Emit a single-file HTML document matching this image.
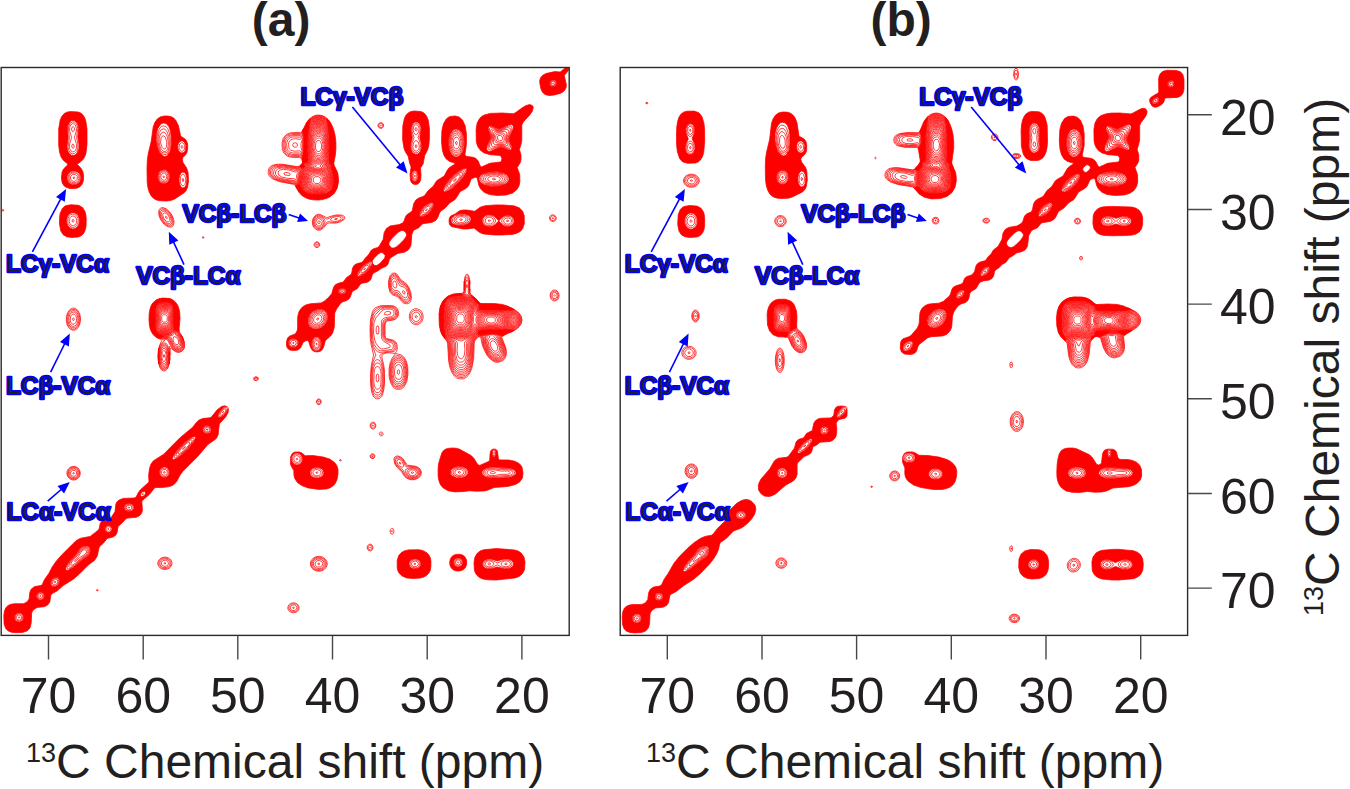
<!DOCTYPE html><html><head><meta charset="utf-8"><style>html,body{margin:0;padding:0;background:#fff;overflow:hidden}svg{display:block}text{font-family:"Liberation Sans",sans-serif;fill:#231f20}.lb,.lb2{font-weight:bold;font-size:24.35px;fill:#231f20;stroke:#0000ff;stroke-linejoin:round}.lb{stroke-width:2.4px;paint-order:stroke}.lb2{stroke-width:1.15px}.ar{stroke:#0000ff;stroke-width:1.6px;fill:none}.cf{fill:#f00;stroke:#f00;stroke-width:0.75px;fill-rule:evenodd}.cw{fill:#fff;fill-rule:evenodd}.ct{fill:none;stroke:#f00;stroke-width:0.75px}.tk{font-size:50px}.ax{font-size:48px}.sp{font-size:27px}</style></head><body><svg width="1350" height="789" viewBox="0 0 1350 789"><path class="cf" d="M550.2 95.5l-2.5-.2-2.6-.8-1.9-1.5-1.4-2-1.1-3-1-5.5 .1-2.5 1-2.5 1.9-2.2 3.3-1.8 8.7-1.9 5.5 .4 5.5-4.4 2.1-.1 .9 1-.1 1.5-4.3 5.5 2 9-.1 2.5-1 2.6-2 2.2-3 1.6-6 1.6-4 .5zM317.2 352l-3-.5-2.1-1.5-1.5-2.5-1.9-6-1.5-1-2 .5-2 1.3-2.7 5.7-2.8 2.1-3 .4-4-.2-2-.9-1.6-1.9-.6-2 0-3.5 1-4 2.2-1.9 5-1.9 1.5-1.7 1-2 .4-2.5 .1-11 .7-3.5 1.2-3 2.6-3.3 3.5-2.2 4.5-1.2 11-.9 3-1.6 4.3-3.8 3.3-4 1.7-6 1.6-2.5 2.4-1.5 5.7-1.4 3.4-4.6 4.4-3 .7-1.5 .9-5 1.6-2.7 2.5-1.6 4.5-1.1 1.5-.8 2.7-3.8 2.9-3 3.2-5 2.2-1.3 4-1.2 1.3-1 4.1-7 1.1-7 2.2-4 3.8-2.6 9-1.3 3.5-1.7 1.4-1.9 1.3-4 1.2-2 5.6-4 1.5-7.3 2-3.5 2.5-1.9 4.5-1.7 2-1.2 3.5-4.8 4.8-4.1 3.7-5.8 7.5-4.7 3.2-6 1.8-2.3 5.8-3.7-.1-1-5.2-1.5-3.5-2.6-2.4-3.9-1.5-5-.8-8.5 .4-11 1.5-6.5 2.8-4.9 2-1.7 1.9-.9 5.1-.5 4 1.1 3.3 2.9 2.7 5.9 1.2 7.6 0 11-1.5 10.5 1.8 1.4 6.5 .9 2.8 1.2 2.2 2.5 2 5 1.5 .9 8-3.6 10.6-1.3 1.2-1 .4-2.5-.7-2.1-1.5-1-9.5-.7-5.9-1.7-3.6-2.4-2.4-3.1-1.3-3-.7-3.5-.2-11.5 1.1-6.5 2.4-4.5 2.1-2 2.5-1.4 6-1.7 12-.4 11 .8 2.5-1.2 6.9-5.1 3.6-2 3.5-.9 2.5 .8 .8 1.1 .2 1.5-1.1 3.5-2.4 3.5-6.4 7-1.5 3 0 15-.6 3.8-1.8 5.7 1.6 5.5 0 4.5-.8 3.3-3 4.7 2.5 7 .2 7-.9 4.5-2.3 3.8-4.1 3.2-6.2 2-9.2 .5-7.5-.9-5.2-2.1-3.9-3.5-1.9-4-1.5-7.2-2-.6-3.3 1.3-1.2 1.5-1.5 4.5-1.5 2.4-2 1.7-5.5 3-5 7.8-5.6 3.6-4.4 5-4.5 3.2-1.2 1.8-1.9 5-1.9 2.4-4 2.1-9 1.2-4 4.1-4 1.9-1.5 1.2-1.4 3.6-.8 10.5-1.3 3-1.5 2-4 2.3-6.5 1.1-7 4.4-1.3 1.7-1.4 4.5-1.5 2-5.3 2.5-3.6 2.5-4 2-1.2 1.5-1.4 4.5-1.5 2-2.8 1.5-4.5 .7-1.7 .8-3.3 4.7-5 2.8-1.9 5.5-1.3 2-2.3 1.5-4.3 1.5-1.9 1.5-3.9 5.5-1.9 4-.4 14-1.6 5.9-2.1 3.1-5.2 4.5-1.8 6.5-1.4 2.7-2 1.6-3 .7zM417.7 184.1l-2.5 .4-2-.4-1.5-1.3-1-1.8-.7-6.5 1.1-7.5-1.5-4-1.4-6.7-3-4.8-1.2-3-1.4-9 .2-13.5 1.7-8 1.7-3.1 2-2 2.5-1.3 3.5-.6 6.7 .5 2.3 1 2 1.7 1.6 2.3 1.4 3.5 1.2 8.5 0 11-.7 6.5-1.2 4-2.8 5.5-1.6 8.5-2.6 4 .5 7-.3 4.5-1 2.8-2 1.8zM74.7 188.5l-4.5 0-3.5-.9-2.5-1.6-2-3.1-.8-4.9 .7-6 1.6-3.2 3.8-3.8 .3-1-4.3-3.5-2.3-3.3-1.6-4.7-.9-7 0-16.5 1.5-9.1 1.5-3.4 2.5-2.9 2.5-1.4 3.5-.6 8 .4 2.5 1 1.8 1.5 1.8 2.5 1.4 3.5 1.3 8.5 0 15.5-1.1 9-1.2 3.3-1.5 2.5-2 2-3.2 2.2-.5 1 3.7 4.1 1.6 2.9 .8 4-.3 5.5-1.1 3.1-2 2.4-2.5 1.4-3 .6zM170.7 200.6l-4 .4-7-.2-3.3-.8-2.7-1.5-2.5-2.6-2-3.8-1.3-4.6-.7-5.5-.2-14 .4-9 1-6 2.8-11.5 2-14.6 1.6-4.4 2.4-3.4 3-2.1 4-1 4 .1 3 .6 2.5 1.4 1.9 1.9 2.8 5.5 2.1 10 .7 1 3.5 2.2 1.3 1.3 1.2 2.4 .5 2.6-.1 4.5-.7 3-1.2 2.2-2.8 2.8-.6 2 .7 3 3.6 5.5 1.5 4.5 .4 8.5-.8 6.1-1.5 3.4-2 2.2-9.5 6.3-4 1.6zM78.2 237l-6.5 .5-5-.7-3.5-2.1-2.5-3.9-1.2-6.8 .1-6.5 .5-4 2.2-5 1.9-1.9 2-1 5-.9 7.5 .6 3.8 2.2 2.5 4 .9 3.5 .3 4-.1 6.5-.7 4-1.2 3-1.5 2-2 1.6-2.5 .9zM502.2 235l-8 0-11-1.1-4-1.7-5.1-4.2-5.9 .9-5 .1-11-2.2-2-1.3-.8-1.5-.4-3 .4-3 1.3-2 4.4-2 4.6-3.3 3-.6 4-.1 8 1.3 5.5-4.1 5-1.5 10.5-.8 7.5 .1 10.5 .8 5.5 2 3.3 3.2 1.7 4.5 .1 8-1.6 5.1-2.5 2.9-4 2-4 .9-10 .6zM22.2 632.5l-7 .2-4-.5-3-1.2-2.5-2.5-1.6-4.5-.3-8.5 .7-5 1.9-3.5 1.8-1.6 3-1.2 3.5-.5 9 0 3.5-1.9 1.9-2.8 .7-6.5 1.5-3.5 3.4-2.4 6-1 1.5-.9 2.3-5.2 4.3-6 3.4-6.5 3.4-5 6-7 13.6-13.4 2.5-1.9 3-1.5 9.5-1.8 8-6.2 1-1.7 1-5 1.4-2 2.6-1.5 5.5-1 1.5-1.5 3.8-6 .9-7.5 1-2 1.8-1.8 4.5-1.8 11-.4 2-1 1.9-4 2.1-3 8.8-8-.4-6.5 .9-7 1.3-4 2.4-3.5 10.5-6.8 16-16.1 13-10.9 4-5.1 2-1.9 4-1.7 7-.7 1.5-.5 6-7.5 4.5-3.4 3-.6 2.5 1.2 1.3 2.5-.4 3-2.5 4.5-6.3 7-1.1 10.4-1 2.6-1.4 2-7.9 5.5-10.2 12-15 15-2.5 3.3-3.5 6.8-2.5 2.7-2.5 1.5-3.5 1-6.5 .8-6-.1-1.5 .8-4.8 6.2-7.6 6.5 .6 9-.5 2.5-1.2 2.1-2 1.6-2.5 1.1-8.5 .8-2 .8-3.2 3.6-4.4 4-1 6-1.4 2.7-2.5 1.7-6 1.5-3.6 4.6-3.9 3.5-.7 1.5-1.7 8-2.6 4.2-6.4 4.8-9 9-5.6 4.9-10.5 6.7-6.2 5.4-5.3 2.8-.9 1.7-1 6.5-2.1 3-3.5 1.7-7 .7-3.4 2.1-1.5 2-.7 2-.4 9.5-1.1 4.5-1.4 2-1.7 1.5-4.8 1.5zM464.2 491.5l-9.5 .4-6.5-1.1-5-2.9-2-2.2-1.5-2.7-1.1-3.5-.5-4 0-7 .5-5 3.2-10.5 1.8-2.5 2.3-1.5 3.3-.8 4.5-.2 3.5 .4 2.5 .9 11.5 6.3 2.8 2.9 3.7 6.1 2 .8 9.5-4.2 .5-1.2 .4-6.5 .6-2.5 1.5-1.7 3-.2 1.5 .9 .8 1.5 .9 7 .8 1.4 9.5 .1 6 1.2 4.5 2.4 1.8 1.9 1.1 2 .9 6-.6 4.5-2.7 3.9-4.2 2.6-7.8 2-13.5 1-6.1 2.5-3.4 .9-8 .3-7.5-.4-5 .7zM326.2 489l-7.5 .4-10.5-1.5-6.5-2.3-4.3-3.1-2.7-4.2-.7-2.8-.2-5-2.6-4.4-.7-2.1 .1-7 1.6-3.5 2.5-1.4 4-.2 2.5 .7 4 3.1 8-.1 10 1.4 6.5 2.1 4.9 3.4 2.2 3 1.2 4 0 4.5-1.1 6-1.7 3.5-2.3 2.5-3.2 2-3.5 1zM496.7 580l-9-.2-4.5-.7-3.8-1.6-2.7-2.5-1.5-2.5-.8-2.5-.4-7 .8-5.5 2.4-4.2 3-2.3 3.5-1.3 13-1.1 17.5 1.3 4 1.2 3 2 2.8 3.9 1 5-.4 7-.9 2.6-1.6 2.4-2.9 2.4-4 1.5-18.5 2.1zM420.2 578.1l-7.5 .4-6-.6-4.5-1.9-3-2.8-1.2-2.2-.8-3 0-7.5 1.5-4.9 3-3.3 3-1.5 3.5-.9 10-.2 3.5 .5 3 1.2 2.4 1.6 1.6 1.7 1.5 2.8 .7 3.5 0 5.5-.7 4-1.5 2.8-2.2 2.2-2.8 1.6-3.5 1zM459.7 571l-3.5-.1-3-1.1-2-1.9-1.3-2.9-.2-3.5 1-3.3 2-2.4 3-1.4 4-.2 3 .9 2.3 1.9 1.5 3 .2 4-1.2 3.5-2.3 2.3-3.5 1.2z"/><path class="cw" d="M393.7 248.1l-2-.2-2.5-2.4-.3-2 .7-2 2.7-3.5 5.9-5.7 3-1.7 2.5 .1 2 1.8 .8 1.5 0 1.5-.8 1.8-2 2.7-5 5-2.5 2-2.5 1.1zM376.7 265.6l-2-.2-2-1.8-.6-1.6 .4-1.5 1.7-2.5 4.5-4.3 2-1.1 2 .2 2.5 2.7-.4 2.5-4.6 5.2-3.5 2.4z" style="stroke:#f00;stroke-width:0.75px"/><path class="cw" d="M554.2 86.6l-2.5-.1-1.3-1-.7-1.4 .4-2.6 2.1-1.6 2.5 .3 1 .8 .8 1.5-.3 2.5-2 1.6zM73.7 155.5l-2.5-.3-2-1.7-1.6-3-.6-4 1.2-9-.8-7.5 .3-4 2-4 1.5-1.2 1.5-.4 2 .4 2 1.7 1.3 2.5 .6 3.5-.8 8.5 1.2 7.5-.1 4-1.7 4.5-1.5 1.6-2 .9zM417.7 154.1l-2.5 .2-2.5-1.6-1.5-2.7-.6-3.5 .3-3 1.5-6-1.3-7 .2-3.5 1.6-3.5 1.3-1.1 1.5-.5 2 .4 1.6 1.2 1.4 2.5 .5 2.5-1.4 9 1.6 6.5 .1 4-1.3 3.7-2.5 2.4zM166.2 156.2l-1.5 .2-1.5-.5-3.6-3.4-2.3-5.5-1.1-6.5 .1-6.5 1.4-5.3 2.5-3.9 1.5-1.2 2-.6 2.5 .6 2.5 2.7 1.5 3.8 .9 5.9 .2 8-.8 6-.8 2.5-.8 .5-1.2 2.1-1.5 1.1zM491.2 151.1l-2 .3-1.5-.3-1.1-2.1 .7-3.5 3.5-7.5-.2-2.5-2.4-6.5 .5-2.3 1-.5 1.5 0 6 2.3 2.5 .4 2-.6 7-3.4 2.5-.3 1.5 .7 .6 1.2-.1 2.5-3.6 7.5-.5 2 .4 2.5 2.2 5.5-.2 2.5-.8 .7-2 0-6-2.3-2.5-.3-9 4zM458.2 156.6l-2 .4-1.5-.3-2.9-2.2-2.2-4-1.1-5.5 .2-5.8 1.6-5.2 2.5-3.5 1.5-1 1.9-.5 3 .9 2.5 2.6 1.8 4 .8 4.5-.1 5.1-1.2 4.9-2.3 3.8-2.5 1.8zM183.2 152.7l-2 .2-1.5-.9-1.1-1.5-.8-2.5 0-2.5 .6-2 1.3-1.8 1.5-.8 1.5 .1 1.5 .9 1.7 3.6-.4 4.5-.8 1.5-1.5 1.2zM446.2 191.6l-1.5 .1-1-.4-.3-2.3 1.8-4 4-5.4 5-5 5-3.9 4.5-2.3 2.5 .2 .6 1.4-.9 3-2.1 3.5-3.1 4-8 7.5-3.5 2.3-3 1.3zM165.2 183.5l-2.5 .1-2.2-1.1-1.7-2-.9-2.5 .1-3 1-2.5 1.7-1.8 2.5-1 2 .1 2.1 1.2 1.6 2 .8 2.5 0 2.5-.9 2.5-1.6 2-2 1zM75.7 184.6l-3 .1-2.5-1-1.9-1.7-1.2-2.5-.1-3 1-2.5 1.7-1.8 2.5-1.2 3-.1 2.5 1 2 2 1 2.1 .1 3-1 2.5-1.8 2-2.3 1.1zM416.2 181.1l-1.5 .4-1.5-.7-1-1.3-.7-2.5 0-2.5 .7-2 1-1.3 1.5-.7 1.5 .4 1 1 1.1 3.1-.3 3.5-1.8 2.6zM499.2 186l-8 .4-7-1.7-2.5-1.4-1.8-1.8-.9-2 .3-2 1.4-2 2.1-1.5 6.4-2.1 7.5-.3 7 1.7 2.5 1.3 1.9 1.9 .9 2-.3 2-1.4 2-2.1 1.5-6 2zM184.2 187.6l-1.5 .4-1.6-1-1.4-2.5-.6-3 0-3 .6-3 1.4-2.5 1.6-1 1.5 .4 1.1 1.1 1 2 .6 3-.4 5.5-.9 2-1.4 1.6zM422.7 216.6l-2-.2-1.1-1.4 .3-2.5 1.9-3.5 2.8-3 3.1-2.2 3-1.1 2 .4 .8 1.4-.1 1.5-2.2 4.4-4 4-4.5 2.2zM75.2 228.5l-2.5 .5-2.8-1-2.2-2.5-1-2.7-.1-3.3 1.1-3.4 2-2.4 2.5-1 2.5 .2 2 1.2 1.6 1.9 1 3 .1 3-.7 2.7-1.5 2.4-2 1.4zM462.7 225.5l-5.3 0-4.2-1.6-1.4-1.4-.7-1.5 .1-1.9 .9-1.6 3.1-2.4 4.5-1.3 5 .1 4.1 1.6 1.5 1.5 .6 1.5 0 1.5-.7 1.5-2.9 2.5-4.6 1.5zM490.7 226.6l-2.5 0-2.5-.8-1.8-1.3-1.3-2-.4-2 .5-2 1.5-2 2-1.2 3-.6 3.5 .7 2.5 1.6 3.2 3.5 .2 .5-3.4 3.5-2.5 1.5-2 .6zM507.2 226.5l-2.4-.5-2-1-4-4 2.1-2.5 2.7-2 2.6-.9 2.5 0 2 .5 2 1.4 1.2 2 .3 2-.7 2-1.3 1.5-2.5 1.2-2.5 .3zM360.7 276.1l-2.5 .3-1-1.4 .6-2.5 2.2-3.5 3.2-3.4 3.5-2.7 3-1.3 2 .3 .5 1.1-.3 1.5-2.5 4.5-4.2 4.3-4.5 2.8zM343.7 294l-2.5 .2-2.4-1.2-.7-2 .8-1.5 1.8-1 1.5-.2 1.5 .3 1.6 .9 .6 1 .1 1.5-.8 1.2-1.5 .8zM317.2 329l-4-.3-3.5-2.3-1.7-3.4 .1-4.5 1.8-4 3.3-3.3 4-1.9 4.5-.1 3 1.3 2 2.2 1.1 3.3-.3 3.5-1.5 3.5-2.3 2.8-3 2.1-3.5 1.1zM318.2 350.6l-2 .4-2-.8-1.5-1.7-1-2.5-.1-3 .6-2.6 1.5-2.3 2-1.1 2 .1 1.5 1 1.4 1.9 .7 2 .2 2.5-.5 2.5-1.3 2.4-1.5 1.2zM295.2 347.2l-3.5 0-1.5-.7-1.3-1.5-.4-3 .7-1.5 1.5-1.3 2-.7 2 .2 1.8 .8 1.4 1.5 .5 1.5-.3 2-1 1.5-1.9 1.2zM220.2 417.6l-1.5-.1-.7-1.5 .3-2 1.3-2.5 4.1-4.2 2-.9 1.6 .1 .7 1 0 1-1.3 3.5-3 3.6-3.5 2zM207.7 433.6l-1.5-.1-2-1-.9-1-.5-1.5 .2-1.5 .9-1.5 1.3-1 1.5-.5 1.5 .2 1.5 .7 1.5 2.6-.1 1.5-.7 1.5-1.2 1.1-1.5 .5zM173.7 459.6l-1-.3-.3-.8 .8-2.5 2.6-4 3.9-4.6 4.5-4.4 5-4 3.5-2.1 2.5-.3 .3 1.4-1.3 3-6 7.7-8 7.3-3.7 2.5-2.8 1.1zM494.7 456.7l-1.5 0-1.1-2.7 .2-3 1.4-2 1.5 .8 .7 2.2-.2 3-1 1.7zM299.2 464.5l-2.5 .5-2-.6-1.8-1.4-1.1-2-.3-2.5 .5-2 1.4-2 1.8-1.2 2-.3 2 .5 1.9 1.5 1.1 2 .3 2.5-.5 2-1.3 2-1.5 1zM461.7 478.1l-5.2-.1-4.3-2-1.3-1.5-.5-1.5 .1-2 .8-1.5 2.9-2.1 4-1.1 4.5 .5 3.6 1.7 1.8 2.5-.1 3-2.3 2.5-4 1.6zM166.2 477.1l-2 .3-2-.5-1.7-1.4-1-2-.1-2 .8-2 1.5-1.5 2-.9 1.5-.1 1.6 .5 1.4 1.4 1 2.1 .2 2-.5 1.5-1 1.5-1.7 1.1zM318.7 478l-4.5-.2-2-1-1.5-1.6-.7-1.7 .1-2 .7-1.5 1.6-1.5 2.8-1.1 3-.1 3 1.1 1.8 1.6 .9 2.5-.6 2.5-2 2-2.6 1zM496.2 478l-6 .1-4.5-1.1-3.2-2.5-.5-1.5 .2-1.5 1.7-2 2.3-1.3 3-.8 4-.3 17.5 1.3 3.5 1.4 1.7 2.2 0 1.5-.7 1.2-3.5 2.1-3.5 .6-12 .6zM142.2 496.5l-1-.2-.7-.8 .4-2 1.8-1.7 2-.2 .8 .9-.3 1.8-1.5 1.7-1.5 .5zM131.2 511.1l-3 .3-3.1-1.4-1.1-2.5 1.1-2.5 1.6-1 2.5-.5 2 .4 1.7 1.1 .9 1.5 0 2-.9 1.5-1.7 1.1zM110.2 532l-1.5 .5-1.5-.2-2-1.8-.1-2.5 1.6-2.1 2.5-.3 2.1 1.4 .6 1.5-.1 1.5-1.6 2zM68.7 570l-2 .2-.9-.7 0-1.5 .9-2.5 2.7-4 6.7-7.5 3.8-5.5 2.3-1.8 2.5-.8 2.5 .1 1.9 1 .9 1.5 .4 2.5-.6 2.5-1.2 2-6.9 4.7-8 7-5 2.8zM459.7 566.6l-2 .3-1.5-.5-1.3-.9-.9-1.5-.3-1.5 .4-2 1.1-1.5 1.5-.8 2-.3 1.5 .5 1.4 1.1 .9 1.5 .2 1.5-.5 2-1 1.2-1.5 .9zM417.2 568.5l-4 .2-2-.9-1.4-1.3-.9-3 .5-1.5 1.3-1.7 2-1 2.5-.4 2.5 .6 2.1 1.5 1 2-.1 2.2-1.1 1.8-2.4 1.5zM508.7 568.6l-4.5 .2-7-1.9-6 1.8-4 0-2-.7-1.7-1.5-.8-1.5-.1-2 1.6-2.5 3.5-1.5 3.5 .1 6 1.8 7-1.9 4 .1 3.5 1.5 1.3 1.4 .6 1.5-.2 1.5-.9 1.5-1.8 1.3-2 .8zM55.2 586.6l-2 0-1.5-.7-1.1-1.9 .1-2 1-2 1.5-1.4 2-.9 2-.1 2 1.4 .4 3-1.6 3-2.8 1.6zM40.7 600.1l-1.5-.2-1.5-.8-1.4-2.6 .9-2.9 2.5-1.4 1.5 0 1.5 .7 1 1.1 .6 1.5-.1 1.5-.7 1.5-1.3 1.1-1.5 .5zM20.7 621.6l-1.5 .3-2-.4-1.5-1-.9-1.5-.3-2 .4-1.5 2.3-2.2 1.5-.4 2 .3 1.5 1 .9 1.3 .4 1.5-.3 2-1 1.6-1.5 1z"/><path class="ct" d="M554.2 86.6l-2.5-.1-1.3-1-.7-1.4 .4-2.6 2.1-1.6 2.5 .3 1 .8 .8 1.5-.3 2.5-2 1.6zM73.7 155.5l-2.5-.3-2-1.7-1.6-3-.6-4 1.2-9-.8-7.5 .3-4 2-4 1.5-1.2 1.5-.4 2 .4 2 1.7 1.3 2.5 .6 3.5-.8 8.5 1.2 7.5-.1 4-1.7 4.5-1.5 1.6-2 .9zM417.7 154.1l-2.5 .2-2.5-1.6-1.5-2.7-.6-3.5 .3-3 1.5-6-1.3-7 .2-3.5 1.6-3.5 1.3-1.1 1.5-.5 2 .4 1.6 1.2 1.4 2.5 .5 2.5-1.4 9 1.6 6.5 .1 4-1.3 3.7-2.5 2.4zM166.2 156.2l-1.5 .2-1.5-.5-3.6-3.4-2.3-5.5-1.1-6.5 .1-6.5 1.4-5.3 2.5-3.9 1.5-1.2 2-.6 2.5 .6 2.5 2.7 1.5 3.8 .9 5.9 .2 8-.8 6-.8 2.5-.8 .5-1.2 2.1-1.5 1.1zM491.2 151.1l-2 .3-1.5-.3-1.1-2.1 .7-3.5 3.5-7.5-.2-2.5-2.4-6.5 .5-2.3 1-.5 1.5 0 6 2.3 2.5 .4 2-.6 7-3.4 2.5-.3 1.5 .7 .6 1.2-.1 2.5-3.6 7.5-.5 2 .4 2.5 2.2 5.5-.2 2.5-.8 .7-2 0-6-2.3-2.5-.3-9 4zM458.2 156.6l-2 .4-1.5-.3-2.9-2.2-2.2-4-1.1-5.5 .2-5.8 1.6-5.2 2.5-3.5 1.5-1 1.9-.5 3 .9 2.5 2.6 1.8 4 .8 4.5-.1 5.1-1.2 4.9-2.3 3.8-2.5 1.8zM183.2 152.7l-2 .2-1.5-.9-1.1-1.5-.8-2.5 0-2.5 .6-2 1.3-1.8 1.5-.8 1.5 .1 1.5 .9 1.7 3.6-.4 4.5-.8 1.5-1.5 1.2zM446.2 191.6l-1.5 .1-1-.4-.3-2.3 1.8-4 4-5.4 5-5 5-3.9 4.5-2.3 2.5 .2 .6 1.4-.9 3-2.1 3.5-3.1 4-8 7.5-3.5 2.3-3 1.3zM165.2 183.5l-2.5 .1-2.2-1.1-1.7-2-.9-2.5 .1-3 1-2.5 1.7-1.8 2.5-1 2 .1 2.1 1.2 1.6 2 .8 2.5 0 2.5-.9 2.5-1.6 2-2 1zM75.7 184.6l-3 .1-2.5-1-1.9-1.7-1.2-2.5-.1-3 1-2.5 1.7-1.8 2.5-1.2 3-.1 2.5 1 2 2 1 2.1 .1 3-1 2.5-1.8 2-2.3 1.1zM416.2 181.1l-1.5 .4-1.5-.7-1-1.3-.7-2.5 0-2.5 .7-2 1-1.3 1.5-.7 1.5 .4 1 1 1.1 3.1-.3 3.5-1.8 2.6zM499.2 186l-8 .4-7-1.7-2.5-1.4-1.8-1.8-.9-2 .3-2 1.4-2 2.1-1.5 6.4-2.1 7.5-.3 7 1.7 2.5 1.3 1.9 1.9 .9 2-.3 2-1.4 2-2.1 1.5-6 2zM184.2 187.6l-1.5 .4-1.6-1-1.4-2.5-.6-3 0-3 .6-3 1.4-2.5 1.6-1 1.5 .4 1.1 1.1 1 2 .6 3-.4 5.5-.9 2-1.4 1.6zM422.7 216.6l-2-.2-1.1-1.4 .3-2.5 1.9-3.5 2.8-3 3.1-2.2 3-1.1 2 .4 .8 1.4-.1 1.5-2.2 4.4-4 4-4.5 2.2zM75.2 228.5l-2.5 .5-2.8-1-2.2-2.5-1-2.7-.1-3.3 1.1-3.4 2-2.4 2.5-1 2.5 .2 2 1.2 1.6 1.9 1 3 .1 3-.7 2.7-1.5 2.4-2 1.4zM462.7 225.5l-5.3 0-4.2-1.6-1.4-1.4-.7-1.5 .1-1.9 .9-1.6 3.1-2.4 4.5-1.3 5 .1 4.1 1.6 1.5 1.5 .6 1.5 0 1.5-.7 1.5-2.9 2.5-4.6 1.5zM490.7 226.6l-2.5 0-2.5-.8-1.8-1.3-1.3-2-.4-2 .5-2 1.5-2 2-1.2 3-.6 3.5 .7 2.5 1.6 3.2 3.5 .2 .5-3.4 3.5-2.5 1.5-2 .6zM507.2 226.5l-2.4-.5-2-1-4-4 2.1-2.5 2.7-2 2.6-.9 2.5 0 2 .5 2 1.4 1.2 2 .3 2-.7 2-1.3 1.5-2.5 1.2-2.5 .3zM360.7 276.1l-2.5 .3-1-1.4 .6-2.5 2.2-3.5 3.2-3.4 3.5-2.7 3-1.3 2 .3 .5 1.1-.3 1.5-2.5 4.5-4.2 4.3-4.5 2.8zM343.7 294l-2.5 .2-2.4-1.2-.7-2 .8-1.5 1.8-1 1.5-.2 1.5 .3 1.6 .9 .6 1 .1 1.5-.8 1.2-1.5 .8zM317.2 329l-4-.3-3.5-2.3-1.7-3.4 .1-4.5 1.8-4 3.3-3.3 4-1.9 4.5-.1 3 1.3 2 2.2 1.1 3.3-.3 3.5-1.5 3.5-2.3 2.8-3 2.1-3.5 1.1zM318.2 350.6l-2 .4-2-.8-1.5-1.7-1-2.5-.1-3 .6-2.6 1.5-2.3 2-1.1 2 .1 1.5 1 1.4 1.9 .7 2 .2 2.5-.5 2.5-1.3 2.4-1.5 1.2zM295.2 347.2l-3.5 0-1.5-.7-1.3-1.5-.4-3 .7-1.5 1.5-1.3 2-.7 2 .2 1.8 .8 1.4 1.5 .5 1.5-.3 2-1 1.5-1.9 1.2zM220.2 417.6l-1.5-.1-.7-1.5 .3-2 1.3-2.5 4.1-4.2 2-.9 1.6 .1 .7 1 0 1-1.3 3.5-3 3.6-3.5 2zM207.7 433.6l-1.5-.1-2-1-.9-1-.5-1.5 .2-1.5 .9-1.5 1.3-1 1.5-.5 1.5 .2 1.5 .7 1.5 2.6-.1 1.5-.7 1.5-1.2 1.1-1.5 .5zM173.7 459.6l-1-.3-.3-.8 .8-2.5 2.6-4 3.9-4.6 4.5-4.4 5-4 3.5-2.1 2.5-.3 .3 1.4-1.3 3-6 7.7-8 7.3-3.7 2.5-2.8 1.1zM494.7 456.7l-1.5 0-1.1-2.7 .2-3 1.4-2 1.5 .8 .7 2.2-.2 3-1 1.7zM299.2 464.5l-2.5 .5-2-.6-1.8-1.4-1.1-2-.3-2.5 .5-2 1.4-2 1.8-1.2 2-.3 2 .5 1.9 1.5 1.1 2 .3 2.5-.5 2-1.3 2-1.5 1zM461.7 478.1l-5.2-.1-4.3-2-1.3-1.5-.5-1.5 .1-2 .8-1.5 2.9-2.1 4-1.1 4.5 .5 3.6 1.7 1.8 2.5-.1 3-2.3 2.5-4 1.6zM166.2 477.1l-2 .3-2-.5-1.7-1.4-1-2-.1-2 .8-2 1.5-1.5 2-.9 1.5-.1 1.6 .5 1.4 1.4 1 2.1 .2 2-.5 1.5-1 1.5-1.7 1.1zM318.7 478l-4.5-.2-2-1-1.5-1.6-.7-1.7 .1-2 .7-1.5 1.6-1.5 2.8-1.1 3-.1 3 1.1 1.8 1.6 .9 2.5-.6 2.5-2 2-2.6 1zM496.2 478l-6 .1-4.5-1.1-3.2-2.5-.5-1.5 .2-1.5 1.7-2 2.3-1.3 3-.8 4-.3 17.5 1.3 3.5 1.4 1.7 2.2 0 1.5-.7 1.2-3.5 2.1-3.5 .6-12 .6zM142.2 496.5l-1-.2-.7-.8 .4-2 1.8-1.7 2-.2 .8 .9-.3 1.8-1.5 1.7-1.5 .5zM131.2 511.1l-3 .3-3.1-1.4-1.1-2.5 1.1-2.5 1.6-1 2.5-.5 2 .4 1.7 1.1 .9 1.5 0 2-.9 1.5-1.7 1.1zM110.2 532l-1.5 .5-1.5-.2-2-1.8-.1-2.5 1.6-2.1 2.5-.3 2.1 1.4 .6 1.5-.1 1.5-1.6 2zM68.7 570l-2 .2-.9-.7 0-1.5 .9-2.5 2.7-4 6.7-7.5 3.8-5.5 2.3-1.8 2.5-.8 2.5 .1 1.9 1 .9 1.5 .4 2.5-.6 2.5-1.2 2-6.9 4.7-8 7-5 2.8zM459.7 566.6l-2 .3-1.5-.5-1.3-.9-.9-1.5-.3-1.5 .4-2 1.1-1.5 1.5-.8 2-.3 1.5 .5 1.4 1.1 .9 1.5 .2 1.5-.5 2-1 1.2-1.5 .9zM417.2 568.5l-4 .2-2-.9-1.4-1.3-.9-3 .5-1.5 1.3-1.7 2-1 2.5-.4 2.5 .6 2.1 1.5 1 2-.1 2.2-1.1 1.8-2.4 1.5zM508.7 568.6l-4.5 .2-7-1.9-6 1.8-4 0-2-.7-1.7-1.5-.8-1.5-.1-2 1.6-2.5 3.5-1.5 3.5 .1 6 1.8 7-1.9 4 .1 3.5 1.5 1.3 1.4 .6 1.5-.2 1.5-.9 1.5-1.8 1.3-2 .8zM55.2 586.6l-2 0-1.5-.7-1.1-1.9 .1-2 1-2 1.5-1.4 2-.9 2-.1 2 1.4 .4 3-1.6 3-2.8 1.6zM40.7 600.1l-1.5-.2-1.5-.8-1.4-2.6 .9-2.9 2.5-1.4 1.5 0 1.5 .7 1 1.1 .6 1.5-.1 1.5-.7 1.5-1.3 1.1-1.5 .5zM20.7 621.6l-1.5 .3-2-.4-1.5-1-.9-1.5-.3-2 .4-1.5 2.3-2.2 1.5-.4 2 .3 1.5 1 .9 1.3 .4 1.5-.3 2-1 1.6-1.5 1zM553.7 86.1l-2-.3-1.4-1.8 .4-2.3 2-1.2 2.1 .5 1.1 2-.5 2-1.7 1.1zM74.7 153.5l-2.5 .4-2-1.2-1.5-2.5-.7-3.2 1.4-9.5-1-7 .1-3.5 1.7-3.8 2.5-1.4 2 .5 1.5 1.4 1 2 .5 2.8-1.1 9 1.2 6.5 .1 3.5-1.2 4-2 2zM417.7 152.5l-2 .4-2-.9-1.5-2.3-.6-3.2 .3-3 2.1-6-1.9-6 0-4 1.4-3 2.2-1.3 1.5 .2 1.5 1 1 1.7 .6 2.4-.3 3-1.8 6 2.1 6 .3 4-1 3-1.9 2zM166.2 154.5l-2.5 .1-3.1-2.1-2.2-4.5-1.3-6 0-6 1.1-4.8 2-3.6 1.5-1.2 1.5-.6 2.5 .6 2 2.2 1.5 3.9 .9 5.5 .2 6.5-.6 5-1.1 3-2.4 2zM490.7 150l-2-.5-.7-1.5 .5-3 3-7-.2-2.5-1.9-5.5 .3-2 1-.6 1.5 .1 5 1.7 2.5 .3 2-.4 6.5-2.9 2-.2 1.1 .5 .7 1.5-.2 2-2.7 6-.6 2.5 2.1 7.5-.4 2.1-2 .5-5.5-1.8-2.5-.3-9.5 3.5zM457.7 155.6l-3-.2-2.5-1.9-2.1-4-1-5 .3-5 1.3-4.5 2.5-3.5 3-1.3 2.5 .7 2.5 2.4 1.7 3.7 .8 4.5-.3 5-1.2 4.3-2 3.1-2.5 1.7zM182.7 151.2l-1.5 0-1-.7-1.2-3 .6-3.5 2.1-1.5 2 .9 1.1 2.6-.2 3-.9 1.5-1 .7zM446.2 190.5l-1-.1-.7-.9 .4-2.5 2.3-4 3.5-4.3 4.5-4.4 4.5-3.2 3.5-1.6 2 .4 .3 1.6-.9 2.5-2.1 3.5-3.3 4-7.5 6.5-3 1.8-2.5 .7zM165.2 182.6l-2 .1-2-.7-1.5-1.5-1-2.5 0-2.5 1-2.5 1.5-1.6 2-.8 2 .2 1.5 .8 1.5 1.8 .7 2.1 0 2.5-.7 2-1.2 1.5-1.8 1.1zM414.7 180.5l-1-.4-1-1.2-.6-3.4 1.1-3.1 2-.9 1 .5 1 1.3 .6 3.2-1.1 3-2 1zM75.7 183.6l-2.5 .2-2-.6-2-1.5-1.1-2.2-.2-2.5 .6-2 1.7-2 2-1 2.5-.2 2 .6 1.9 1.6 1.1 2 .2 2.5-.6 2-1.5 2-2.1 1.1zM498.2 185.5l-7 .2-6.6-1.7-2.4-1.5-1.3-1.5-.6-1.5 .3-2 1.1-1.5 2-1.5 6-2 7.5-.2 6.2 1.7 2.4 1.5 1.3 1.5 .6 1.5-.3 2-1.1 1.5-2.1 1.6-6 1.9zM183.7 185.6l-1 .1-1.1-.7-.9-1.5-.5-2.5 .5-4.5 1-1.6 1-.6 1 .1 1 1 1.1 3.6-.4 4-.7 1.6-1 1zM423.7 215.6l-2 0-1.1-1.1 0-2 1.5-3 2.6-2.9 3-2.1 2.5-.8 1.7 .3 .6 1 0 1.5-1.7 3.5-3.4 3.5-3.7 2.1zM73.2 227.5l-2-.4-2-1.6-1.1-2-.4-2.5 .3-2.5 1.2-2.4 1.5-1.4 2-.6 2 .3 2 1.5 1.2 2.1 .4 2.5-.3 2.5-1.2 2.5-1.6 1.4-2 .6zM463.7 224.5l-5 .4-4-1.3-2.1-2.1-.3-1.5 .5-1.5 2.6-2.5 3.8-1.3 4.5-.1 3.5 1.1 2.2 2.3 0 2.5-2.2 2.5-3.5 1.5zM490.2 225.6l-2-.1-2-.6-1.6-1.4-.9-1.6-.1-1.9 .6-1.6 1.5-1.6 2-.8 2.5-.2 2.2 .7 2 1.5 1.1 2-.2 2-1 1.5-2.1 1.5-2 .6zM507.7 225.5l-2-.3-2-1-1.6-1.7-.4-1.5 .4-1.5 1.2-1.5 1.9-1.1 2-.4 2 .2 2 .9 1.3 1.4 .5 2-.3 1.5-1 1.5-1.5 1-2.5 .5zM359.7 275.5l-1.2-.5-.2-1.5 1-2.5 1.9-2.7 5.5-4.7 2.5-1 1.5 .2 .5 1.2-.3 1.5-2.7 4.2-4.5 4.1-4 1.7zM343.2 293.6l-2 .1-1.5-.7-.9-1.5 .5-1.5 2.4-1.1 1.6 .1 1.4 .8 .7 1.2-.2 1-.7 1-1.3 .6zM317.7 328.1l-4-.2-3-1.8-1.8-3.1-.1-4 1.7-4 2.9-3 3.8-1.9 4-.1 2.6 1 2 2 1.1 3-.1 3-1.1 3-2 2.7-3 2.3-3 1.1zM317.2 350l-2-.2-1.5-1.2-1-1.7-.5-2.4 .2-2.5 .8-2 1.5-1.6 1.5-.5 1.5 .2 1.5 1.1 1.1 1.8 .5 2.5-.2 2.5-.8 2-1.1 1.2-1.5 .8zM294.7 346.5l-3-.1-2.1-1.9-.3-1.5 .3-1.5 2.1-1.9 3-.1 1.5 .8 1 1.2 .3 1.5-.3 1.5-1 1.2-1.5 .8zM220.7 416.6l-1.2-.1-.6-1 .3-1.9 1-2 3.5-3.5 1.5-.7 1.3 .1 .6 1 0 1-1.4 3-2.5 2.7-2.5 1.4zM208.7 432.5l-2.5 .3-2.3-1.8-.1-2.5 1.9-2 2.5-.1 1.9 1.6 .3 2.5-1.7 2zM175.2 458l-1.2-.5 .6-2.5 5.7-7.5 8.4-7.5 3-1.7 2-.2 .3 1.4-.9 2-5.4 7-7 6.5-3 2-2.5 1zM494.7 455.5l-1 .3-1-1.8 0-2.2 1-1.6 1 .3 .6 1.5 0 2-.6 1.5zM298.7 463.6l-1.5 .3-2-.4-1.5-1.1-1-1.9-.2-2 .6-2 1.1-1.4 1.5-.8 2-.2 1.5 .6 1.4 1.3 .7 1.5-.2 3.5-.9 1.5-1.5 1.1zM459.7 477.5l-4.5-.8-3-2.2-.6-1.5 0-1.5 .7-1.5 1.7-1.5 3.2-1.2 4-.1 3.5 1.3 1.9 2 .5 2.5-1.1 2-2.8 1.8-3.5 .7zM164.2 476.5l-1.5-.4-1.5-1.1-.8-1.5-.2-1.5 .4-1.5 1.1-1.4 3-1.1 1.5 .4 1.3 1.1 1 3-.3 1.5-1 1.4-1.5 .9-1.5 .2zM494.2 477.5l-4.5-.2-4-1.3-1.3-1-1-1.5 .5-2.5 1.7-1.5 2.1-1 5.5-.7 16.5 1.2 3 1 1.8 2 0 1.5-.7 1-3.1 1.7-16.5 1.3zM318.2 477.1l-4-.4-2.6-2.2-.4-1.5 .2-1.5 .9-1.5 1.3-1 2.6-.8 2.5 .2 2.3 1.1 1.2 1.5 .4 2-.8 2-1.6 1.4-2 .7zM143.2 494.5l-.8 0 0-.5 .8-.6 .4 .6-.4 .5zM130.2 510.6l-2.9-.1-1.9-1.5-.5-2 1.4-2 1.4-.6 2-.1 2 .7 1 1 .4 1.5-.4 1.4-1 1.1-1.5 .6zM108.7 531.5l-2-.7-.8-1.8 .8-1.8 1.5-.7 1.7 .5 1 1.5-.5 2-1.7 1zM70.2 568.5l-2 .4-1-.6 0-1.6 .9-2.2 2.8-4 5.9-6.5 3.4-4.9 1.9-1.6 2.1-.8 2.5 0 1.7 .8 1 1.5 .3 2-.4 2-1.1 2-6.5 4.5-7.3 6.5-4.2 2.5zM458.7 566.1l-2.5-.6-1-1-.6-1.5 .6-2.7 2.5-1.6 2.8 .8 1.4 2.5-.7 2.6-1 .9-1.5 .6zM415.2 568l-3.5-1-1.7-2.5 .1-1.5 .8-1.5 1.3-1 2-.7 3.5 .7 1.5 1.4 .6 1.6-.2 1.5-.9 1.5-1.5 1-2 .5zM506.2 568l-3.5-.5-5.5-2.7-5 2.7-2 .5-2.5-.1-3-1.6-.8-1.3-.2-1.6 1.5-2.4 3-1.2 4 .5 5 2.7 6.7-3 2.8-.2 2.9 .7 2.3 2 .1 2.5-1.9 2-3.9 1zM55.7 585.7l-1.5 .2-1.5-.4-1-1.1-.3-1.9 .5-1.5 1.3-1.5 1.9-1 1.6-.1 1.7 1.1 .4 2.5-1.1 2.2-2 1.5zM41.7 599.1l-2.5 .1-1.9-1.7-.1-2.5 .6-1 1.4-1 2.5 .1 1.7 1.9-.1 2.5-1.6 1.6zM19.7 621l-2.7-.5-1-1-.6-1.5 .4-2.5 .9-1 1.5-.7 2.5 .3 1.1 .9 .8 1.5 0 1.5-.6 1.5-2.3 1.5zM554.2 85.1l-1.5 .2-1.3-.8-.3-1.5 1-1.5 1.6-.2 1 .7 .5 1.5-1 1.6zM74.2 151.6l-1.5 .3-1.7-.9-1.3-2.3-.3-2.2 .3-3 1.9-6-1.9-6.4-.1-3.6 1.1-2.6 2-1.2 1.5 .2 1 .9 1.3 3.7-.3 3.1-1.8 5.9 1.9 6 .3 3.5-.9 3-1.5 1.6zM416.7 134.5l-1 .1-1-.7-1-1.6-.6-2.3 .5-3.5 2.1-1.7 1.4 .2 1.1 .9 .9 2.6-.5 3.5-1.9 2.5zM493.7 148l-3 .3-1.1-1.3 .1-2 2.4-7-1.4-7 .5-1.9 2-.3 4.5 1.2 2.5 .1 7-2.4 2.6 .3 .6 1 0 1.5-2.5 7.5 1.4 7-.2 1.5-.9 .7-1 .1-5-1.3-2.5-.1-6 2.1zM164.7 153l-2.6-.5-1.8-2.5-1.6-4.3-.7-4.7 .2-4.5 1-3.9 2-2.9 2-.9 2 .6 2 2.6 1.5 4.5 .6 5-.1 5-1 4.2-1.1 1.8-2.4 .5zM458.2 154l-1.5 .5-1.5-.2-2.5-1.8-1.9-3.5-.8-4 .1-5 1.1-4 2-3 1.5-1.1 1.5-.4 2.5 .8 2 2 1.4 3.2 .7 3.5 0 4-.8 4-1.8 3.3-2 1.7zM416.7 151.1l-1.5-.1-1-.8-1-1.6-.4-2.1 .9-3.9 1-1.4 1.5-.7 2 1.6 1.2 3.9-.7 3.2-2 1.9zM182.2 148.3l-1.1-.8 .1-1.4 .5-.5 .5 0 .6 .9 0 1-.6 .8zM447.7 189.1l-1 0-.7-.6 .1-2 1.6-3.1 3-3.9 4-4 4-3 3-1.5 2 .1 .4 1.4-.6 2-4.2 6-6.5 6-5.1 2.6zM164.7 181.6l-2-.1-1.5-.8-1-1.3-.6-1.9 .6-3.5 1.3-1.5 1.7-.8 1.5 .1 1.5 .7 1.2 1.5 .6 2-.7 3.5-1.1 1.3-1.5 .8zM75.2 182.6l-2 .1-2-.7-1.5-1.5-.6-1.5-.1-2 .7-1.9 1.5-1.5 1.5-.6 2-.1 1.7 .6 1.3 1.1 1 1.9 .1 2-.6 1.8-1.5 1.6-1.5 .7zM415.7 179l-1.6 0-1.2-2 .3-2.8 1.5-1.4 1.5 .7 .7 1.5-.2 2.5-1 1.5zM496.2 185l-6.5-.3-5-1.7-2.6-2.5-.4-1.5 .4-1.5 1.2-1.5 2.4-1.5 3-1 4-.6 4 .1 3.5 .7 3.1 1.3 1.9 1.5 .9 1.5 .1 1.5-1.5 2.5-3.6 2-4.9 1zM183.2 181.5l-.5-.1-.5-1.4 .5-1.4 .5-.1 .6 1.5-.6 1.5zM424.2 214.5l-1.9 0-.7-1 .1-1.5 1.3-2.5 1.7-2 2.5-1.9 2-.8 1.7 .2 .5 2-1.4 3-2.8 2.9-3 1.6zM460.7 224l-3.5-.5-2.5-1.5-.8-2 .8-2 2.5-1.7 3.5-.9 3.5 .3 2.7 1.3 1.2 2-.9 2.5-3 1.9-3.5 .6zM73.7 225.6l-1.5-.1-1.5-.8-1-1.4-.5-1.8 .1-2 .9-2 1-1 1.5-.5 1.5 .2 1.2 .8 1.4 3-.6 3.5-1 1.3-1.5 .8zM490.7 224l-2.9 0-2.1-1.5-.5-2.5 1.5-2.1 1.5-.6 2-.1 1.5 .6 1.4 1.2 .6 1.5-.4 1.5-1.1 1.3-1.5 .7zM508.7 224.1l-2.7-.1-2-1.5-.4-2 1.4-2 3.2-.7 2 .7 .9 1 .4 1.5-.3 1.3-1 1.2-1.5 .6zM361.7 274.1l-1.5 .2-.8-.8 .4-2 1.6-2.5 4.8-4.4 2-.8 1.5 .1 .1 2.1-1.8 3-2.9 3-3.4 2.1zM342.7 293l-1.5-.1-1.3-.9-.1-1 .7-1 2.2-.4 1.5 .9 .1 1.5-1.6 1zM317.7 327.1l-3.5-.1-2.6-1.5-1.8-3-.1-3.5 1.5-3.5 2.5-2.7 3.5-1.7 3.5-.2 2.5 .9 1.7 1.7 1 2.5 0 3-.9 2.5-1.8 2.5-2.5 2-3 1.1zM317.7 348.7l-1.5 .3-1.5-.7-1.1-1.3-.6-2 0-2 .6-2 1.1-1.3 1.5-.7 1.5 .3 1 .8 1.3 2.9-.4 3.5-1.9 2.2zM294.2 345.6l-2-.2-1.5-1.4 0-2 1.5-1.4 2.2-.1 1.7 1.5 0 2-1.9 1.6zM221.7 415.2l-1 .1-.7-.8 .8-2.5 2.9-2.9 2-.2 .3 1.1-.8 2-1.7 2-1.8 1.2zM208.2 431.7l-2 .1-1.4-1.3-.1-1.5 1.1-1.5 1.9-.3 1.6 1.3 .1 2-1.2 1.2zM177.2 456.1l-1.3-.1 .3-2 4.5-6.2 7-6.2 3-1.7 1.4 .1 .1 1-.9 2-4.1 5.3-5.5 5.1-4.5 2.7zM494.2 453.6l-.6-.6 .6-.6 0 1.2zM297.2 462.5l-2.5-1-.9-2 .5-2.5 1-1 1.4-.5 2.5 .9 1 2.1-.5 2.5-1 1-1.5 .5zM460.2 476.5l-3.5-.3-2.9-1.7-.9-2.5 1.3-2.3 2.5-1.3 3-.4 2.6 .5 2.4 1.5 1 2-.5 2-2 1.7-3 .8zM495.7 476.5l-4.5 .2-3.5-.9-2.4-1.8-.4-1 .3-1.5 1-1.1 2-1 5-.7 7.5 .9 8.5 .3 2.7 1.1 1 1.5-.2 1-.9 1-2.4 1-8.7 .3-5 .7zM165.7 475.1l-2.5 0-1.6-1.6 .1-2.5 1.5-1.5 2.5 0 1.4 1.5 .1 2.4-1.5 1.7zM318.7 475.6l-2.5 .3-2.5-1.1-.9-2.3 .9-1.9 1.5-.9 2-.2 3 1.2 .7 1.3 0 1.5-.7 1.2-1.5 .9zM130.2 509.7l-2 .1-1.5-.8-.7-1.5 .7-1.5 2.5-.9 2.1 .9 .6 2-1.7 1.7zM108.7 529.6l-1-.6 .5-.6 .8 .6-.3 .6zM71.2 567l-1.5 .3-1-.7 .9-3.1 2.5-3.5 5.1-5.5 3.5-4.9 1.5-1.3 2-.8 2-.1 1.5 .7 .9 1.4 .3 2-.6 2-1.1 1.5-6 4.1-6.5 5.8-3.5 2.1zM458.7 565l-2-.4-1.1-1.6 .3-2 1.8-1.2 2 .4 1.1 1.8-.5 2-1.6 1zM416.2 566.6l-2.5 .1-1.8-1.2-.5-2 1.3-1.9 3-.6 2.3 1.5 .4 1-.2 1.5-2 1.6zM491.2 566.6l-2.5 .3-2.4-.9-1.1-1.5 .4-2 1.6-1.2 1.5-.4 2 .2 2 .9 .9 1 .1 1.5-.7 1-1.8 1.1zM508.2 566.5l-3 .3-2.5-.8-1.6-1.5 .2-1.5 1.4-1.2 2-.8 2 0 2 .5 1.3 1 .5 1.5-.7 1.5-1.6 1zM55.7 584.6l-2 .1-1-.7-.3-1 1-2.5 2.3-1.1 1.6 .6 .5 1.5-.6 1.9-1.5 1.2zM41.7 598l-1.5 .5-1.8-1-.4-2 1.2-1.5 2-.1 1.2 1.1 .2 1.5-.9 1.5zM19.2 620.1l-2-.7-.9-1.9 .8-2 1.6-.7 2 .6 .9 1.6-.5 2-1.9 1.1zM553.2 83.8l-.6-.3 .6-.7 .4 .7-.4 .3zM73.2 131.7l-1.2-.7-.5-2 .7-2 1-.4 1 .9 .3 1.5-.3 1.6-1 1.1zM416.2 131l-1-.7-.2-1.3 .3-1 .9-.5 1 1.5-.3 1.5-.7 .5zM493.7 146.6l-1.5-.2-.8-1.4 1.5-6.5-.8-6.5 .5-1.5 1.6-.4 6 .8 6-1.5 2 .5 .4 1.6-1.5 6 .8 6.5-.6 1.5-1.6 .4-6.5-.7-5.5 1.4zM165.2 151.7l-2-.4-1.8-1.8-1.4-3-.8-4 0-4 .8-3.5 1.3-2 1.9-.9 1.5 .5 1.6 1.9 1.2 3 .7 4 0 3.5-.5 3.3-1 2.2-1.5 1.2zM457.7 152.7l-2.5 0-2-1.5-1.5-2.7-.9-4 .1-4 1.2-4 1.9-2.5 2.2-1 2 .5 1.9 2 1.2 2.5 .7 3.5 0 3.5-.9 3.5-1.4 2.6-2 1.6zM73.2 148.2l-1-.4-.5-1.8 .5-1.5 1-.5 1.1 2-.3 1.5-.8 .7zM416.2 147.7l-.5-.2-.6-1.5 .4-1 .7-.3 .9 1.3-.9 1.7zM448.7 187.5l-1.1-.5 .2-2 3.9-5.7 6.1-5.3 2.9-1.4 1.5 .1 .3 1.3-.8 2-3.5 4.8-5.2 4.7-4.3 2zM164.7 180.1l-1.5 .1-1-.4-1.4-2.3 .4-2.7 2-1.6 1.5 0 1 .7 1.1 2.1-.3 2.5-1.8 1.6zM497.7 184l-5.5 .3-5.3-1.3-1.7-1-1.4-1.5-.3-2.5 2.4-2.5 4.4-1.5 5.4-.3 5.4 1.3 3.1 2.4 .4 1.1-.1 1.5-2.4 2.5-4.4 1.5zM75.2 181.2l-1.5 .2-1.4-.4-1.8-2 .2-2.8 2-1.8 2.6 .1 2 2-.1 2.7-2 2zM415.2 176.7l-.7-.2 .2-1.3 .6 .3-.1 1.2zM425.2 213l-1.5 .2-.7-.7 .7-2.6 3-3 2-.8 1 .3 .4 1.1-.9 2.1-2 2.2-2 1.2zM462.7 222.5l-3 .3-2.5-.8-1.3-1.5 .2-1.5 1.6-1.5 2-.7 2.5-.2 2.5 .8 1.2 1.1 .1 1.5-1.1 1.5-2.2 1zM73.2 222.1l-.6-.1-.6-1 .7-1.5 1 .3 .3 .7-.1 1-.7 .6zM489.7 221.6l-1-.1-.5-.5 .5-1.1 1.5 .3 .1 .8-.6 .6zM508.2 221.7l-1.5-.1 0-1.1 .5-.4 1.3 .4 .2 .5-.5 .7zM362.7 272.6l-1.5 .1-.3-.7 1.3-2.9 3.5-3.2 2.5-.6 .3 1.2-1.3 2.4-2 2.1-2.5 1.6zM342.2 291.7l-.6-.2 0-.5 1 0 .1 .5-.5 .2zM317.7 326l-3-.1-2.5-1.4-1.4-2.5 0-3 1.2-3 2.4-2.5 3.3-1.5 3 0 2 .9 1.4 1.6 .8 2-.1 2.5-.9 2.5-1.5 2-2.2 1.6-2.5 .9zM316.7 347.6l-1-.2-1-.8-.7-2.1 .4-2.5 1.8-1.6 1 .1 1 .8 .8 2.2-.4 2.5-.9 1.2-1 .4zM293.7 343.6l-.8-.1 0-1 1 0 .3 .5-.5 .6zM222.7 412.8l-.5-.3 .3-.5 1.2-.8-1 1.6zM207.7 430.1l-1.3-.1 .2-1 1.1 0 0 1.1zM179.7 453.6l-1.5 .2-.1-.8 3-4.5 5.1-4.8 2-1.3 1.5-.3-.2 1.9-2.6 3.5-3.7 3.7-3.5 2.4zM297.7 459.6l-1 .3-.5-.6 .1-.8 .9-.4 .5 .3 0 1.2zM461.2 475.1l-2.5 .3-2.6-.9-1.3-1.5 .3-2 1.1-1 2-.7 2 0 2.2 .7 1.4 1.5 0 1.5-1.1 1.4-1.5 .7zM494.7 475.5l-3 .1-2.8-.6-1.8-1.5-.1-1.5 2.2-1.7 4-.6 8 1.4 6.5-.1 1.5 .5 1 1-.5 1.1-2 .7-6.5 0-6.5 1.2zM164.7 473.2l-1-.2-.2-.5 .7-1.1 1.1 .6-.6 1.2zM317.2 473.5l-1.3-.5 .3-1 1-.1 .8 .6-.8 1zM129.2 508.1l-1-.6 .3-.5 1.2 .3-.5 .8zM72.2 565.2l-1 0-.5-.7 1-2.5 6.1-7 3.4-4.8 3-1.8 1.5-.1 1.4 .7 .6 1 .2 1.5-1.4 3-5.8 4-5.5 4.9-3 1.8zM458.2 563.1l-.7-.6 .7-.8 .7 .8-.7 .6zM490.2 564.7l-1 .3-1-.4-.3-1.1 .8-.6 1.3 .1 .7 1-.5 .7zM415.2 564.6l-1-.2 0-1 1.5 .1 .1 .5-.6 .6zM506.7 564.6l-1.7-.1-.2-1 .9-.4 1 .1 .6 .8-.6 .6zM55.7 582.6l-1 .4-.4-.5 .4-1 1.1 0-.1 1.1zM40.7 596.6l-.9-.1-.1-.5 .4-.5 .8 .5-.2 .6zM19.2 618.1l-.9-.6 .4-.7 .9 .2 .1 .5-.5 .6zM504.7 144.5l-9.5 .1-1.4-.6-.4-1.5 .1-9 .5-1.5 1.7-.6 9 0 1.5 .6 .4 1.5-.1 9.5-.5 1-1.3 .5zM457.2 151.1l-2-.2-1.5-1.2-1.4-2.7-.5-3 .1-3 .8-3 1.5-2.2 2-1 1.5 .3 1.5 1.4 1.3 2.5 .5 3-.1 3-.7 2.8-1.4 2.2-1.6 1.1zM164.7 149l-1.5-.3-1-1.1-1.6-4.6 .4-5 .9-1.5 1.3-.7 1 .3 1.2 1.4 1.4 4.5-.3 4.5-.8 1.8-1 .7zM451.7 185.1l-1.5 .3-.6-.9 .8-2 1.8-2.5 5-4.5 2-.9 1 .2-.1 1.7-1.9 3-3.4 3.5-3.1 2.1zM497.2 183.1l-4.5 .2-4.5-1-2.4-1.8-.5-1 .2-1.5 2.1-2 3.6-1.2 4.5-.1 4 1 2.5 1.8 .5 2-1.5 2-4 1.6zM164.2 177.5l-.8 0-.4-.5 .2-1 .5-.2 .9 .7-.4 1zM74.2 178.7l-1-.2-.2-.5 .7-1.1 1.1 .6-.6 1.2zM426.2 210.6l-.6-.1 0-.5 1.6-1.2 .1 .7-1.1 1.1zM461.2 220.5l-1-.1-.5-.9 1-.6 1.2 .1 .3 1-1 .5zM364.7 269.6l-.5 .3-.4-.4 1.4-1.4 .4 .4-.9 1.1zM318.7 324.5l-2.5 .4-2.4-.9-1.3-1.5-.6-2.5 .6-2.5 1.7-2.3 2.5-1.6 2.5-.5 1.7 .4 1.5 1 .9 1.5 .4 2-.4 2-1.1 2-1.6 1.5-1.9 1zM316.7 344.9l-.7-.4 .2-1.4 .5 0 .5 .9-.5 .9zM182.7 449.6l-.1-.6 .8-1 2-1.5-.7 1.5-2 1.6zM459.7 473.1l-1.1-.1-.5-1 1.1-.5 1 .3 .3 .7-.8 .6zM494.7 473.6l-3 .2-1-.4-.5-.9 1.5-.9 2-.1 1.9 1-.9 1.1zM75.7 561.1l-1 .4-.1-.5 3.8-4.5 3.4-5.5 2.4-1.4 1.8 .4 .6 2-1.1 2-5.8 3.5-4 3.6zM504.2 143.1l-5.5 .2-3-.8-.8-1.5-.3-2.5 0-3.5 .6-1.7 1-.6 2-.1 4.5 .3 1.6 .6 .9 2 .2 4.5-.2 2-1 1.1zM457.2 148.7l-1.5 .1-1.1-.8-.9-1.5-.6-2.5 .6-4.5 1-1.6 1.5-.8 1.4 .4 1 1 1.1 3.5-.5 4.3-1 1.7-1 .7zM495.7 182l-3 .1-2.6-.6-2.1-1.5-.2-1.5 1.3-1.5 3.1-1 3.8 0 2.9 1 1.3 1.5-.2 1.5-1.8 1.4-2.5 .6zM454.7 181l-1 .4-.1-.4 1.1-1.5 1.5-.9-.1 .9-1.4 1.5zM318.2 323.1l-2 .1-1.4-.7-1.1-1.5-.1-1.5 .6-2 1.3-1.5 1.7-1 2-.2 2.1 1.2 .7 2.5-1.3 2.9-2.5 1.7zM502.7 142.1l-3.5 .1-2.5-1.2-.7-1.5-.3-2.5 .2-1.5 .8-1.2 3.5-.5 2 .4 1.1 .8 .8 2 .2 2.5-.4 1.5-1.2 1.1zM456.7 144.5l-.6 0-.5-1 .1-1.5 .5-.6 .5 .1 .6 1-.6 2zM495.2 179.6l-2 .1-.9-.7 .9-.7 1.5 0 1 .7-.5 .6zM317.7 320.1l-.6-.1-.4-1 .5-.8 1-.3 .7 1.1-1.2 1.1zM501.7 140.5l-2 .2-1.9-1.2-.5-2.5 .9-1.5 2-.2 2 1.2 .5 2.5-1 1.5z"/><path class="cf" d="M305.2 162.5l-2 .4-.5-.4-.5-2.5 1.7-8.5 .3-9-.3-6.5-1.3-5.5 3.7-7.5 3.9-4.6 .4 .1-2.4 10-1.2 10-.1 10.5 .6 11-.4 1.5-1.9 1zM322.7 199.6l-4.5 .4-5.5-.2-4-.8-3.5-1.4-3-1.9-2.5-2.4-1.9-2.8-2.2-4.5 2.1-1.2 1.5 0 3 5 2.5 2.4 4 1.8 5 .8 7.5-.1 5-1 4-2.2 2.6-3.5 1.2-4.5 0-7-.7-3.5-2-4.5 .6-3.5-2-2-.6-1.5 .5-13-.2-12-1-9-2.2-9 .3-.2 2.5 2.6 2.6 4.1 1.9 4.8 1.4 5.7 .8 6.5 0 7.5-.6 6-1.7 8.5 .4 1.5 2.5 4.5 1.3 3.5 .6 4 .1 4.5-1.3 6.3-3 5.2-5 3.9-6.5 2.2zM303.2 168.1l-1.5 0-2-2.1 3-2.7 1.9 2.7-.2 1-1.2 1.1zM3.7 210.3l0-.4 0 .4zM469.7 291.4l0-11.3 0 11.3zM464.2 290.4l0-9.3 0 9.3zM445.2 338.8l-2-2.4-1.9-3.4-2-7.5-.3-11.5 .6-4.5 1.1-4 3-5.5 4.7-4 5.8-2 7.5-.5-.2 1-.8 .7-7 .4-4.1 1.4-2.9 2.4-2 3.6-1.3 7-.1 14.5 .4 5.5 1.5 6.5 0 2.3zM471.2 295.5l0-.6 0 .6zM510.7 310.1l-30-.6-1.3-1.5-.2-3.7-2.7-1.3-2.3-3.5-2.4-2.5-.6-1.5 .5-.1 3.5 2.6 5.1 5.5 14.4 .1 7.5 .8 5.5 1.7 6.5 3.4-3.5 .6zM159.2 338.6l-3-1.4-2.5-2-2-2.8-1.5-3.4-.8-4-.4-5 .2-6.5 .8-4.5 1.2-3.5 1.5-2.5 4-3.4 5.5-1.5 7.5 .4 3 1.3 2.7 2.2 2.1 3 1.4 3.5 .8 4 .3 5.5-1 12.5-.3 .6-3.5-.7-.7-.4-.5-1-.1-18-.5-3.5-1.2-2.8-1.6-1.7-2.4-1-5.5-.2-3 .6-2 1.2-1.6 2.4-.8 3-.3 4.5 0 12 .9 5 2.3 3.4 4.8 2.1 .1 .5-3.9 2.1zM503.2 335.7l-6.5-1.6-4.5-.5-4.5 .3-7.5 1.3-1.4-.7-.4-2 .8-1.6 2-.6 27-.6 6 .8-11 5.2zM180.7 334.7l0-.5 0 .5zM181.2 335.7l0-.8 0 .8zM181.7 336.8l-.4-.8 .4-.3 0 1.1zM182.2 337.9l-.4-.9 .4-.4 .3 .9-.3 .4zM182.7 338.9l-.4-.9 .4-.4 0 1.3zM183.7 341.2l-.9-2.2 .4-.3 .5 2.5zM184.2 342.3l0-.7 0 .7zM158.7 363.8l-.7-7.8 .7-7.8 .3 7.8-.3 7.8zM169.2 364.3l-.2-9.8 .7-2.7 .3 6.2-.8 6.3zM339.7 460.6l0-.4 0 .4zM96.7 590.3l0-.4 0 .4z"/><path class="ct" d="M296.7 188.3l-1.5-2.9-1.5-1.1-13.5-2.5-7.3-2.8-2.2-1.5-1.7-2-.8-2 0-2 .5-2.5 1.3-2 2.1-1.5 2.6-.9 4-.4 4.5 .1 14 2.4 2-.6 2.6-2.1 .7-1.5 0-1.5-.8-1.9-1-1.2-1.5-.5-6 .1-3.3-.5-2.7-1-2.5-2-1.4-2-.9-2.5-.4-6 1.2-5.3 3-3.5 2.1-1.2 2.9-.8 9.5-.3 1.5-1.3 1.4-2.6M306.3 123l2.6-3.5 3-2.5 3.3-1.6 3.5-.4 3.5 .6 3 1.4 3 2.7 2.5 3.3M333.7 163.5l.3 2 1.1 2M382.2 128.1l-2 .3-2-1.4-.3-2 1.3-2 2.5-.4 1.7 1.4 .2 2.5-1.4 1.6zM171.2 227.1l-2.5-.1-3-1.5-2.7-2.5-2.3-3.3-1.6-3.7-.5-3.5 .6-3 1.5-1.6 2.5-.3 3.3 1.4 3.2 2.9 2.4 3.6 1.6 4 .3 3.5-.8 2.7-2 1.4zM3.2 211.1l-1.1-.6 .6-1.1 1 .6-.5 1.1zM320.2 230.1l-2.5 .1-2-.9-1.8-1.8-1.2-2.5-.4-3 .6-3 1.3-2.4 2-1.6 2-.7 2 .1 6.5 3.3 6.7-2.2 4.3-.7 4.5 .4 1.7 .8 .8 1 .2 1-.8 1.5-4 2.5-4.4 1.1-7-.1-1.5 .5-4.2 5-2.8 1.6zM553.7 221.6l-2.5-.4-1.7-2.2 .3-2.5 .9-1 1.5-.7 2.5 .4 1.6 2.3-.4 2.5-2.2 1.6zM203.7 238.2l-1.2-.2 .2-1.2 1.2 .2-.2 1.2zM317.7 247.6l-2-.2-1.7-1.9 .2-2.1 2-1.6 2 .2 1.6 2-.2 2-1.9 1.6zM408.2 303.6l-2 .2-2.5-.8-2-1.6-4-4.7-5.5-2-2-2.2-1.5-5-.1-6.5 1.1-4.5 1-1.7 1.5-1.4 2.5-.4 2 .9 4 5.7 5 3.5 3 4 2.1 5.4 .7 5-.9 4-.9 1.2-1.5 .9zM463.7 378.7l-4 .2-3-.9-2.5-2-2.5-3.9-1.7-4.6-1.3-6-1.1-18.5-1-2-4.6-6.5-2.1-5.5M439.9 308l2.8-6.6 2.4-2.9 2.5-2 5.1-2.2 9-.9 1.7-.9 .6-2 .6-12 .8-3 1.3-1.5 1.3 .5 1 2 1 7.5M470 289l0 3.5 .8 2 4.9 4 3.8 4.5 1.7 .7M510.7 307.6l5.5 3.1 3 2.5 2.1 3.3 .7 3.5-.7 3.5-2.1 3.3-3 2.5-5.5 3.1M504.2 335.3l-2 1.1-.4 1.1 3.9 10 .7 4-.2 3.6-1 2.8-1.5 1.9-2.5 1.6-3 .9-2 0-2.5-.8-4.5-3.5-2.9-4-2.7-5.5-1.4-4.1-1.4-6.9-1.1-.6-1 0-2 1.4-1.6 2.2-.9 2.5-.5 15.5-2 10.1-1.5 3.7-2 3.2-2 1.9-2.5 1.3M556.2 300.6l-2 .4-1.5-.5-1.5-1.4-.9-2.1-.2-2 .6-2.2 1.3-1.8 1.7-.9 2 .1 1.5 .8 1.7 3 .2 2-.5 2-.9 1.5-1.5 1.1zM165.7 370.6l-2 .4-2-.9-1.5-1.9-1.2-3.2-.9-6 .2-8 1-5 2.4-5.5-.9-1-4-2M179 329.5l.4 2.5 3 5 1.8 4.5 .5 4-.5 3-2 2.7-3.5 1.3-3-.7-4.5-3.3-1 0-.2 6.5M170 358l-1.3 8.1-1.4 2.9-1.6 1.6M379.7 398.5l-3.5 .4-2.5-1.9-1.6-3.5-1.2-6-.4-7.5 .3-10 .8-6 2-9-2.4-10-.9-6.5-.3-11 .6-8.5 1.9-7.5 1.2-2.1 2-1.8 5.5-2 10.5 0 3.2 .9 2.5 2 1.1 3-.2 4-1.1 2.2-2 1.6-2.5 .9-5 .7-2 1.4-.7 2.7 .1 10.5 .6 2 1 1 6.5 1.7 2.7 1.8 1.1 2.5 .3 4.5-.8 2.5-1.3 1.9-6-.6-3 .2-2.8 1-1.4 1.5-.1 2 1.8 7.4 .7 5.1 .1 13-.6 6-1 4.5-1.2 3-2 2zM75.2 330l-3 .2-2.8-1.7-2.2-3.5-.9-4 .1-4.5 1.3-4.1 2.1-2.9 2.9-1.4 2.5 .3 2.5 1.8 1.9 3.3 .9 4-.1 4-1.1 4-1.6 2.7-2.5 1.8zM417.7 324.6l-3 0-2.3-1.1-1.9-2-1.1-3 0-3.5 1-3 1.8-2.1 2.5-1.1 2.5 0 2.7 1.2 1.9 2 1.2 3 .1 3-.9 3-2 2.4-2.5 1.2zM400.7 389.2l-4 .1-2-.9-1.5-1.3-2.5-4.2-1.5-5.9-.2-7.5 1.1-6.5 2.1-4.9 3.5-4.5 5 1.1 3 2.1 2.5 4.1 1.5 5.6 .2 8-1.1 7-2.6 5.1-1.5 1.5-2 1.1zM256.7 380.6l-1.8-.1-1.2-.9-.3-1.1 .8-1.2 2-.6 2 1 .2 1.8-1.7 1.1zM319.7 404.6l-2-.1-1.3-2 .3-2.3 1.5-1.3 2 .4 1 1.7-.1 2-1.4 1.6zM373.7 429l-1.5 0-1-.6-1.2-2.4 .7-2.6 2-1.3 2 .6 1.2 2.3-.4 2.5-1.8 1.5zM382.2 435.7l-1.5 .2-1.2-.9-.3-1.5 1-1.3 1.5-.1 1.2 .9 .2 1.5-.9 1.2zM373.2 458.6l-2-.3-1.1-1.3 .2-2 1.4-1.2 2 .2 1.2 1.5-.3 2-1.4 1.1zM414.7 479.6l-3 .2-2.5-.5-2.5-1.1-2.1-1.7-3.2-5-4.2-4-2.4-3.5-.9-4.5 .3-1.5 1-1.4 2-.7 3 .7 3 2.4 3.2 5 1.3 1.2 8 1.1 2.5 1.1 1.9 1.6 1.3 3-.6 3.5-2.3 2.5-3.8 1.6zM340.7 461.1l-1-.6 .5-1.1 1.1 .6-.6 1.1zM74.7 480l-2.5-.1-2.5-1.1-2-2.3-.8-2.5 .2-2.5 1.2-2.5 1.9-1.7 2.5-.9 2.5 .1 2.5 1.2 1.6 1.8 .9 2.5 0 2.5-1 2.5-2 2-2.5 1zM392.7 534.1l-1.5-.1-1.1-2 .3-2.5 1.3-1.2 1.5 .6 .7 1.6-.2 2.4-1 1.2zM370.7 551l-2.3-.5-1.3-2.5 .6-2.5 2-1.4 2 .5 1.3 2.4-.4 2.5-1.9 1.5zM320.7 571.1l-3 .1-3-.8-2.5-1.9-1.5-2.5-.3-3 .8-2.5 2-2.3 2.5-1.4 3.5-.5 3.2 .7 2.8 1.9 1.7 2.6 .4 3-1.1 3-2.5 2.4-3 1.2zM167.7 569l-2.5 .5-2.5-.3-2.5-1.2-1.5-1.5-.9-2 0-2 .9-2.3 1.6-1.7 2.9-1.2 3-.1 2.5 .8 2.3 2 1 2.5-.2 2.5-1.6 2.5-2.5 1.5zM97.7 591.1l-1.1-.6 .6-1 1.1 .5-.6 1.1zM295.2 612.6l-2 .2-2-.4-2-1.3-1-1.5-.4-1.6 .4-2 1-1.5 1.5-1.1 2-.5 2.5 .1 2 1 1.5 1.8 .5 2.2-.6 2-1.4 1.6-2 1zM297.4 189l-1.7-3.7-1.5-1.4-14-2.7-6.8-2.7-3.3-3-.9-3.5 .5-2.5 1.2-2 1.8-1.4 2.5-.9 3.5-.4 4.5 .1 14 2.3 2.5-.8 2.7-2.4 .6-1.5-.1-1.5-.9-2.5-1.3-1.6-1.5-.4-8.5-.2-3-1.1-2.2-1.7-2.1-4-.5-6 1-4.5 1.2-2 1.6-1.5 2.5-1.4 2.5-.5 9-.2 1.5-1.3 1.5-3M306.2 124l2.5-3.6 3-2.7 3-1.6 3.5-.6 3.5 .4 3.3 1.6 2.9 2.5 2.6 3.5M330.5 123.5l.6 1M333.3 163l.2 2.5 1.5 2.5M381.2 127.6l-1.5-.3-1-1.3 .2-1.5 1.3-1.1 1.5 .1 1.2 1.5-.2 1.5-1.5 1.1zM170.7 226.1l-2.5-.1-2.5-1.4-2.5-2.3-2-3-1.4-3.3-.4-3 .4-2.5 1.4-1.5 2.5-.3 2.5 1 2.7 2.3 2.3 3.1 1.5 3.4 .5 3.5-.5 2.5-2 1.6zM320.7 229.1l-2.5 .3-2-.7-1.8-1.7-1.2-2.5-.2-3 .6-2.5 1.3-2 1.8-1.4 2-.5 2 .3 5 3.3 1.5 .5 5.5-2.7 4-.9 4.5 .3 2 1.5 0 1.1-1.1 1.5-4.4 2-4 .5-5.5-.9-1 .2-4 5.4-2.5 1.9zM553.7 220.6l-2-.2-1.2-1.4 .2-2 1.5-1.2 2 .2 1.1 1.5-.3 2-1.3 1.1zM317.7 246.7l-1.5 0-1.3-1.2 0-1.5 1.3-1.3 1.5 0 1.2 1.3 0 1.5-1.2 1.2zM407.2 302.6l-2 0-2-1-5.5-6.1-5-1.6-2.2-2.4-1.3-4.3-.1-5.7 1.1-4.5 2-2.5 2.5-.5 1.9 1 4.1 5.9 4.9 3.1 2.6 3.5 2 5.1 .5 4.9-1 3.4-2.5 1.7zM462.7 377.5l-3.5 0-2.6-1-2.4-2.1-2.3-3.9-1.7-4.8-1-5.2-1-17.5-.9-2-5.1-7-2.3-7M439.9 310l1-4 1.6-3.5 2.2-3 2.5-2.2 5.5-2.6 9.5-.9 1.5-.8 .7-2 .4-11 .9-3.3 1-1.1 1 .2 .5 .7 1 3.4 .3 12.1 .4 2 1.2 1.5 4.5 3.5 3.6 4.3 2 .8M510.2 307.7l5.6 3.3 3 2.5 2 3 .7 3.5-.7 3.5-2 3-3 2.5-5.6 3.3M503.7 335.1l-1.9 .9-.7 1.5 4.1 10.1 .6 3.9-.3 3.5-1 2.5-1.8 2-2.5 1.4-2.5 .6-2.5-.3-2.7-1.2-2.5-2-2.4-3-4.2-8.5-.9-3.5-.6-5-.5-1-2.2-.8-2.5 1.4-2.2 2.9-.9 2.5-.6 15.5-.8 5.5-1.3 4.5-1.7 3.9-2 2.6-2 1.6-2.5 .9M554.7 300l-2.5-1.1-.9-1.4-.4-2 .4-2 .9-1.4 2.5-1.1 1.5 .4 1 .9 1.1 3.2-1.1 3.2-1 .9-1.5 .4zM164.2 370l-2.5-.9-2-3.4-1-4.7-.3-6.5 .6-5.5 1.2-4 2-2.8 2.7-1.7-8.7-3.8M157.7 299.5l1-.4M158.7 299.1l1.5-.4M162.2 298.4l4.5 0M168.7 298.7l1.5 .4M170.2 299.1l1 .3M178.7 329.5l.2 2.5 3 5 1.8 4.5 .5 3.5-.4 3-2.1 2.7-2 1-2 .1-3-1.2-4.5-4-.7-.1 .1 11-.7 6-1.7 4.5-1.5 1.6-1.5 .4M378.7 397.1l-3-.2-2-1.9-1.5-4-.8-5-.3-10.5 .6-8.2 1.5-6.1 2.7-6.2-3.2-7.7-1.5-6.6-.6-10.7 .6-10.5 2-7.1 1.5-2.2 2-1.6 3-1.6 2.5-.6 9.5-.1 3 .9 2 1.8 .9 2.5 0 3.5-.9 2-2 1.8-2 .7-5.5 .8-2.2 1.7-.6 3 0 10.5 .5 2 1.3 1.6 6.5 1.7 2 1.3 1.3 2.4 .3 3.5-.7 2-1.6 1.5-9.8 1.2-2.9 1.3-1.4 1.5 0 1 2.3 5.8 1.1 4.7 .6 6 .1 8-.5 6.5-1.1 5-1.7 3.3-2 1.3zM74.7 329l-2.5 .1-2.5-1.7-1.8-2.9-.9-4 .2-4.1 1.4-3.9 2.1-2.4 2.5-.9 2.5 .6 2 1.9 1.4 2.8 .7 3.5-.1 3.5-1 3.5-1.7 2.5-2.3 1.5zM417.7 323.1l-2.5 .2-2-.9-1.7-1.9-1-2.5 0-2.5 .9-2.5 1.8-2 2-.8 2.5 .2 1.9 1.1 1.6 2 .6 2 .1 2.5-.7 2-1.5 2-2 1.1zM400.2 388.1l-4-.2-3-2.2-2.4-4.7-1.1-6 .2-7.5 1.5-6 2.8-4.4 1.5-1.1 2-.5 3.5 .7 3 2.6 2 4.2 1.1 6-.1 7-1.4 6-2.3 4-3.3 2.1zM256.7 380l-1.5 0-.7-.5-.1-1.5 1.3-.7 1.5 .3 .6 1.4-1.1 1zM319.7 403.7l-1.5 .1-1-1-.1-1.8 1.1-1.2 1.5 .1 .8 1.1 0 1.5-.8 1.2zM373.2 428.1l-1.5-.5-.8-1.6 .3-1.8 1.5-1.1 1.5 .4 1 2-.5 1.6-1.5 1zM381.2 434.5l-.5-.5 .5-.5 .5 .5-.5 .5zM373.7 457.5l-1.5 .5-1-.6-.5-1.4 .5-1 1.5-.6 1.1 .6 .5 1.5-.6 1zM414.2 479.1l-2.5 .1-2.5-.5-2.4-1.2-1.7-1.5-2.9-5-4.5-3.9-2-2.8-1-3.8 .2-1.5 .9-1.5 2.4-.7 3 1.3 2 1.9 2.9 5 1.1 1 8 .8 2 .7 2 1.6 1.5 2.9-.5 3-2.1 2.5-3.9 1.6zM75.2 479.2l-2.5 .1-2.2-.8-1.8-1.7-1-2.3 0-2.5 .8-2 1.7-1.9 2-.9 2.5-.1 2 .8 1.7 1.6 1 2 .1 2.5-.8 2.5-1.5 1.6-2 1.1zM392.2 532l-.7-.5 .2-.8 .5-.1 0 1.4zM370.7 550l-2-.5-.7-1.5 .2-1.6 1.5-1.3 1.5 .3 1 1.6-.3 2-1.2 1zM319.2 570.5l-3-.4-2.5-1.3-1.9-2.3-.6-2.3 .4-2.7 1.4-2 2.2-1.6 3-.8 3 .3 2.5 1.3 2 2.3 .7 2.5-.4 2.5-1.8 2.5-2.5 1.5-2.5 .5zM166.2 568.6l-2.5 0-2-.7-1.8-1.4-.9-1.5-.3-2 .5-1.9 1.3-1.6 1.7-1.1 2.5-.5 2.5 .4 2.1 1.2 1.5 2 .3 2.5-.8 2-1.6 1.6-2.5 1zM295.2 611.6l-3 .1-2.6-1.7-.7-1.5 0-1.5 1.8-2.5 2-.7 2 0 1.6 .7 1.4 1.5 .5 1.5-.4 2-1.1 1.3-1.5 .8zM300.2 192.8l-1.3-1.8M298.9 191l-2.7-5.8-1.5-1.8-12.9-2.4-6-2-4.1-3-1.1-2-.1-2 .5-2.5 1-1.5 1.7-1.3 2.5-.9 7.5-.3 13.5 2.4 2.5-1 3-2.6 .7-1.3-.1-2-2.1-4.7-1.5-.8-8-.1-4-1.4-2-2-1.1-2-.7-6 .9-4.5 1.3-2 1.6-1.5 4.5-1.5 8.5-.1 1.5-1.3 1.8-3.6M305.8 125.5l2.9-4.5 3-2.8 3.5-1.7 3.5-.4 3.5 .5 3.5 1.9 3 3 2.5 4M333 163l.1 2.5 3.4 6.5M336.5 172l.5 1.5M337.2 174.2l.3 1.3M337.5 184l-.3 1.8M337 186.5l-.5 1.5M336.5 188l-2.3 4.3M334 192.5l-1.3 1.5M380.7 126.1l-.5-.6 .5-.6 .6 .6-.6 .6zM169.7 225.1l-2-.4-2.2-1.2-2-2-1.8-2.8-1.1-2.7-.3-2.5 .4-2.1 1.3-1.4 2.2-.2 2.5 1.2 2.5 2.4 1.7 2.6 1.1 3 .3 3-.8 2-1.8 1.1zM319.2 228.5l-2-.3-1.7-1.2-1.3-2-.5-2.5 .4-2.5 1-2 1.6-1.4 2-.6 2 .4 1.9 1.1 1.9 2 .7 1.5-.7 2.5-1.8 3-1.5 1.3-2 .7zM334.7 221.5l-3.5-.7-.7-.8 .3-1 2.1-1.5 3.3-.9 3 .1 1.8 .8 .2 1-1.2 1.5-2.3 1-3 .5zM553.2 218.8l-.9-.3 .4-.9 .8 .4-.3 .8zM317.2 245.2l-.7-.2 .2-.8 .7 .3-.2 .7zM407.2 301.2l-1.5 .2-2-.6-2-1.7-3.5-4.5-5-1.7-2.1-1.9-1.3-4-.1-5.2 1-4 2-2.3 2-.3 1.5 .7 4 5.9 5 3.1 2.5 3.1 1.7 4.5 .5 4-.7 3-2 1.7zM462.7 376.1l-3.5 0-2.5-1-2.5-2.4-2-3.5-1.5-4.5-.9-5.2-.9-16.5-.9-2-3.8-4.6-2-3.3-1.5-4.1-.8-4M439.9 312l.8-4 1.5-4 2-3.2 2.8-2.8 2.7-1.7 3-1.1 10-1 1.8-1.2 .4-1.5 .3-10.5 .5-2.1 1-1.4 1 .3 1 2.7 .4 4.5-.2 7 .4 2 1.1 1.5 5.1 4 3.3 4 2.4 1M509.2 307.6l6.4 3.9 2.6 2.2 1.9 2.8 .8 3.5-.8 3.5-1.9 2.8-2.6 2.2-6.4 3.9M502.7 335.1l-1.8 .9-.5 1.5 4 9.5 .7 3.5-.2 3.5-.8 2.5-1.4 1.8-2.5 1.6-2.5 .7-2.5-.2-2.5-1.1-2.5-2.1-2.5-3.1-4-8.6-1-7.5-.5-1.2-1.2-.8-1.8-.3-1.5 .4-1.1 .9-2.8 3.5-.8 2.5-.6 15-1.9 9.5-1.6 3.5-1.7 2.4-2 1.7-2.5 1M555.2 298.7l-2-.4-1.2-2.3 .5-2.5 1.7-1.2 2 .6 1 2.1-.5 2.5-1.5 1.2zM179.2 351l-3-.3-2.7-1.7-3-3.5-2.8-5-1-.9-6.5-1.5-4-1.8M156.2 300.7l3.5-1.5 4-.4 5 .3 3.8 1.4M178.3 329.5l.1 2.5 3.9 7 1.4 5.5-.3 2.5-.7 1.7-1.5 1.5-2 .8M380.2 352.5l-2.5-.7-2.5-2.3-1.6-3-1.3-4.5-.8-6-.1-8.5 .4-6 .9-4.8 1-2.6 1.5-2.2 5.1-3.9 5.4-1.1 7 .4 2 .9 1.5 1.8 .6 2.5-.4 3-.8 1.5-1.9 1.4-7 1.3-1.5 .7-1 1.1-.6 3 0 11 .6 2.5 1.5 1.8 6.1 1.7 2.3 1.5 .8 2 .1 3-.8 1.6-2 1.2-12 1.7zM74.7 327.7l-2.5 0-2-1.3-1.5-2.4-.8-3.5 .1-3.5 1.2-3.5 1.6-2 2.4-1 2 .4 1.8 1.6 1.3 2.5 .6 3 0 3-.8 3-1.4 2.2-2 1.5zM416.7 321.5l-1.5-.1-1.5-.8-1-1.3-.6-1.8 .1-2 .6-1.5 1.4-1.4 1.5-.5 1.5 .1 1.5 .8 1.6 3-.1 2-.6 1.5-1.4 1.4-1.5 .6zM164.2 369l-2-.6-2-2.9-1-4-.4-5.5 .4-5.5 1-4 2-3 2-.7 2.2 .7 1.6 2.5 .9 4.5 .3 5.5-.4 5.5-1 4-1.6 2.6-2 .9zM399.2 387l-3.5-.6-2.5-2.4-2-4.5-.9-6 .4-6.5 1.5-5.3 2.5-3.4 1.5-1 2-.4 3.5 1 2.5 2.7 1.7 4.4 .7 5.5-.3 6.5-1.4 5-2.4 3.5-3.3 1.5zM378.7 395.1l-3-.3-1.9-2.3-1.4-4.5-.6-6 .1-9 .8-6.6 2-5.2 1-1 1.5-.6 2 .5 2 2.8 1.4 4.6 .6 6 0 9-.8 6.5-1.7 4.5-2 1.6zM256.2 379l-.5 0-.1-.5 .8 0-.2 .5zM319.2 402.1l-.8-.1 .3-.7 .5 .2 0 .6zM373.2 426.2l-.6-.2 .1-1 .8 .5-.3 .7zM372.7 456.6l-.6-.1 .1-.6 .7 .1-.2 .6zM413.2 478.5l-3.5-.4-3-1.6-1.6-2-2.1-4.5-5.3-4.1-1.5-2.4-.6-2 .2-2 .9-1.2 2.5-.3 2.5 1.5 1.6 2 2.1 4.5 .8 .9 8.5 .4 2.5 1.1 1.5 1.3 1.2 2.8-.7 2.7-2.5 2.3-3.5 1zM74.2 478.5l-2-.1-2-1.1-1.3-1.8-.5-2 .3-2 1-1.9 1.5-1.2 2-.6 2 .3 1.6 .9 1.3 1.5 .7 2-.1 2-1 2-1.5 1.4-2 .6zM370.2 548.2l-.6-.7 .6-.6 .5 .6-.5 .7zM320.2 569.5l-2.5 .1-2-.6-2-1.5-1.2-2-.3-2 .5-2 1.5-1.9 2-1.2 2.5-.4 2.9 .5 2.2 1.5 1.3 2 .3 2.5-.7 2-2 2-2.5 1zM166.2 567.6l-3.5-.3-1.5-.9-1-1.4-.4-1.5 .2-1.5 .9-1.5 1.4-1 1.9-.6 2 .1 2 .9 1.4 1.6 .4 1.5-.4 2-1.4 1.7-2 .9zM294.7 610.6l-2.5-.1-1.8-1.5-.1-2 1.4-1.7 2.9-.3 1.9 1.5 .4 1-.3 1.5-1.9 1.6zM305.2 196.4l-1-.6M304.2 195.8l-2.5-2-2-2.3-3.5-7.3-1-1.2-2-.9-10.6-1.6-5.4-1.7-4.1-2.8-.9-1.5-.3-2 .4-2.5 .9-1.5 3.5-1.9 7-.4 13.5 2.4 2.5-1.1 3.4-3 .7-1.5-.1-2-1.1-3.5-1.4-2.4-1.5-.8-7.5 .1-3.7-1.4-1.6-1.5-1.2-2-.6-5.5 .8-4 2.3-2.8 2-1.1 2.5-.5 8 0 1.5-1.4 2.2-4.7M305.2 127.5l.5-1M305.9 126l2.8-4.3 3-2.9 3.5-1.7 3.5-.5 3.5 .6 3.5 1.9 3 3.1 2.3 3.8M332.7 162.5l0 3 3 5.5 1.2 3.5 .5 4-.1 4.5-.8 4-1.6 3.5-2.3 3-2.9 2.4M329.5 196l-.8 .5M169.7 223.5l-1.5 .1-2-.8-3.4-3.8-1.4-4.5 .3-2 1-1.1 1.5-.3 2 .8 3.5 3.7 1.1 2.4 .4 2.5-.4 2-1.1 1zM320.2 227.2l-2 .2-1.5-.7-1.2-1.2-.8-2 0-2 .6-2 1.2-1.5 1.7-.8 1.5 0 1.9 .8 1.4 1.5 .7 1.5 0 1.5-.8 2-1.2 1.7-1.5 1zM336.2 219.6l-1.5-.1-.1-.5 1.1-.6 1.5 .1 .2 .5-1.2 .6zM406.7 299.7l-1.5 .2-1.5-.5-1.6-1.4-3.9-5-5-1.5-1.5-1.4-1.2-3.1-.1-4.5 .8-3.7 1.5-1.9 1.5-.4 1.5 .5 1.5 1.6 3 5 4 1.9 2.5 2.6 1.7 3.9 .6 3.5-.8 3-1.5 1.2zM462.7 374.6l-3.5 0-3-1.5-2.5-3-1.8-4.1-1.7-8.5-.6-14.5-.9-2-5.6-7-1.4-3.1-1.1-3.9-.6-10.5 1-8 1.2-3.5 1.6-3 2.1-2.5 2.6-2 4.7-2 9.5-.8 2.4-1.2 .6-2-.1-8.5 1.1-3.1 1 .4 .6 2.2 .2 4.5-.4 5 .4 2 1.7 1.9 4.7 3.6 3.8 4.5 2 .8M508.2 307.5l6.5 4 3 2.5 2 3 .6 3-.6 3-2 3-3 2.5-6.5 4M502.7 334.7l-2.5 1.1-.7 1.2 4.3 10 .6 3.5-.2 3.1-.9 2.4-1.2 1.5-2.4 1.5-2.5 .7-2.5-.4-2.5-1.3-2.5-2.3-1.9-2.7-3.6-8-.5-3-.2-4.5-.5-1-1.8-1-2-.3-1.5 .3-1.3 1-2.9 3.5-1.1 2.5-.7 15.5-2 9-3 5.2-2 1.6-2 .8M554.7 296.3l-.8-.8 .8-.8 .6 .8-.6 .8zM179.7 350.1l-3 .1-3-1.8-2.4-2.9-2.9-5.5-1-1-7.7-1.5-4.5-2.4M155.2 301.9l4.5-2.3 5.5-.5 5 .8 4 2.4M178 329l0 3.5 3.7 6.2 1.4 5.3-.8 4-2.6 2.1M384.2 350.6l-3.5 .2-2-.7-2.5-2.4-2-3.4-1.1-3.8-.7-5.5-.1-8 .5-5.5 1.9-6 5.7-6 4.3-1.6 6.5 0 2 .6 1.7 1.5 .7 2-.2 3-.9 1.5-1.3 1-7 1.3-2.7 1.7-.8 3 0 12.5 .6 2.5 1.4 1.9 2.5 1.3 3.7 .8 1.6 1 .8 1.5 .1 2-.5 1.5-1.4 1-7.3 1.1zM74.7 326.1l-2 .2-1.5-.8-1.5-2-.8-3 0-3 .8-2.6 1.5-2 2-.9 1.5 .3 1.5 1.2 1.1 2 .6 2.5 0 2.5-.6 2.5-1.1 1.9-1.5 1.2zM416.2 318.1l-1.1-1.1 .2-1 .9-.5 .9 .5 .2 1-1.1 1.1zM165.2 367.6l-2 .2-2-1.8-1.3-3.5-.6-4.5 .1-5.5 .9-4.5 1.6-3 2.3-1 1.5 .5 1.6 2 .9 3 .5 4.5-.1 5-.6 4-1.3 3.2-1.5 1.4zM399.7 385.5l-3.5-.4-2.4-2.1-1.9-4-.7-5 .1-6 1.4-5.1 2.5-3.4 3-1.1 3 .7 2.4 2.4 1.6 4 .6 4.5-.1 5.7-1.1 4.8-2.2 3.5-2.7 1.5zM378.7 392.5l-2.5 0-1.5-1.4-1.3-3.6-.7-5.1 0-8.8 .7-5.6 1.7-4 2.1-1.2 2 .5 1.5 2 1 3.2 .6 5.5 0 8-.6 5.3-1.3 3.7-1.7 1.5zM402.7 467.1l-2.5-.5-2.3-2.1-1.1-3 .9-1.9 2-.1 2.5 2.1 1.3 3.4-.1 1.5-.7 .6zM414.2 477.6l-3.9-.1-3.1-1.7-1.8-3.3-.1-2 .4-1.1 2.5-1.1 4-.5 3 .5 2.1 1.2 1.4 2 0 2.5-1.5 2.2-3 1.4zM74.2 477.6l-2-.2-1.4-.9-1.1-1.5-.4-1.5 .9-3 1.5-1.3 1.5-.4 1.5 .1 1.5 .8 1.1 1.3 .5 1.5-.6 3.1-1.4 1.4-1.6 .6zM319.7 568.5l-2 0-2-.8-1.4-1.2-.8-1.5-.1-2 .6-1.5 1.5-1.5 1.7-.8 2-.2 2 .5 2 1.5 .8 1.5 .2 2-.9 2-1.6 1.4-2 .6zM166.7 566.1l-2.5 .3-2.4-1.4-.6-2 1.1-2 2.9-.9 1.5 .4 1.2 1 .6 2.5-1.8 2.1zM293.7 608.6l-1.1-.6 .6-.9 1.1 .4-.6 1.1zM308.2 197.3l-.9-.3M307.2 197l-1.5-.7M305.7 196.3l-3-2.1-2.5-2.7-3.8-8-1.2-1.5-1.5-.7-9.7-1.3-5.2-1.5-4-2.5-1-1.5-.3-1.5 .9-3.5 1.3-1.3 2-.8 6.5-.3 13 2.3 2.5-1.3 3.9-3.6 .7-1.5-.2-2-1.4-4.5-1.5-2.9-1.5-.7-7 .1-3-1-1.5-1.2-1.1-1.8-.5-5 1-4 2.6-2.3 3-.8 6.5 .3 1.5-.4 1.5-2.2 2.5-6.1M305.4 128l2.5-4.5 3.1-3.5 3.2-2 4-.9 3.5 .5 3.7 1.9 3.3 3.4 2.4 4.1M332.4 162l-.2 3.5 3.1 5.5 1.3 4 .4 4-.2 4.5-.9 4-1.7 3.5-2.6 3-3.4 2.3M328.2 196.3l-1 .5M326.7 197l-1 .4M169.2 221.5l-1 .4-1.5-.3-2.7-2.6-1.2-3.5 .1-1.5 .8-.9 1-.2 1.5 .5 2.5 2.6 1.1 3 0 1.5-.6 1zM319.2 226l-1.5-.2-1-.8-1-2.5 1-3 2-1 2.5 .9 1.1 2.1-.8 3-2.3 1.5zM405.2 298l-2.5-1.3-4-5.7-4.5-.8-2-1.6-.9-2.6 0-3.5 .6-2.5 1.3-1.5 1.5-.2 1 .5 4 6.9 4.5 1.6 2 2.2 1.2 3 .2 3-.9 1.9-1.5 .6zM467.2 287.7l-.5-.3-.1-1.4 .1-1.2 .5-.3 0 3.2zM462.2 373.1l-3-.1-2.8-1.5-2.2-2.7-1.7-3.8-1.5-7.5-.8-15-1.1-2-5.5-6.5-1.4-3-1.2-4-.6-10.5 1-8 1.2-3.5 1.7-3 2.3-2.5 2.6-1.9 5-1.9 9-.6 3.5-1 7.5 5.4 4.4 5 2.1 .7M507.7 307.7l9.2 6.3 2.1 3 .6 3-.6 3-2.1 3-9.2 6.3M501.7 334.6l-2.5 1.1-.6 1.3 4.3 9.5 .7 3.5-.1 3-.8 2.1-1.5 1.8-2.5 1.4-2 .4-2.5-.5-2.1-1.2-2.4-2.4-2-3-2.9-7.1-.6-8-1.6-1-3.4-.8-1.5 .2-1.5 1.1-3.4 4-1.2 2.5-.5 14.5-1.9 8.8-3 5.1-2 1.5-2 .7M178.2 349.5l-2.5-.5-2.5-2-5-8.4-9-1.7-2.8-1.4-2.2-1.9M154.2 303.4l4.1-2.9 5.9-1 6 .8 2.5 1.3 2 1.7M177.6 329l-.2 3.5 3.8 6.4 1.3 5.1-.3 2.4-.9 1.6-1.3 1-1.8 .5M383.2 349l-2-.2-2-1.2-3-4-1.4-3.1-1.3-7.5 .4-10 1.8-4.8 6-7.4 2-1.2 2-.5 5 0 2 .7 1 1.2 .4 2.5-.7 2-2.2 1.3-5.5 .8-2 .7-1.5 1.2-.8 2 0 15 .5 2.5 1.8 2.4 5.6 3.1 .9 1.5-.2 1-.8 .6-6 1.4zM74.2 324.2l-1.5 0-1-.6-1-1.4-.6-2.2 .7-4 .9-1.2 1.5-.8 1.5 .5 1 1 1 3-.5 3.5-2 2.2zM164.7 366.6l-2-.3-1.5-1.8-1-3.1-.5-4.4 .3-5 .8-3.5 1.4-2.4 2-.8 1.5 .6 1.4 2.1 .8 3 .4 4-.2 4.5-.7 3.5-1.2 2.4-1.5 1.2zM400.2 383.7l-3 .1-2.5-1.7-1.7-3.1-.9-4.5 0-5.5 1.1-4.6 2-3.1 1.5-1 1.5-.3 2.5 .5 2 1.9 1.5 3.1 .7 4 0 5-.7 4-1.5 3.1-2.5 2.1zM378.7 389l-2 .2-1.5-1.4-1-2.8-.4-3.5 .4-10.5 1-3 1-1.1 1-.4 1.5 .3 1.1 1.2 .9 2.6 .5 3.9-.4 10-.8 3-1.3 1.5zM400.7 464.1l-.7-.1-.8-1 .4-1 1.2 1-.1 1.1zM414.7 476.5l-3.5 .3-2.8-1.3-1.6-2.5 .5-2.5 1.9-1.3 2.5-.5 2.5 .2 2.1 1.1 1.2 1.5 .2 2-1 1.8-2 1.2zM74.7 476.2l-2.5-.2-1.5-1.7 0-2.3 2-1.8 2.5 .3 1.3 1.5-.1 2.5-1.7 1.7zM320.2 567l-2.9 0-1.9-1.5-.4-2.5 1.7-2.1 3-.5 2.5 1.7 .5 1.4-.2 1.5-.8 1.1-1.5 .9zM165.2 564.1l-1.2-.6 .6-1 1.2 .5-.6 1.1zM311.2 197.8l-1-.3M309.2 197.3l-4.5-2.1-3.5-3-2.3-3.7-2.2-5.8-1.5-1.9-11-1.7-5-1.6-2.3-1.5-1.2-1.5-.3-1.5 .4-2 1.9-2.1 4-.9 5 .4 8.5 2 2 0 2.5-1.6 4.5-4.3 .6-1.5-.3-2-3.3-9.3-1.5-.9-5.5 .4-3.5-1-1.3-1.2-.6-1.5-.2-4.5 1.2-2.5 2.4-1.4 3.5-.4 4 .7 1.5-.7 5.9-13.2 2.1-3 2.5-2.4 2.5-1.5 2.5-.8 3 0 3 .7 2.5 1.5 2.5 2.3 2 2.9 1.9 3.8M332 162l-.3 3.5 3.4 6 1.2 4 .3 5-.4 4.5-1.5 4.3-2.5 3.5-3.3 2.7-4.2 1.8M323.7 197.6l-1 .2M166.7 218.6l-1.2-1.1 .2-1.3 1.5 1.3 0 .8-.5 .3zM319.2 223.7l-1-.2-.5-1 .2-1 .8-.7 1 .2 .5 1-.2 1-.8 .7zM396.2 287.6l-1 .3-1-.3-1.2-1.6-.2-3 .4-1.2 1-.8 1.2 .5 1.1 2 .4 2.5-.7 1.6zM404.7 294.1l-1-.1-1-1.5-.1-1.5 .6-.4 1.5 1 .4 1.4-.4 1.1zM463.2 371.1l-3.5 .2-2.5-1-2.1-2.3-1.9-3.9-1.5-7.3-.7-14.3-1.1-2-5.8-6.5-1.5-3-1.1-4-.7-10.5 1-8 2.1-5 3.3-4 4.5-2.6 5.5-1.1 9-.6 1.5 .4 6 4 4.5 5.2 2.5 .7M506.7 307.6l4.8 2.9 5 4 1.7 2.5 .7 3-.7 3-1.7 2.5-5 4-4.8 2.9M501.7 334.2l-3.5 1.3-.8 1 4.6 9.5 .7 3.5-.1 3-.7 2-1.2 1.4-2 1.2-2 .4-2.5-.4-2-1.1-2-2-2-3-2.7-7 0-7.5-1.4-1-4.4-1.2-2 .1-1.7 1.1-4 4.5-1.2 2.5-.5 14-1.6 7.8-2.5 4.7-3 2.1M178.7 348.5l-2.5-.1-2.5-1.8-2-2.9-2.1-4.7-.9-1-9.5-1.6-2.9-1.4-2.1-2M154.2 304l2-1.9 2.5-1.3 3-.7 4-.2 3 .4 2.5 .8 2.1 1.4 1.9 2M177.2 329.2l-.4 3.8 3.4 5.2 1.6 4.8-.6 3.6-1 1.2-1.5 .7M387.2 315l-2.8-.5 0-1 1-1.5 2.3-.7 2.8 .7 .1 2-3.4 1zM73.7 320.5l-.6 0-.6-1 .7-1.7 1 .8 0 1.2-.5 .7zM378.2 334l-1.3 0-.7-1.8 0-4.4 1-2 1 .3 .6 1.9 0 4-.6 2zM164.7 365.1l-1.5 0-1.5-1.5-1-2.9-.4-3.2 .1-4 .6-3.5 1.2-2.3 1.5-1 1.5 .4 1.2 1.4 .8 2.5 .5 3.5-.6 7-.9 2.3-1.5 1.3zM398.7 382l-2.2-.5-1.8-1.9-1.1-2.6-.5-4 .1-4 1-3.6 1.6-2.4 2.4-1 2.3 .5 1.7 1.7 1.2 2.8 .5 4-.2 4.5-1 3.4-1.5 2.1-2.5 1zM378.2 381.6l-1 .4-.5-.5-.5-2 .1-3.5 .9-2 1 .3 .5 1.4 .1 3.8-.6 2.1zM413.7 475.6l-2.5 0-2-1.1-.8-2 .7-1.5 1.6-1 1.5-.2 2 .4 1.3 .8 .7 1 0 1.5-1 1.4-1.5 .7zM73.7 474l-.5-.1-.4-.9 .9-.6 .7 .6-.7 1zM319.2 564.6l-1 0-.4-.6 .4-1 1.5 .3 .1 .7-.6 .6zM321.7 197.6l-1.5 .2M313.7 197.8l-6.5-1.7-5-3.4-2.6-3.7-2.9-7.9-1.5-2.1-1.5-.4-6-.2-6-1.4-3-2-.6-1.5 .2-1.5 .4-1 1.3-1 3.2-.6 5.5 .6 6.5 2 1.5-.1 2-1.4 6-6 .4-2.5-4.1-14.5-.1-4 5.3-15.5 2.5-4.2 3-3.1 2.5-1.5 3-.9 3 .1 3 1 2.5 1.6 2.4 2.5 3.5 6.5M332 161l-.8 3 0 1.5 3.5 6.1 1.3 4.9 .2 5-.7 4.5-1.8 4.2-3 3.5-4 2.5-5 1.4M296.2 147.1l-2 0-1.1-.6-.4-2 1-1.5 2-.2 1.5 .8 .2 2.4-1.2 1.1zM461.7 369.5l-2-.1-2-.8-1.5-1.4-1.5-2.3-1.2-3.4-.9-4.5-.7-14.5-1.2-2-5.7-6-2.6-5.5-.9-4.5-.3-6 .3-6 .9-4.5 2.3-5 3.3-3.5 4.2-2.3 5.5-1 8-.2 2 .4 5.7 3.6 4.8 5.4 2.5 .5M505.7 307.5l4.3 2.5 5.6 4.5 1.8 2.5 .7 3-.7 3-1.8 2.5-5.6 4.5-4.3 2.5M500.7 334.1l-3.9 1.4-.7 1 4.7 8.5 .9 3.5 0 3.3-.6 1.7-1.3 1.5-3.6 1.3-2.5-.6-2-1.4-2-2.4-1.6-2.9-1.9-6 0-2.5 1.1-3.5-.6-1-2.4-1-5.1-1.1-2 .2-1.4 .9-4.2 4.5-1.5 2.5-.6 14.5-1.8 7.5-2.5 3.9-1.5 1.1-2 .5M178.2 347.5l-2.5-.3-2-1.7-1.6-2.5-1.8-4.5-.9-1-10.2-1.5-3-1.6-2.3-2.4M153.9 305l1.8-2 2.5-1.6 3-.9 3.5-.2 3.5 .3 2.5 .8 2.5 1.5 1.9 2.1M175.2 305.1l.5 .8M177 328.5l-.9 3.5 0 1.5 3.5 5 1.4 4.5-.6 3-2.2 1.5M164.2 363.6l-1.5-.5-.9-1.6-.8-5.5 .8-5.5 .9-1.6 1.5-.5 1 .4 1 1.6 .8 5.6-.8 5.5-1 1.6-1 .5zM399.7 379.2l-2 .1-1.5-.9-1-1.7-.6-2.7-.1-3.5 .7-3.2 1.1-1.8 1.9-.9 1.5 .2 1.4 1.2 1.3 4-.4 6-.9 2-1.4 1.2zM412.7 473.6l-1.4-.6 .4-.9 1-.2 .8 .6 0 .5-.8 .6zM317.7 197.5l-4.5-.2-3.9-.8-3.4-1.5-2.7-1.9-2-2.3-1.6-2.8-2.7-9-.4-3 .8-2.5 3.2-4 4.5-4.5 .7-1.5-3.3-15-.1-5 .6-4 2.3-8 2.9-6 3.6-4.2 4-2.1 5-.1 4.2 1.9 3.8 4.2 2.8 5.8M332 159.5l-1.2 4-.1 2 3.7 6.5 1.3 5.5 0 5.5-1.1 4.5-2.4 4.1-4 3.4-5 1.9-5.5 .6M289.2 175.5l-4.2-.5-1.1-1 .2-1 1.6-.6 3.3 .6 1.2 1-.2 1-.8 .5zM463.2 367.1l-2.5 .4-2-.5-1.5-1-1.5-2.1-1.4-3.4-.8-4-.6-14-1.2-2-6-5.9-2.7-5.1-1.1-4.5-.3-5 .2-6.5 .9-5 2.2-5 3.3-3.6 4.5-2.3 5-.9 8-.1 2.5 .7 5.1 3.2 4.4 5.2 1.5 .6 2-.1M505.2 307.7l4.1 2.3 5.3 4.5 1.9 2.5 .8 3-.8 3-1.9 2.5-5.3 4.5-4.1 2.3M500.7 333.8l-6 1.7-.9 1 4.4 5.1 1.8 3.9 .8 3-.1 2.5-.9 2-1.6 1.3-2 .6-2.3-.4-2.2-1.6-2-2.7-1.9-4.2-.6-2.5 .1-2.5 .9-2.1 1.7-1.9-.3-1-10.4-2.5-2 0-1.5 .9-5 5.1-1.4 2-.5 2.5-.1 10.5-.8 5-1.9 5-2.8 2.6M178.2 346.2l-2 0-2-1.4-1.5-2.5-1.4-4.3-.8-1-11.3-1.4-3.5-2.1-2.3-3M153.4 306.5l1.8-2.5 2.7-2 3.1-1 3.7-.3 3.5 .3 3 1.1 2.5 1.8 1.9 2.6M176.6 328.5l-1.5 5.5 3.6 4.5 1.4 4-.4 2.4-1.5 1.3M164.7 361.3l-1 .2-1-.9-.8-3.1 .3-4.9 .5-1.2 1-.9 1.5 .7 .9 3.3-.2 4.5-1.2 2.3zM398.7 374.2l-1-.4-.4-1.3 .2-2 .7-.7 1 .2 .5 1.5-.3 2-.7 .7zM319.7 197l-7.5-.2-6-2.1-2.5-1.7-2-2.2-1.7-2.8-1-3-1.3-6.5 .4-4 1.9-3.5 5.6-6 .6-1.5-3.1-14-.2-5 .5-5 2.1-7.5 2.7-5.9 3.5-4.1 4-2.2 4.5-.2 4.5 1.9 4 4.5 2.8 6M331.7 132.7l.4 1.3M332.1 158l-1.9 7 .4 1.5 3.1 5 1.3 4 .4 6-.9 5-2 4-3.3 3.3-4.3 2.2-5.2 1M462.2 365l-2 .1-1.5-.5-2.5-2.9-1.7-6.2-.2-11.5-.5-2-1-1.5-6.6-6-2.9-5.5-1-4.5-.3-6 .3-6 1-4.5 2.2-4.5 3.4-3.5 4.3-2.1 5.5-.8 6.5 .1 3 .7 4.9 3.1 4.6 5.3 1.5 .5 2-.2M504.2 307.7l4.3 2.3 4.6 4 2.4 3 .9 3-.9 3-2.4 3-4.6 4-4.3 2.3M499.7 333.6l-8 1.4-13.5-2.1-2.5 .8-6 5.8-1.5 2-.5 2.5 0 9.5-.8 5-1.9 4.5-1.3 1.3-1.5 .7M172.2 335.7l-8.5 .2-4-.6-3.9-2.3-2.5-3.5M153.3 307.5l1.6-2.5 2.3-2.1 3-1.3 3.5-.4 4 .2 3 .9 2.5 1.7 2.3 3M176.6 327.5l-2.9 6.8-1.5 1.4M177.7 344.6l-2-.1-2-2.5-.8-3 .8-2.2 1-.1 1.5 .6 2 2.5 .7 3.2-1.2 1.6zM496.7 353.1l-2 .1-2-1-1.9-2.2-1.6-3.3-.7-2.7 .2-2.5 1-1.7 1.5-1 2-.1 2 1 2 2.3 1.5 3 .8 3-.2 2.5-.8 1.5-1.8 1.1zM164.2 357.4l-.5-.1-.2-1.3 .2-1.3 .5-.1 .4 1.4-.4 1.4zM320.7 196.5l-8 0-6-2-2.5-1.7-2-2.1-2.6-5.2-1.1-6.5 .4-4.5 2.1-4 4.8-5 .9-2-3-13.5-.2-5.5 .5-5.5 2.2-7.9 3-5.6 3.5-3.6 4.5-1.8 2.5 0 2.5 .7 4 2.7 3.5 5.1 2.4 6.9M332.1 156.5l-2.5 8.5 .4 1.5 3.2 5 1.3 3.5 .5 6-.8 5-1.9 4-3.1 3.3-4 2.2-4.5 1M462.7 362l-3 .2-1.5-1-1-1.4-1.5-5.3-.1-10.5-.4-2-1.7-2-6.3-5.1-2-2.7-1.4-3.2-1.1-4.5-.3-5.5 .3-6 1-4.8 2-4.2 3.5-3.6 4-1.9 5.5-.9 6.5 .1 3 .8 4.5 2.8 4.5 5.3 1.5 .6 2.3-.2M502.7 307.6l4.2 1.9 3.8 3 3.5 4 1.2 3.5-.9 3-3.3 4-3.5 3-4.5 2.3M499.7 333.2l-8.5 1.1-6-.5-7-1.3-2.5 .6-8.8 8.4-.5 2 .1 8-.4 4.5-1.4 3.9-2 2.1M170.2 335.1l-6.5 .3-4.5-.8-3.5-2.3-2.5-3.8M153.2 308.5l1.8-3 2.2-2.1 3-1.3 3.5-.5 4 .2 3.4 1.2 2.6 2.1 1.8 2.9M175.5 308l.5 1M176.2 327.5l-2.8 5.5-1.2 1.2-2 .9M495.7 351.1l-1.5-.1-1.5-1-2.3-4-.2-3.1 .5-1 1.5-1 1.5 0 1.5 1 2.4 4.1 .1 3.4-.8 1.1-1.2 .6zM321.2 196.1l-7.5 .1-6.1-1.7-4.6-3.5-1.7-2.5-1.3-3-.9-6.5 .7-5 1.8-3.5 4.9-5 .7-1.5-2.3-9-.8-5-.1-6 .6-5.5 2.1-7.5 3-5.4 3.9-3.6 4.1-1.3 2.5 .1 2.5 .8 4 3.2 3.2 5.2 2.1 7M332 155l-2.9 10.5 3.6 6 1.3 3.5 .6 5.5-.7 5-1.7 3.9-2.7 3.1-3.8 2.3-4.5 1.3M461.7 358.7l-1.5-.1-1-.5-1.5-2.7-.6-3.9 .3-7.5-.4-2-1.3-1.5-7.7-5.5-2.3-2.9-1.5-3.3-1.1-4.8-.2-6.5 .4-5.5 1.2-4.5 2.2-4 3.5-3.1 4-1.7 5.5-.6 5.5 .2 3 .8 4.5 2.9 4.5 5.3 1.5 .4 3.5-.5M501.7 307.7l4.4 1.8 3.3 2.5 3.7 4.5 1.2 3.5-1.2 3.5-3.7 4.5-3.3 2.5-4.4 1.8M501.2 332.5l-1.5 .4M499.7 332.9l-9 .9-6-.5-7-1.4-2 .5-4.5 4.2-5.2 3.9-1.1 1.5-.4 1.5 .4 6-.3 4.5-1 3-1.9 1.7M169.7 334.5l-6 .5-4.5-.9-3.5-2.4-2.3-3.7M153.4 328l-.5-1.5M152.9 310.5l.5-1.5M153.4 309l2.1-3.5 2.7-2.2 3.5-1.1 4.5-.1 3.5 .7 2.8 1.7 2.1 2.5 1.5 3.5M176.1 326.5l-2.6 5.5-1.8 1.7-2 .8M321.7 195.6l-8 .2-6-1.7-4.5-3.5-2.7-5.1-.9-6.5 .8-5 1.8-3.5 5-5 .6-1.5-2.2-8-1-5.5-.2-6.5 .6-5.5 2.2-7.5 3-5.3 4-3.4 4.5-1 4.5 1.3 4 3.6 3 5.8 1.8 7.5M332 152.5l-1 5-2.5 8 .6 1.5 3.1 4.5 1.4 3.5 .5 5-.5 5-1.7 4-2.5 3-3.7 2.4-4 1.2M461.7 341l-3-.4-8-4-3.4-3.1-2.1-3.5-1.6-6-.3-8 .8-6 2.1-4.9 2.7-3.1 3.8-2.3 4.5-1 6.5 0 3.5 .6 3.5 1.7 2.3 2 4.2 5 1.5 .2 3.5-.6M500.2 307.7l4 1.3 3.3 2 3 3 2.1 3.5 .5 2.5-.5 2.5-1.7 3-2.8 3-5.4 3.1-7.5 1.6-8.5 0-9-1.8-1.5 .1-7 5.8-7.5 3.7M165.7 334.5l-5-.4-3.5-1.6-2.9-3.5-1.4-4.5M152.9 312.5l1.3-4.2 2.4-3.3 3.1-1.8 4-.7 4.5 .4 3.6 1.6 2.6 3 1.6 4.5M176.1 325l-1.6 4.5-2.3 3-2.5 1.4-4 .6M322.2 195l-8 .4-3.5-.7-3.1-1.2-2.4-1.6-2.2-2.4-1.6-3-.9-3-.3-5.5 1-4.5 2-3.5 4.3-4 .9-1.5-3-11.5-.5-9.5 .5-5 1.1-4.5 1.7-4.2 2-3.3 3-2.9 3.5-1.4 4 0 3.5 1.7 3 3.2 2.4 4.4 1.6 5.5 .8 6M332 149l-1.1 7.5-3 9 .5 1.5 3.3 4.5 1.3 3 .6 4.5-.4 5.5-1.5 4-2.4 3-3.1 2.1-4 1.4M463.2 339.1l-4.5 .1-6-2.1-4.2-3.1-2.8-4-1.7-6-.2-8 .8-6 2.1-4.7 3-3.3 3.5-1.9 4-.8 6-.1 4 .7 3.2 1.6 2.3 2 4.1 5 1.9 .2 5-1M498.7 307.7l4.5 1.3 3.5 2 2.6 2.5 2.1 3.5 .6 2.5-.4 3-1.5 3-2.7 3-5.2 2.9-7.5 1.4-8.5-.1-10-1.8-1.5 .8-5.5 4.9-6 2.5M165.7 334l-5.4-.5-3.5-2-2.6-3.8-1.3-5.2M152.9 314.5l1.2-5 2.2-3.5 3.4-2.3 4-.7 5 .5 3.5 2 2.5 3.5 1.3 5M176 323l-1.3 5-2 3.3-3 2-4 .7M318.7 195l-7.5-.6-3-1.1-2.8-1.8-2.2-2.5-1.3-2.5-.9-3-.3-4 .4-4 1.4-3.5 2.2-2.9 3.6-3.1 .8-1.5-2.8-9-1-6.5 .2-8 1.5-7 2.2-5 2.5-3.4 3.5-2.3 3.5-.6 3.6 .8 3.4 2.6 2.9 4.4 2 5.5 1 7.5-.2 8-1.2 6-3 8 .5 1.5 3 3.8 1.4 2.7 .8 3 .3 3.5-.9 6-2.7 4.5-2.4 2-2.5 1.3-6 1.2zM463.7 338l-5.5 .1-5-1.5-4-2.7-3-4.1-1.7-5.8-.2-8.5 1-6 2.2-4.5 2.7-2.7 3.5-1.8 4-.7 5.5 0 3.9 .7 3.1 1.5 2.3 2 3.2 4.5 1 .7 1.5 .1 8-1.6M495.7 307.7l4.7 .8 3.9 1.5 2.9 2 2.4 3 1.3 3.5 0 3-1.3 3.5-2.4 3-5.2 3-7.3 1.4-9-.1-8.5-2-1.5 0-6.5 5.5-5.5 2.2M165.7 333.5l-5-.4-3.5-1.8-2.5-3.5-1.4-5.3 0-8 1.4-5.3 1.3-2.2 1.7-1.7 2-1.1 2.5-.6 5.5 .2 3.8 1.7 2.7 3.5 1.5 5.5-.1 8.5-1.6 5.5-1.3 2-2 1.7-2 .9-3 .4zM319.2 194.5l-7.5-.4-3-1.1-2.5-1.5-2-2-1.8-3-.9-3-.3-3.5 .4-4.5 1.5-3.5 1.6-2.2 4-3.3 1.1-1.5-.2-1.5-2.7-7.5-1.1-6 0-8 1.3-7 2.1-5 2.5-3.5 3-2.3 3.5-.8 4 .8 3.1 2.3 2.9 4.2 1.9 5.3 1.1 7.5-.2 8-1.3 6-3 7-.2 1.5 4.9 7 .9 3 .4 3.5-.7 6-2.6 4.5-4.2 3.1-6 1.4zM464.2 337.1l-6 .2-5.5-1.6-4.1-3.2-2.8-5-1.1-7.5 .7-9 2.4-5.5 1.9-2 2.5-1.7 3-1.1 3-.4 5 0 3.6 .7 4.4 2.5 4.1 5.5 1.4 1 11-2 7 0 5 .7 3.5 1.2 2.5 1.5 2 1.9 1.4 2.2 1 4-.6 4-2.3 3.7-3.9 2.8-5.6 1.7-8 .4-6-.5-8-2.1-1.5 .9-4.8 4.6-5.2 2.1zM165.2 333l-4.5-.4-3.5-2-2.4-3.6-1.1-5 0-7.5 1.5-5.4 3-3.5 2-1 2.5-.5 5.5 .3 3.5 1.9 2.5 3.7 1.1 5-.1 8-1.7 5.5-1.5 2-1.8 1.4-2 .8-3 .3zM319.7 194l-7.5-.3-3-1-2.5-1.4-2-2-1.5-2.3-1.1-3-.4-3.5 .4-4.5 1.3-3.5 1.8-2.5 4.4-3.5 1-1.5-3-8-1.3-6.5-.1-8 1.2-7 1.8-4.5 2.5-3.7 3-2.3 3.5-.9 3.5 .6 3.5 2.5 2.6 3.8 1.9 5.1 1.1 7.4-.3 8-1.3 6.1-3.2 6.9-.3 1.5 5.1 7 1 3 .4 3.5-.6 5.5-2.4 4.5-4 3-5.5 1.5zM463.2 336.5l-6-.1-5-1.7-3.7-3.2-2.3-4.6-1-7.4 .7-8.5 1.1-3 1.6-2.5 2-2 2.1-1.3 3-1 3-.3 4.5 0 3.5 .7 4.1 2.4 4.4 6 1.5 .7 6-1.6 4-.6 7.5-.1 5 .6 3 1 2.7 1.5 2.2 2 1.3 2 .9 4-.7 4.5-2.4 3.5-3.5 2.3-6 1.6-8 .3-5.8-.7-7.2-2.2-1.5 .7-5.2 5-2.8 1.3-3 .7zM168.2 332.1l-5 .3-3.8-.9-3-2.5-1.7-3.6-.8-7.4 .8-6.5 1.1-2.5 1.4-1.9 3.5-2.1 5-.4 4 .9 2.9 2.5 1.8 4 .7 7.5-.9 6.2-2.4 4.3-3.6 2.1zM319.7 193.5l-7-.2-3-.9-2.5-1.4-2.1-2-1.6-2.5-.9-3-.3-3 .3-4.5 1.4-3.5 2.5-3 4.2-3 .8-1.5-3.3-7.7-1.4-6.3-.2-8 1.2-7 1.9-4.9 2.5-3.4 3-2.2 3-.7 3.5 .7 3.4 2.5 2.6 3.9 1.8 5.1 .9 7.5-.4 8-1.6 6-3.6 7.5 .4 1 3.3 3.5 1.7 2.5 1.1 3 .4 3.5-.7 5.5-2.3 4.2-4 3-5 1.3zM464.7 335.5l-6.5 .3-5-1.3-3.9-3-2.5-4.5-1.1-7 .1-5 .7-4 2.4-5 2-2 2.3-1.4 3-.9 3.5-.3 4 .2 3.5 .9 3.8 2.5 3.7 5.5 1.5 1 6.5-2 4-.6 7.5-.1 5 .7 5 2.1 2.1 1.9 1.3 2 .9 4-.7 4.5-2.1 3.2-3.5 2.3-6 1.6-8.5 .1-5-.7-7.5-2.6-1 .6-4.8 5-4.7 2zM168.2 331.5l-5 .4-3.5-.8-3-2.6-1.6-3.5-.7-7.5 .8-6 2.3-4 3.7-2.1 5-.3 3.5 1.1 2.6 2.3 1.6 3.5 .7 6.5-.7 6.5-2.2 4.3-3.5 2.2zM319.7 193l-7-.2-3-1-2.3-1.3-1.7-1.6-1.6-2.4-.9-2.7-.4-3.3 .4-4.5 1.5-3.6 2.1-2.4 5.2-3.5 .6-1-3.6-7.5-1.6-6-.4-8.5 1.2-7.2 1.7-4.3 2.3-3.4 3-2.3 3-.7 3.5 .7 3 2.2 2.5 3.6 1.9 5.4 .9 7.5-.6 8-1.7 5.8-4 7.2 .4 1 3.7 3.5 1.8 2.5 1.1 3 .4 3.5-.6 5.5-2.3 4-3.5 2.6-5 1.4zM463.7 335l-6 .1-4.5-1.3-3.5-2.8-2.5-4.6-1-7.4 .9-8 1.1-2.8 1.5-2.2 4-2.9 3-.8 4-.3 3.5 .3 3 .8 3.9 2.9 3.6 5.8 1 .7 6-2.2 4-.9 7.5-.2 5.5 .6 5.1 2.2 2.1 2 1.2 2 .7 4-.7 4-2 3-3.4 2.2-6 1.5-9 0-5-1-6.5-2.8-1.5 .9-4.5 5-2.5 1.4-3 .8zM167.7 331l-4.5 .3-3.5-.9-2.7-2.4-1.6-3.5-.6-7 .7-5.5 2.2-3.9 3.5-2.1 4.5-.3 3.5 .8 2.8 2.5 1.6 3.5 .6 7-.7 5.5-2.3 4-3.5 2zM319.7 192.5l-7-.3-2.5-.7-2.5-1.5-2-2-1.2-2-1.1-5.5 .4-4.5 1.5-3.5 2.3-2.5 5.9-3.5 .5-1-4-6.5-1.9-6-.7-8.5 1.1-7.5 1.7-4.5 2-3 3-2.4 3-.7 3.5 .7 3 2.3 2.3 3.6 1.7 4.9 .9 8.1-.9 8-2 5.7-4.4 6.3 .4 1 4 3.2 2 2.4 1.5 3.4 .4 3.5-.6 5-2.1 4-3.7 2.8-4.5 1.2zM464.7 334.1l-6.5 .3-4.5-1.1-3.5-2.7-2.3-4.1-1.1-6.5 .6-8 2.3-5 2-2 2-1.2 3-.9 4-.2 3.5 .2 3 1 2 1.2 1.9 1.9 3.1 5.7 1 1 1-.1 4.9-2.6 3.1-.9 4.5-.5 6 .1 4 .6 3.5 1.3 2.5 1.9 1.7 2.5 .6 4-.6 4-2.2 3-3 1.9-6 1.4-9-.1-5.1-1.2-5.4-3.2-1-.2-5 6-2.5 1.6-2.5 .9zM167.2 330.5l-4.5 .2-3-1-2.5-2.3-1.5-3.7-.4-6.7 .8-5 2.1-3.6 3.5-1.9 4.5-.2 3 .9 2.5 2.3 1.5 3.5 .5 7-.8 5-2.2 3.7-3.5 1.8zM319.2 192l-6.5-.3-4.5-2-3-3.7-.9-2.5-.3-3 .6-5 2.1-3.8 3-2.4 6.8-3.3-4.3-4.5-2.5-4.5-1.5-6-.3-7 1-6.5 2.3-5.5 3-3.4 2-1 2-.4 3.5 .8 2.6 2 2.4 3.6 1.6 4.9 .8 9-1.3 8-1.2 3-1.8 3-4.9 4.5 .8 1 5 3.1 2 2.1 1.7 3.3 .6 4-.4 4.5-2.1 4-3.3 2.6-5 1.4zM463.7 333.6l-6 0-4-1.1-3.2-2.5-2.2-4-.9-6 .6-8 2.2-4.6 2-1.9 2-1.1 3-.9 4.5-.1 3.5 .5 2.5 1 3.3 3.1 3.2 6.9 1 .8 4.1-3.2 3.3-1.5 4.1-.8 5.5-.2 5 .5 3.6 1 3 2 1.8 2.5 .7 3.5-.6 4.2-1.9 2.8-3.1 2-6.5 1.4-9.5-.4-5-1.8-5-4-5.4 7.3-2.6 1.7-3 .9zM166.2 330l-4 0-3-1.3-2-2.4-1.2-3.8-.2-6.5 .9-4.3 2.3-3.2 3.2-1.5 4.5 0 3 1.3 2 2.2 1.3 4 .2 6.5-1 4.5-2.5 3.3-3.5 1.2zM319.7 164.1l-2 .1-2-.6-2-1.5-1.8-2.1-2.4-5.5-1.1-7 .5-7.5 1.9-6 1.5-2.5 1.9-1.9 2-1.1 2-.4 2 .2 2 .9 3.2 3.3 2.3 5.5 .9 6.5-.4 7-1.8 6-2.7 4.2-2 1.6-2 .8zM318.2 191.5l-5.5-.4-4.4-2.1-2.7-3.5-1-5 .6-5 2.5-4 4.5-2.7 5.5-1.1 4.5 1.1 4.1 2.7 2.3 3.5 .8 4.5-.6 5-2.1 3.5-3.6 2.5-4.9 1zM461.7 333l-5-.3-4-1.7-3-3.5-1.4-4.5-.2-7.5 1.3-5.5 1.3-2.1 2-1.9 4.5-1.7 7 .1 2.5 .8 2 1.3 2.9 4 1.9 6.5-.2 5.5-2.7 6-1.8 2-2.1 1.4-5 1.1zM167.7 329l-4.5 .4-3-.8-2.2-2.1-1.3-3-.5-5.5 .6-5 1.9-3.4 3-1.8 4-.2 3 .8 2 1.7 1.5 3 .6 5.4-.6 5.4-1.6 3.1-2.9 2zM492.7 329.5l-5-.1-4-.6-3.2-1.3-2.5-2-1.6-2.5-.6-3.5 .7-3 1.9-2.5 2.3-1.6 3-1.2 7.5-.7 7.5 .8 2.8 1.2 1.9 1.5 1.4 2 .7 3-.2 3.5-1.1 2.5-1.9 2-2.6 1.3-7 1.2zM319.7 163l-2 .1-2-.7-2-1.4-1.5-1.8-2.3-5.2-1-6.5 .5-7 1.8-5.9 3-4 2-1.2 2-.4 3.5 .9 3.2 3.1 2.2 5 1 6.5-.4 6.7-1.7 5.8-2.8 4.1-3.5 1.9zM320.7 190.6l-5 .3-4-.7-3.5-2.2-2-2.8-1-4.2 .5-5 2-3.5 3.5-2.5 4.5-1.2 5 .3 4 1.9 3 3.6 1.1 4.9-.2 3-.7 2.5-2.7 3.5-4.5 2.1zM463.7 332l-5.5 .2-4-1.1-3-2.5-1.8-3.6-.8-6.5 .8-6.5 2.3-4.1 2-1.6 2-.9 6-.6 4.5 1 3.4 2.7 2.1 4 .9 7-1.2 6-1.3 2.5-1.9 2-2 1.3-2.5 .7zM166.7 328.6l-4 0-2.5-.9-2-2.1-1-2.6-.4-5.5 .7-4.5 1.8-3 2.9-1.5 4-.2 2.5 .9 2 2 1.1 2.8 .4 5.5-.7 4.5-1.8 3-3 1.6zM493.2 329l-8.5-.5-3-1-2.7-2-1.7-3-.3-3.5 .6-2.5 1.9-2.5 2.3-1.5 2.9-1 7.5-.5 6.5 .9 2.4 1.1 1.9 1.5 1.2 2 .5 2.5-.1 3-.9 2.5-1.8 2-2.2 1.2-6.5 1.3zM319.2 162l-2-.1-2-.8-2.9-3.1-2-5-.8-6 .4-6.5 1.8-5.4 3-3.8 3.5-1.3 3.5 .9 3 3.1 2 4.8 .8 6.2-.4 6.5-1.8 5.5-2.6 3.4-3.5 1.6zM320.2 190.1l-4.5 .2-4-.8-3.1-2-1.9-2.9-.8-4.1 .6-4.5 2.1-3.5 3.1-2 4.5-1 5 .5 3.7 2 2.3 3.1 .9 4.9-1 5-1.3 2-1.6 1.5-4 1.6zM464.2 331.1l-5 .3-4-.8-3-2.1-2.1-3.5-.8-5.5 .7-7 2.2-4 3.5-2.3 5-.6 4.5 .7 3.4 2.2 2.1 3.5 1 6-.8 6.5-1.1 2.5-1.6 2-4 2.1zM167.2 327.6l-3.5 .4-2.5-.6-2-1.5-1.4-2.9-.5-5 .6-4.5 1.8-2.9 2.5-1.4 3.5-.1 2.5 .7 1.9 1.7 1.1 2.5 .5 4.5-.5 4.5-1.5 3-2.5 1.6zM492.7 328.5l-8-.6-3-1.1-2.2-1.8-1.3-2.5-.2-3.5 .6-2.5 1.6-2.2 2-1.3 2.8-1 7.7-.5 6 1 3.7 2.5 1.2 2 .3 2.5-.2 3-.9 2-1.6 1.7-2.5 1.3-6 1zM320.7 160.6l-3.5 .3-2-.9-1.5-1.4-2.3-4.1-1.2-5.5 0-6.5 1.5-5.8 2.5-3.8 1.5-1.2 2-.6 3.1 .4 2.9 2.4 2 3.9 1.1 5.2 0 6-1.1 5.2-2 3.9-3 2.5zM319.2 189.5l-4 .1-3.5-.9-3-2.2-1.5-2.6-.6-4.4 .8-4 2.3-3 3-1.6 5-.7 4 .8 3.2 2 1.9 3 .6 5-1.2 4.2-2.6 2.8-4.4 1.5zM462.7 330.5l-4.5 0-3.5-1.1-2.7-2.4-1.5-3.5-.5-6.5 1-5 2.2-3.3 3.5-1.9 5-.3 4 .9 3 2.5 1.7 3.6 .4 7-1.1 5-1.3 2-1.6 1.5-4.1 1.5zM166.2 327l-3.5 0-2-.8-1.5-1.7-1-2.5-.2-5 .7-3.5 1.5-2.3 2.5-1.2 3.5 0 2 .7 1.6 1.8 1 2.5 .2 5-.7 3.5-1.6 2.4-2.5 1.1zM496.2 327.6l-9 .2-3.4-.8-2.6-1.4-1.5-1.8-.8-2.3 .1-3.5 1.1-2.5 3.6-2.5 5-.9 7.5 .3 4.5 2 1.5 1.6 .7 2-.2 5-.9 1.5-1.6 1.5-4 1.6zM320.2 159.6l-3.5 0-2.8-2.1-2.2-4.3-1-5.2 .3-6 1.4-5 2.5-3.5 3.3-1.4 3 .8 2.5 2.4 1.7 3.7 .9 5-.2 5.5-1.1 4.5-1.9 3.5-2.9 2.1zM320.2 188.6l-4 .3-3.5-.6-2.5-1.4-1.9-2.4-.9-3.5 .3-4 1.5-2.9 2.5-2 4-1.1 4.5 .3 3.5 1.7 2 2.5 .9 4-.7 4.5-2.2 3-3.5 1.6zM463.2 329.5l-4.5 .1-3.5-.9-2.5-2.2-1.4-3-.5-5.5 .7-5 2.1-3.5 3.1-1.8 5-.3 3.5 .8 2.5 1.8 1.8 3.5 .6 6-.9 5-2.5 3.4-3.5 1.6zM166.2 326.1l-3 .1-1.9-.7-1.5-1.5-.8-2-.4-4 .5-3.5 1.5-2.5 2.1-1.1 3-.1 2 .7 1.5 1.5 .8 2 .4 4-.5 3.5-1.5 2.5-2.2 1.1zM495.7 327l-8.5 .2-2.8-.7-2.2-1.1-1.7-1.9-.6-2 0-3 .9-2.5 2.9-2.2 4.5-1.1 7 .2 4.5 1.7 1.4 1.4 .8 1.5 .3 2.5-.3 2.5-.8 1.5-1.4 1.4-4 1.6zM319.7 158.5l-3-.2-2.5-2-1.9-3.8-.9-5 .3-5.5 1.4-4.5 2.1-2.9 3-1.2 2.7 .6 2.3 2.2 1.7 3.8 .7 4.5-.2 5-1.2 4.5-2 3-2.5 1.5zM319.2 188l-3.5 .1-3-.7-2.5-1.7-1.4-2.2-.6-3 .5-3.8 1.5-2.4 2.5-1.8 3.5-.7 4.5 .5 2.8 1.7 1.7 2.5 .6 4-.8 3.5-2.3 2.7-3.5 1.3zM462.7 328.6l-4 .1-3-.9-2.1-1.8-1.5-3-.5-5 .6-4.5 2-3.2 3-1.7 4.5-.3 3 .7 2.5 1.9 1.5 3.1 .5 5.5-.8 4.5-2.2 3.1-3.5 1.5zM166.2 325l-2.5 .2-2-.6-1.1-1.1-.9-2-.3-3.5 .5-3 1.1-2 1.7-1 2.5-.2 2 .6 1.2 1.1 .9 2 .3 3.5-.5 3-1.1 2-1.8 1zM494.7 326.5l-7.5 0-2.5-.7-2-1.1-1.3-1.7-.6-2 .2-3 1-2 3.1-2 4.1-.7 6 .3 4 1.6 1.8 2.8-.1 4.5-2.2 2.6-4 1.4zM319.7 157.2l-2.5-.1-2.5-1.8-1.7-3.3-.8-4.5 .2-5 1.2-4 2.1-2.8 2.5-1 2.5 .6 2 1.9 1.5 3.3 .6 4-.1 4.5-1 3.9-1.6 2.6-2.4 1.7zM319.7 187l-3 .3-3-.5-2.4-1.3-1.5-2-.6-2.5 .2-3.5 1.3-2.4 2-1.6 3-.8 4 .3 2.5 1.1 2 2.4 .6 3.5-.6 3.5-2 2.4-2.5 1.1zM462.2 327.6l-3.5 0-2.5-.8-2-1.7-1.2-2.6-.4-5 .6-3.7 1.8-2.8 2.7-1.4 3.5-.2 3 .6 2.5 2 1.1 2.5 .5 5-.8 4-2.3 3-3 1.1zM166.2 323.7l-3.5 0-1.4-1.2-.7-1.5 .1-5.3 1-1.7 1.5-.9 2-.1 1.5 .5 1 1 .7 1.5 0 5-.7 1.6-1.5 1.1zM492.2 326l-6-.5-3.3-2-.8-1.5-.2-2.5 .4-2 1.1-1.5 3.3-1.6 5.5-.4 4 .6 2.9 1.9 .8 1.5 .2 2-.2 2-.7 1.4-2.5 1.8-4.5 .8zM319.7 155.6l-2.5 0-2-1.5-1.5-3-.7-3.6 .2-4.5 1-3.4 2-2.6 2-.8 2 .4 2 1.9 1.1 2.5 .7 3.5-.1 4-.7 3-1.5 2.7-2 1.4zM319.2 186.1l-5-.1-2-1.1-1.4-1.9-.6-2.5 .2-2.5 1-2 1.8-1.5 2.5-.8 3.5 .2 2.5 1.1 1.5 1.9 .6 3.1-.6 3-1.6 2-2.4 1.1zM463.2 326.1l-3 .3-2.8-.4-1.7-1-1.5-2.3-.6-3.2 .4-4.5 1.2-2.4 2-1.5 2.5-.5 3.5 .4 2 1.1 1.5 2.4 .5 3.5-.4 4-1.2 2.5-2.4 1.6zM165.7 322.2l-2.5 0-1.4-1.7-.1-3.6 .5-1.2 1-.9 2.5 0 1.5 1.7 0 4-1.5 1.7zM493.7 325.1l-5.9-.1-3.4-1.5-1-1.5-.3-1.5 .1-2 .8-1.5 2.2-1.6 3.5-.6 4.5 .2 3.4 1.5 1.2 2-.2 3.5-1.7 2-3.2 1.1zM319.7 153.8l-2 .1-1.5-.9-1.5-2.5-.6-3 0-3.5 .8-3 1.3-2 2-1 1.5 .2 1.6 1.3 1 2 .6 3 0 3-.6 3-1.1 2.1-1.5 1.2zM318.7 185l-4-.1-1.6-.9-1.2-1.5-.4-2 .2-2.4 .9-1.6 1.3-1 2.3-.6 2.6 .1 1.9 .8 1.4 1.7 .4 2.5-.4 2.5-1.4 1.6-2 .9zM462.7 324.7l-3 .2-2-.4-1.4-1-.9-1.5-.5-2.5 .2-3.5 .8-2 1.8-1.5 2-.4 3 .2 1.5 .9 1.2 1.8 .5 3-.3 3.5-1.1 2-1.8 1.2zM493.7 324.1l-5 0-2.9-1.1-.8-1-.4-1.5 .1-1.8 .6-1.2 1.9-1.3 2.5-.4 4 .1 2.5 1.1 1.2 2-.1 2.5-1.1 1.5-2.5 1.1zM319.2 151.5l-1.5 0-1-.7-1-1.8-.3-2 .5-4.5 1-1.5 1.3-.6 1.1 .1 1.2 1 1.2 3.5-.5 4.2-1 1.7-1 .6zM318.2 183.5l-3-.1-1.7-1.4-.3-3 1.5-2.1 3.5-.4 2.3 1.5 .4 1.5-.2 2-1 1.4-1.5 .6zM461.2 323l-3-.4-1.5-2.1 .2-4.5 .8-1.2 1.5-.8 2 0 1.5 .5 1 1 .5 1.4 .1 2.6-.6 2-1 1-1.5 .5zM491.7 323l-2.5-.1-2-.9-.8-2 .8-2 1.5-.8 2.5-.2 2 .2 1.6 .8 .7 1.5-.3 2-1.1 1-2.4 .5z"/><path class="cf" d="M1157 107l-2.5 .2-2.4-1.2-2.1-3.4-.4-2.6 .5-1.5 1.2-1.5 6.8-4 .7-1-.2-13 .6-3 1.2-2.5 2.6-2.2 4-1 9 .1 4.5 1.4 2.3 2.7 1.2 4.5 0 10-.5 2.7-1 2.4-2 2.1-3 1.2-12.5 .6-1 3.5-1.2 2-2.7 2-3.1 1.5zM910 354.5l-5.5-.4-3-2.1-1.2-3.5 .3-6 .9-2.2 1.5-1.5 6-2.1 2-1.2 6.4-7.5 1.7-4 .8-11 1.1-2.9 1.5-2.3 2.5-2.1 3-1.4 3.5-.6 7.5-.5 4.5-1.9 5.9-5.3 1.1-2 1.5-4.9 1.5-2 2-1.2 6-1.8 1.5-1.6 1.4-3.5 1.1-1.6 1.5-.9 4-1.3 1.8-1.2 1.8-2.5 1.2-5 1.3-2.5 2.4-1.7 6-1.7 2.5-3.7 3.1-2.9 2.3-4 4.6-3.5 3.9-7 1.1-6.2 2-3.6 3.5-2.3 8.5-1.4 4.2-2.5 1.6-2 1.4-4.5 1.2-2 1.6-1.3 3.5-1.5 1.3-1.2 .7-1.5 1-5.5 1.7-3 2.3-1.8 5.6-2.7 3.9-5.9 4.8-4.1 3.4-5.5 1.8-1.5 6-3.5 4.5-7.8 2-1.8 3.8-2.4-.1-1-5.7-1.6-3.5-2.5-2.5-4.2-1.5-5.2-.7-8.5 .5-11 1.7-6.7 3-4.7 3.5-2.1 5.5-.4 4 1.3 2.8 2.6 2.7 5.9 1.2 8.1 0 11-1.9 10 .2 1.5 1.5 .9 6.5 .8 3 1.1 2.2 2.2 2.3 4.6 1.5 .8 8-3.6 10.6-1.3 1.2-1 .4-2.5-.7-2.1-1.5-1-9.5-.7-5.9-1.7-3.6-2.4-2.4-3.1-1.3-3-.7-3.5-.2-11.5 1.1-6.5 2.4-4.5 3.7-3 5.4-1.8 5-.6 8-.1 11 .9 2-.6 8.5-4.6 3-.4 2 .9 1.1 2.3-.5 3-1.7 3-4.2 5.5-1 2.5-.1 15-2.4 9 1.6 5.5 0 5-.9 3-2.9 4.5 2.5 7 .2 7.5-1.1 4.5-2.6 3.9-4.5 3-5.5 1.6-9.5 .5-7.4-1-5.1-2.2-3.5-3.2-1.9-3.6-1.6-6.6-1.5-.6-2.5 .9-1.5 1.7-2.6 5.6-2.2 2-6.1 3.5-4.6 7.4-5.5 3.5-4.5 5-5.5 3.6-3 6-1.6 2-3.9 2-8 1.2-1.5 1.2-3 3.8-4.5 2-1.8 1.3-2.4 4.5-1.3 10.5-1 2.1-1.5 1.8-3 1.7-5.5 1.4-4 3-3 1.6-3.8 4.9-3.7 2-3 3.2-3.5 2.3-.9 1.5-1.1 4.8-1.5 2.2-2.7 1.5-5.8 .9-3 1.2-1.9 1.9-2.4 4.5-5.2 3-1.2 2-1 5-1.3 2.4-2 1.6-4.5 1.5-2 1.2-2.6 2.8-2.6 4-1.3 4-.8 11-1.2 3.1-2 2.7-2.5 1.9-3.5 1.2-11.5 .8-3.5 1.2-8.4 6.6-1.1 2-1.5 4.5-1 1.5-2.4 1.5-3.1 .5zM695.5 163l-8 .3-4.5-1.3-2-1.7-1.5-2.1-2.2-6.7-.7-7-.1-10.5 .3-7 .8-5.5 1.4-4.3 2-3.1 2.5-1.9 3-1 7.5-.1 4.5 1.5 2 1.9 1.5 2.3 2 6.7 .6 6.5 .1 11-1 11.5-1.2 4-2 3.4-2.4 2.1-2.6 1zM1037.5 160.5l-7-.1-4.1-1.9-1.7-2-1.4-2.5-1.9-7.5-.3-16 .4-5.5 1-4.8 1.5-3.6 2-2.7 2.5-1.7 3-.8 7 .3 2 .7 2 1.4 1.5 1.8 1.5 2.9 1.7 7 .3 16-.4 5.5-.9 4.5-1.4 3.5-1.8 2.7-2.5 1.9-3 .9zM789 198.1l-4.5 .4-6.5-.2-3.5-.9-2.6-1.4-2.4-2.5-2-3.8-1.3-4.7-.7-5.5-.2-13.5 .4-8.5 .9-5.5 3-12.5 1.9-16.2 1.5-4.3 2.5-3.8 3-2.2 4-1 4 .1 3 .7 2.5 1.4 2 2.1 1.6 2.7 1.4 4 1.9 12.5 1.1 1.3 3.5 1.8 1.5 1.4 1.1 2 .6 3 0 4.5-.7 2.9-1.5 2.4-3.1 2.7-.6 2 .8 2.5 3.9 5.3 1.3 3.7 .5 9-1 6.5-1.4 3-2.4 2.4-10 5-3.5 1.2zM696.5 237.1l-6.5 .4-5-.7-3.5-1.9-2.5-3.7-1.3-6.7 .5-10 2.1-5 1.7-1.8 2.1-1.2 5.4-1 7.5 .6 4 2.1 2.5 3.8 .8 3 .4 4-.1 6.5-.6 4-1 2.6-1.7 2.4-2.3 1.7-2.5 .9zM1125.5 235.5l-12.5 .3-8.5-.3-4.5-1-3-1.7-2.9-3.8-1.2-5 .3-8 .8-2.6 1.5-2.5 2.5-2.2 3-1.4 3.5-.6 7-.3 20 .6 4 1 3.4 2 2.6 3.4 1.1 4.1 0 7-1.2 4.5-2.3 3-3.1 2-4 1.1-6.5 .4zM769 496.6l-4.5-.5-3.7-2.6-2.2-3.5-.3-4.5 .9-3 1.8-3.4 8.7-10.1 4.6-8 1.7-1.5 2.5-1.3 8-.9 2-1.1 6-8.2 1.4-5.5 1.1-1.8 2-1.5 4.5-1.2 3-4.6 5.8-2.9 1.4-7 1.1-2 1.5-1.5 2.2-1.2 2.5-.6 10-.3 2.7-2.4 .9-6 1.7-2.5 2.2-.8 2.5-.2 2.5 .2 2 .8 1 1.2 .6 1.8-.1 5.5-.7 1.5-1.3 1.2-6 1.3-2.3 2.5-.5 1.5 .6 4.5-.2 5.5-.7 3-1.4 2.3-2 1.7-2.5 1-10 .7-3.3 2.8-3.2 1.6-.8 .9-1 4-1.3 2-1.9 1.3-4.5 1.8-6.5 6.4-.4 1.5 0 10-1 3-1.3 2-2.3 1.9-6.6 3.6-10.4 8.9-3.5 1.8-3 .9zM1102 492l-7 .2-7.5-.7-8 .9-7.5-.1-6-1.4-4.5-3.1-2.1-2.8-1.5-3.5-.9-4-.2-5 .3-7.5 .7-5.5 1.6-6 2-3 2.6-1.6 3.5-.8 5.5-.1 4 .9 12.5 5.9 3 3 4 6.4 2 .9 2-.9 1-1.3 1-8.9 1.3-3 1.2-1 2-.8 5.5 0 2.1 .8 1.6 1.5 1.7 6 1.1 1.5 1.5 .4 7.5 .2 4.5 .8 4 1.8 3.1 2.8 1.9 4.5 .2 6.5-1.4 4-3.3 3.5-4 2-4.5 1.2-15.5 1.3-6.5 3-4.5 1zM942 489.5l-8.5 0-12.6-2-7.3-2.5-5.1-3.5-2-2.5-1.2-2.5-.5-3 .1-5.5-2.4-6 .3-5.5 1.5-3 2.7-1.4 5-.2 2.5 .6 4.5 2.8 9 .2 11 1.6 8 2.5 3.5 1.8 2.5 2 2.7 3.6 1.1 4-.3 5.5-1.3 5-1.9 3-3 2.5-3.8 1.6-4.5 .9zM641.5 632.6l-6.5 .3-5-.4-3.5-1.3-2.3-2.2-1.7-4.5-.3-7.5 .6-5.5 1.7-3.5 2-1.7 3-1.3 3.5-.4 9-.2 3.5-1.7 2.3-3.2 .8-6.5 1.5-3.5 3.4-2.4 6-1 2-1.1 2.5-5.4 4.1-6.1 5.9-10.3 5.4-6.7 7.9-8 6.7-5.8 6.3-4.2 4.7-2.1 6.5-1.2 1.5-.9 4.4-5.8 7.2-7 2.2-6.5 2.8-4.5 4.2-4.5 3.7-3.2 4-2.3 4-1.1 3.5 .5 2.8 1.6 3.2 3.8 .9 4.2-1.4 5-3.3 5-4.4 4.5-3.8 3-3 1.6-6.5 2.3-7 7.3-6 4.3-.9 1.5-1.1 5.5-1.7 4-3 5-4.3 5.5-8.5 8.9-7 6.1-10.5 6.8-7.2 5.7-5.8 3-.8 1.5-1.1 6.5-2.1 3-3.5 1.7-7.5 .8-3.1 2-1.6 2-.8 2-.4 9.5-1.1 4.2-2.8 3.3-4.2 1.6zM1039 578.6l-7 .4-5-.7-4-2-2.8-3.3-1.5-5.5 .3-8.5 2-4.8 3.7-3.2 5.8-1.5 8.5 .3 2.5 .7 2.5 1.4 3 3.6 1.1 3 .5 4-.1 5-.9 4-1.2 2.5-1.9 2.1-2.5 1.5-3 1zM1119 580l-7 0-10-1-4.3-1.5-3.1-2.5-1.5-2.5-.9-2.5-.3-8 1.1-5 3-4 3-1.7 3.5-1 9.5-.9 6-.1 15.5 1.4 4 1.6 3 2.4 2.2 4.3 .6 5.5-.6 6-2.2 4.2-3 2.4-4 1.6-14.5 1.3z"/><path class="cw" d="M1086 172.5l-1-.1-1.5-1.3-.7-1.1-.1-1 .8-1.5 2-2 1.5-.8 1 .1 2.1 1.7 .4 1.6-2.1 2.9-2.4 1.5zM1011.5 247.6l-2.5-.3-2.2-2.3-.4-2 .7-2 2.8-3.5 5.2-5 2.9-1.7 2.5 .1 2.8 3.1 .1 1.5-.8 2-2.1 2.8-4.5 4.5-2.5 1.9-2 .9z" style="stroke:#f00;stroke-width:0.75px"/><path class="cw" d="M1172.5 87l-2.5 .3-2.2-1.8-.3-2.5 1.5-2 2.7-.5 1.3 .6 1 1.2 .2 2.7-1.7 2zM1155.5 104.1l-1.5 0-1.1-.6-.7-1.5 .2-1.5 2.1-2.6 1.5-.7 1.5 .1 1.5 1.3 0 2.4-1.4 2-2.1 1.1zM785 155.6l-1.5 .3-1.5-.5-4-3.9-2-5.2-1.1-6.3 .2-6.5 1.4-5.5 2.5-4 1.5-1.2 2-.6 2.9 .8 2.1 2.4 1.5 4.1 .7 5 .2 8.5-.6 6-.7 2.5-.8 .5-1.3 2.5-1.5 1.1zM1036 152.6l-2.5 .3-2.4-1.4-1.6-2.5-.7-3.5 .6-8-.3-6.5 .3-3 1.6-3.3 1.5-1.2 1.5-.5 2 .4 1.8 1.6 1.2 2.3 .5 2.7-.4 7 .6 9.5-1.2 3.7-2.5 2.4zM691 154.6l-2-.1-2-1.4-1.2-2.1-.6-3 .7-4 2.4-5-2.3-6.2-.2-4.3 1.6-3.5 2.6-1.4 2 .5 1.4 1.4 .9 2 .4 2.5-.5 3.5-2.1 5 2.8 6.5 .2 4-1.6 4-2.5 1.6zM1109 151.1l-2 .3-1.5-.3-1.1-2.1 .7-3.5 3.5-7.5-.2-2.5-2.4-6.5 .5-2.3 1-.5 1.5 0 6 2.3 2.5 .4 2-.6 7-3.4 2.5-.3 1.5 .7 .6 1.2-.1 2.5-3.6 7.5-.5 2 .4 2.5 2.2 5.5-.2 2.5-.8 .7-2 0-6-2.3-2.5-.3-9 4zM1076 156.6l-2 .4-1.5-.3-2.9-2.2-2.2-4-1.1-5.5 .2-5.8 1.6-5.2 2.5-3.5 1.5-1 1.9-.5 3 .9 2.5 2.6 1.8 4 .8 4.5-.1 5.1-1.2 4.9-2.3 3.8-2.5 1.8zM802 152.7l-2 .2-1.5-1-1.1-1.4-.8-2.5 0-2.5 .6-2 1.3-1.8 1.5-.8 1.5 .1 1.5 .9 1.7 3.6-.4 4.5-.8 1.5-1.5 1.2zM784 184.1l-2.5 .1-2.5-1.2-1.6-2-.8-2.5 0-2.5 .9-2.6 1.6-1.9 2.4-1.1 2.5 .1 2 1.1 1.6 1.9 .8 2.5 0 2.5-.8 2.5-1.6 2-2 1.1zM803 186.6l-1.5 .4-1.6-1-1.4-2.5-.6-3 0-3 .6-3 1.4-2.5 1.6-1 1.5 .4 1.1 1.1 1 2 .6 3-.4 5.5-.9 2-1.4 1.6zM1117 186l-8 .4-7-1.7-2.5-1.4-1.8-1.8-.9-2 .3-2 1.4-2 2.1-1.5 6.4-2.1 7.5-.3 7 1.7 2.5 1.3 1.9 1.9 .9 2-.3 2-1.4 2-2.1 1.5-6 2zM1064.5 192l-2.2-.5-.5-1 0-1.5 1.4-3.5 2.8-3.9 4-3.9 4-2.7 3-1 2.3 .5 .6 1.5-.4 2-1.4 3-2.1 3-6 5.5-3 1.8-2.5 .7zM1041.5 216.6l-2-.2-1.1-1.4 .3-2.5 1.9-3.5 2.8-3 3.1-2.2 3-1 2 .4 .7 1.3 0 1.5-2.3 4.5-4.1 4-4.3 2.1zM692.5 229.1l-2.5 .1-2.5-1.2-2-2.5-.9-3 .1-3.5 1.2-3 2.1-2.2 2.5-.9 2.5 .4 2 1.3 1.6 2.4 .8 3-.1 3-.8 2.5-1.5 2.1-2.5 1.5zM1125.5 226l-3.5-.1-6-2-6.5 2.1-4-.2-2-.8-1.6-1.5-.7-1.5 .1-2 1.8-2.5 3.4-1.3 3.5 .1 6 2 6.5-2.1 4.5 .3 3.4 2 .8 1.5 .2 1.5-.5 1.5-1.4 1.5-4 1.5zM983 276l-1.7 0-.9-1 .1-2 1-2 1.7-2 2.3-1.7 2-.6 1.5 .3 .7 2-1.2 2.9-2.5 2.6-3 1.5zM960 298l-2 .4-1.1-.4-.8-1.5 .4-2 1.3-2 1.7-1.5 2-.8 1.5 .1 1.2 1.2-.2 2.5-1.8 2.5-2.2 1.5zM934 328l-3.9-1-2.2-2.5-.7-4 1.2-4 2.6-3.6 4-2.9 4-1.2 4 .7 2 1.6 1.2 2.4 .2 3-1.1 3.5-1.9 3-2.9 2.7-3.5 1.8-3 .5zM907 351.1l-2 0-1.6-1.1-.6-2 .7-2.5 1.5-2.1 2-1.6 2.5-.8 2 .4 1 .9 .4 1.2-.5 3-2.3 3-3.1 1.6zM839 417.6l-1.5-.1-.7-1.5 .3-2 1.3-2.5 4.1-4.2 2-.9 1.6 .1 .7 1 0 1-1.3 3.5-3 3.6-3.5 2zM826 434.1l-3 .1-1.5-.9-.9-1.3 0-3 1.9-2.1 3-.4 1.5 .9 1 1.3 .4 1.8-.3 1.5-2.1 2.1zM800 453.1l-2 .1-.6-1.2 1.1-2.8 2.5-3.5 3.2-3.2 3.3-2.5 3-1.3 1.4 .3 .3 1-.6 2-3.1 4.4-4.5 4.3-4 2.4zM1110 456.7l-1.5 0-1.1-2.7 .2-3 1.4-2 1.5 .8 .7 2.2-.2 3-1 1.7zM911 462.5l-4 0-1.9-1-1.4-1.5-.5-1.5 .1-2 .8-1.5 1.4-1.2 2.5-.9 2.5 0 2.5 1.1 1.4 1.5 .7 2-.4 2-1.6 2-2.1 1zM1080.5 478.5l-5.5 .3-4.5-1.7-1.5-1.4-.9-1.7 0-2 .7-1.5 2.7-2.2 4-1.2 4.5 .2 3.5 1.5 2 2.2 .4 3-1.9 2.8-3.5 1.7zM1111 478.5l-5.5-.3-4.4-1.7-2.2-2.5-.1-1.5 .7-1.5 1.6-1.5 2.4-1.2 3.5-.7 3.5-.1 17 1.2 3.5 1.4 1.8 2.4-.2 1.5-1.1 1.5-3.5 1.7-17 1.3zM784 477.7l-2 .3-2-.5-1.5-1.1-1-1.7-.3-1.7 .4-2 1-1.5 1.9-1.2 2-.3 2 .6 1.5 1.2 1 1.7 .2 2-.4 1.5-1 1.5-1.8 1.2zM938.5 479l-4.5 .3-2.4-.8-1.6-1.2-1-1.5-.4-1.8 .5-2 1.1-1.5 2.3-1.4 3-.6 3 .5 2.5 1.5 1.3 2 .2 2.5-1.5 2.5-2.5 1.5zM741.5 519.1l-3.5-.7-2-2.2 .2-2.7 2.4-2 2.4-.4 2 .4 1.6 1 1 1.5 .2 1.5-.8 1.8-1.5 1.2-2 .6zM685.5 571.5l-1.7 0-.6-1 1.3-4 3.5-5 6.3-7 3.7-5.4 2-1.7 3-1.2 3-.2 2 .8 .9 1.7 0 3-.9 3-1.3 2-6.7 4.4-9 7.6-5.5 3zM1107.5 569.5l-2.5-.2-2-.7-2.4-2.6-.3-2 .5-1.5 1.4-1.5 1.8-1 2.5-.5 2.5 .2 6.5 2.9 6.5-2.7 4.5-.3 4 1.4 1.9 2.5 0 2-.8 1.5-2 1.5-2.1 .7-5 0-7-2.8-5 2.4-3 .7zM1035.5 569.2l-2 .3-2-.4-1.8-1.1-1.1-1.5-.5-1.5 .3-2 1.1-1.8 1.5-1.1 2-.6 2.5 .3 2 1.2 1.1 1.5 .5 2-.5 2-1.1 1.5-2 1.2zM660 600.6l-3-.3-1.4-1.3-.6-1.3 .5-3 1-1.1 1.5-.7 3 .5 1.2 1.1 .6 1.5 0 1.5-.6 1.5-2.2 1.6zM638.5 622.6l-1.5 .3-2-.4-1.5-1-.9-1.5-.3-2 .4-1.5 2.3-2.2 1.5-.4 2 .3 1.5 1 .9 1.3 .4 1.5-.3 2-1 1.6-1.5 1z"/><path class="ct" d="M1172.5 87l-2.5 .3-2.2-1.8-.3-2.5 1.5-2 2.7-.5 1.3 .6 1 1.2 .2 2.7-1.7 2zM1155.5 104.1l-1.5 0-1.1-.6-.7-1.5 .2-1.5 2.1-2.6 1.5-.7 1.5 .1 1.5 1.3 0 2.4-1.4 2-2.1 1.1zM785 155.6l-1.5 .3-1.5-.5-4-3.9-2-5.2-1.1-6.3 .2-6.5 1.4-5.5 2.5-4 1.5-1.2 2-.6 2.9 .8 2.1 2.4 1.5 4.1 .7 5 .2 8.5-.6 6-.7 2.5-.8 .5-1.3 2.5-1.5 1.1zM1036 152.6l-2.5 .3-2.4-1.4-1.6-2.5-.7-3.5 .6-8-.3-6.5 .3-3 1.6-3.3 1.5-1.2 1.5-.5 2 .4 1.8 1.6 1.2 2.3 .5 2.7-.4 7 .6 9.5-1.2 3.7-2.5 2.4zM691 154.6l-2-.1-2-1.4-1.2-2.1-.6-3 .7-4 2.4-5-2.3-6.2-.2-4.3 1.6-3.5 2.6-1.4 2 .5 1.4 1.4 .9 2 .4 2.5-.5 3.5-2.1 5 2.8 6.5 .2 4-1.6 4-2.5 1.6zM1109 151.1l-2 .3-1.5-.3-1.1-2.1 .7-3.5 3.5-7.5-.2-2.5-2.4-6.5 .5-2.3 1-.5 1.5 0 6 2.3 2.5 .4 2-.6 7-3.4 2.5-.3 1.5 .7 .6 1.2-.1 2.5-3.6 7.5-.5 2 .4 2.5 2.2 5.5-.2 2.5-.8 .7-2 0-6-2.3-2.5-.3-9 4zM1076 156.6l-2 .4-1.5-.3-2.9-2.2-2.2-4-1.1-5.5 .2-5.8 1.6-5.2 2.5-3.5 1.5-1 1.9-.5 3 .9 2.5 2.6 1.8 4 .8 4.5-.1 5.1-1.2 4.9-2.3 3.8-2.5 1.8zM802 152.7l-2 .2-1.5-1-1.1-1.4-.8-2.5 0-2.5 .6-2 1.3-1.8 1.5-.8 1.5 .1 1.5 .9 1.7 3.6-.4 4.5-.8 1.5-1.5 1.2zM784 184.1l-2.5 .1-2.5-1.2-1.6-2-.8-2.5 0-2.5 .9-2.6 1.6-1.9 2.4-1.1 2.5 .1 2 1.1 1.6 1.9 .8 2.5 0 2.5-.8 2.5-1.6 2-2 1.1zM803 186.6l-1.5 .4-1.6-1-1.4-2.5-.6-3 0-3 .6-3 1.4-2.5 1.6-1 1.5 .4 1.1 1.1 1 2 .6 3-.4 5.5-.9 2-1.4 1.6zM1117 186l-8 .4-7-1.7-2.5-1.4-1.8-1.8-.9-2 .3-2 1.4-2 2.1-1.5 6.4-2.1 7.5-.3 7 1.7 2.5 1.3 1.9 1.9 .9 2-.3 2-1.4 2-2.1 1.5-6 2zM1064.5 192l-2.2-.5-.5-1 0-1.5 1.4-3.5 2.8-3.9 4-3.9 4-2.7 3-1 2.3 .5 .6 1.5-.4 2-1.4 3-2.1 3-6 5.5-3 1.8-2.5 .7zM1041.5 216.6l-2-.2-1.1-1.4 .3-2.5 1.9-3.5 2.8-3 3.1-2.2 3-1 2 .4 .7 1.3 0 1.5-2.3 4.5-4.1 4-4.3 2.1zM692.5 229.1l-2.5 .1-2.5-1.2-2-2.5-.9-3 .1-3.5 1.2-3 2.1-2.2 2.5-.9 2.5 .4 2 1.3 1.6 2.4 .8 3-.1 3-.8 2.5-1.5 2.1-2.5 1.5zM1125.5 226l-3.5-.1-6-2-6.5 2.1-4-.2-2-.8-1.6-1.5-.7-1.5 .1-2 1.8-2.5 3.4-1.3 3.5 .1 6 2 6.5-2.1 4.5 .3 3.4 2 .8 1.5 .2 1.5-.5 1.5-1.4 1.5-4 1.5zM983 276l-1.7 0-.9-1 .1-2 1-2 1.7-2 2.3-1.7 2-.6 1.5 .3 .7 2-1.2 2.9-2.5 2.6-3 1.5zM960 298l-2 .4-1.1-.4-.8-1.5 .4-2 1.3-2 1.7-1.5 2-.8 1.5 .1 1.2 1.2-.2 2.5-1.8 2.5-2.2 1.5zM934 328l-3.9-1-2.2-2.5-.7-4 1.2-4 2.6-3.6 4-2.9 4-1.2 4 .7 2 1.6 1.2 2.4 .2 3-1.1 3.5-1.9 3-2.9 2.7-3.5 1.8-3 .5zM907 351.1l-2 0-1.6-1.1-.6-2 .7-2.5 1.5-2.1 2-1.6 2.5-.8 2 .4 1 .9 .4 1.2-.5 3-2.3 3-3.1 1.6zM839 417.6l-1.5-.1-.7-1.5 .3-2 1.3-2.5 4.1-4.2 2-.9 1.6 .1 .7 1 0 1-1.3 3.5-3 3.6-3.5 2zM826 434.1l-3 .1-1.5-.9-.9-1.3 0-3 1.9-2.1 3-.4 1.5 .9 1 1.3 .4 1.8-.3 1.5-2.1 2.1zM800 453.1l-2 .1-.6-1.2 1.1-2.8 2.5-3.5 3.2-3.2 3.3-2.5 3-1.3 1.4 .3 .3 1-.6 2-3.1 4.4-4.5 4.3-4 2.4zM1110 456.7l-1.5 0-1.1-2.7 .2-3 1.4-2 1.5 .8 .7 2.2-.2 3-1 1.7zM911 462.5l-4 0-1.9-1-1.4-1.5-.5-1.5 .1-2 .8-1.5 1.4-1.2 2.5-.9 2.5 0 2.5 1.1 1.4 1.5 .7 2-.4 2-1.6 2-2.1 1zM1080.5 478.5l-5.5 .3-4.5-1.7-1.5-1.4-.9-1.7 0-2 .7-1.5 2.7-2.2 4-1.2 4.5 .2 3.5 1.5 2 2.2 .4 3-1.9 2.8-3.5 1.7zM1111 478.5l-5.5-.3-4.4-1.7-2.2-2.5-.1-1.5 .7-1.5 1.6-1.5 2.4-1.2 3.5-.7 3.5-.1 17 1.2 3.5 1.4 1.8 2.4-.2 1.5-1.1 1.5-3.5 1.7-17 1.3zM784 477.7l-2 .3-2-.5-1.5-1.1-1-1.7-.3-1.7 .4-2 1-1.5 1.9-1.2 2-.3 2 .6 1.5 1.2 1 1.7 .2 2-.4 1.5-1 1.5-1.8 1.2zM938.5 479l-4.5 .3-2.4-.8-1.6-1.2-1-1.5-.4-1.8 .5-2 1.1-1.5 2.3-1.4 3-.6 3 .5 2.5 1.5 1.3 2 .2 2.5-1.5 2.5-2.5 1.5zM741.5 519.1l-3.5-.7-2-2.2 .2-2.7 2.4-2 2.4-.4 2 .4 1.6 1 1 1.5 .2 1.5-.8 1.8-1.5 1.2-2 .6zM685.5 571.5l-1.7 0-.6-1 1.3-4 3.5-5 6.3-7 3.7-5.4 2-1.7 3-1.2 3-.2 2 .8 .9 1.7 0 3-.9 3-1.3 2-6.7 4.4-9 7.6-5.5 3zM1107.5 569.5l-2.5-.2-2-.7-2.4-2.6-.3-2 .5-1.5 1.4-1.5 1.8-1 2.5-.5 2.5 .2 6.5 2.9 6.5-2.7 4.5-.3 4 1.4 1.9 2.5 0 2-.8 1.5-2 1.5-2.1 .7-5 0-7-2.8-5 2.4-3 .7zM1035.5 569.2l-2 .3-2-.4-1.8-1.1-1.1-1.5-.5-1.5 .3-2 1.1-1.8 1.5-1.1 2-.6 2.5 .3 2 1.2 1.1 1.5 .5 2-.5 2-1.1 1.5-2 1.2zM660 600.6l-3-.3-1.4-1.3-.6-1.3 .5-3 1-1.1 1.5-.7 3 .5 1.2 1.1 .6 1.5 0 1.5-.6 1.5-2.2 1.6zM638.5 622.6l-1.5 .3-2-.4-1.5-1-.9-1.5-.3-2 .4-1.5 2.3-2.2 1.5-.4 2 .3 1.5 1 .9 1.3 .4 1.5-.3 2-1 1.6-1.5 1zM1172 86.6l-2.3-.1-1.4-1.5 .1-2.5 1.6-1.3 2 .1 1.6 1.7 0 2-1.6 1.6zM1155.5 103.5l-2.1-.5-.5-1 .1-1.5 2-2.3 2.5-.2 1 1.2-.1 1.8-1 1.5-1.9 1zM1034.5 151.6l-2-.6-1.5-1.5-1-2.3-.3-2.7 .8-7-.6-6 .3-3 1.8-3.3 2.5-.9 2.5 1.3 1.5 3.4-.4 8.5 .8 7-.4 3-.9 2-1.5 1.5-1.6 .6zM690.5 136.5l-1-.1-1.5-1.4-1-2-.5-2.5 1-4 1-1.1 1.5-.6 1.5 .3 1.1 .9 .9 1.7 .4 2.3-.9 4-1 1.5-1.5 1zM784.5 154.2l-2.5-.3-2.9-2.4-2.1-4.6-1.1-5.9 0-5.5 1.1-5 2-3.5 1.5-1.4 1.5-.5 2.5 .6 2 2.3 1.5 4.3 .8 5.7 .2 6.5-.8 5-.7 2-3 2.7zM1108.5 150l-2-.5-.7-1.5 .5-3 3-7-.2-2.5-1.9-5.5 .3-2 1-.6 1.5 .1 5 1.7 2.5 .3 2-.4 6.5-2.9 2-.2 1.1 .5 .7 1.5-.2 2-2.7 6-.6 2.5 2.1 7.5-.4 2.1-2 .5-5.5-1.8-2.5-.3-9.5 3.5zM1075.5 155.6l-3-.2-2.5-1.9-2.1-4-1-5 .3-5 1.3-4.5 2.5-3.5 3-1.3 2.5 .7 2.5 2.4 1.7 3.7 .8 4.5-.3 5-1.2 4.3-2 3.1-2.5 1.7zM691.5 153.2l-2 .2-1.5-.8-1.2-1.6-.7-2.5 .2-2.5 .7-2.2 1.5-2 1.5-.8 1 .2 1.5 1.3 1.7 4-.4 4-.9 1.5-1.4 1.2zM801.5 151.2l-1.5 0-1-.7-1.2-3 .7-3.5 2-1.4 2 .8 1.1 2.6-.2 3-.9 1.5-1 .7zM784 183.1l-2 .2-2-.7-1.5-1.4-1-2.2-.2-2.5 .7-2.3 1.5-1.9 2-1 2 0 2 1 1.4 1.7 .7 2 0 2.5-.6 1.9-1.2 1.6-1.8 1.1zM1116 185.5l-7 .2-6.6-1.7-2.4-1.5-1.3-1.5-.6-1.5 .3-2 1.1-1.5 2-1.5 6-2 7.5-.2 6.2 1.7 2.4 1.5 1.3 1.5 .6 1.5-.3 2-1.1 1.5-2.1 1.6-6 1.9zM802.5 184.6l-1 .1-1.1-.7-.9-1.5-.5-2.5 .5-4.5 1-1.6 1-.6 1 .1 1 1 1.1 3.6-.4 4-.7 1.6-1 1zM1065.5 191l-2-.2-.8-1.8 .9-3 2.7-4 3.5-3.5 3.7-2.6 3-1 2 .6 .4 1.5-.4 2-3.2 5-4.8 4.6-5 2.4zM1042.5 215.6l-2 0-1.1-1.1 0-2 1.5-3 2.2-2.5 2.9-2.2 2.5-1 2.1 .2 .7 1-.1 1.5-1.6 3.5-3.4 3.5-3.7 2.1zM692.5 227.6l-2 .2-2.1-.8-1.8-2-.8-2.5 0-3 1-2.5 1.7-1.9 2-.7 2 .2 2 1.4 1 1.5 .8 2.5-.1 2.5-.7 2.2-1.3 1.8-1.7 1.1zM1109.5 225l-3.5 0-2.7-1.5-1-2.5 1.2-2.5 2.5-1.3 3-.1 3 1 2.9 2.4 .2 1-1.5 1.5-4.1 2zM1126 225l-2.5 .2-2.7-.7-3.1-2-1.1-1.5 1.9-2 3-1.6 2.5-.4 3.2 .5 2.3 1.7 .6 2.3-1.1 2.1-3 1.4zM984 275l-1.5 .3-1.2-.8-.1-1.5 .6-1.5 3.2-3.2 1.5-.7 1.5 0 .9 1.4-.6 2-1.8 2.4-2.5 1.6zM959.5 297.6l-1.5 0-.9-.6-.3-1 .3-1.5 2.4-2.8 1.5-.7 1.5 0 1.1 1.5-.5 2-1.6 1.9-2 1.2zM935.5 327.1l-3.5-.2-2.8-1.9-1.1-3 .5-4 2.3-4 3.6-3 4-1.3 3.5 .4 2 1.3 1.2 2.1 .4 2.5-.6 3-1.7 3-2.3 2.5-2.5 1.6-3 1zM907.5 350.1l-2 .1-1.2-.7-.6-1.5 .4-2 1.3-2 1.6-1.3 2-.8 1.5 .2 1.4 1.4-.1 2.5-1.7 2.5-2.6 1.6zM839.5 416.6l-1.2-.1-.6-1 .3-1.9 1-2 3.5-3.5 1.5-.7 1.3 .1 .6 1 0 1-1.4 3-2.5 2.7-2.5 1.4zM825.5 433.5l-2.5-.1-1.8-1.9 .2-2.5 1.6-1.6 2.5-.1 1.9 1.7 .1 2.5-.6 1-1.4 1zM800 452l-1.2-.5 .2-1.5 2.9-4.5 5.1-4.4 2-1 1.5 0 .4 .9-.5 1.5-2.7 4-4.2 3.8-3.5 1.7zM1110 455.5l-1 .3-1-1.8 0-2.2 1-1.6 1 .3 .6 1.5 0 2-.6 1.5zM911 461.6l-3.5 .1-2.5-1.6-.8-2.6 1.3-2.5 1.7-1 2.3-.3 2 .5 1.7 1.3 .7 1.5-.1 2-1 1.5-1.8 1.1zM1079 478l-4.5-.1-3.5-1.6-1.2-1.3-.6-1.5 .1-1.5 .8-1.5 2.9-2 3.5-.7 4 .5 2.9 1.7 1.3 2-.2 2.5-2 2.2-3.5 1.3zM1113.5 477.6l-5.5 .2-4.5-1-2.9-2.3-.3-2.5 1.2-1.6 2.5-1.4 6-.9 16.5 1.2 3.3 1.2 1.6 2 0 1-.9 1.4-3 1.6-14 1.1zM783 477l-3-.5-1.4-1.5-.5-1.5 .1-1.5 .7-1.5 2.6-1.5 3 .6 1.7 2.4-.4 3-1.3 1.4-1.5 .6zM936 478.5l-2-.2-2-.8-2-2.5 0-2 .8-1.5 3.2-1.8 2.5-.2 2 .6 1.9 1.4 .8 1.5 0 2-.8 1.5-1.9 1.4-2.5 .6zM742.5 518.1l-2.5 .2-2.5-1.2-.8-2.1 .9-2 1.4-.8 2-.4 3 1.2 .8 1.5-.1 1.5-.7 1.1-1.5 1zM686.5 570.1l-1.3-.1-.5-1 1.2-3.5 2.9-4 5.7-6.5 4-5.6 2-1.6 2.5-.9 2.5-.2 1.8 .8 .8 1.5 .1 2.5-.6 2.5-1.3 2-6.8 4.6-8 6.8-5 2.7zM1034.5 568.5l-3.3-.5-1.2-1-.8-1.5-.1-1.5 .6-1.5 1.3-1.4 1.5-.6 2 0 1.5 .5 1.2 1 .8 1.5 .1 1.5-.6 1.6-1.5 1.4-1.5 .5zM1108 568.6l-3.5-.4-2.4-1.7-.6-2.5 1.7-2.5 2.3-1 2.5-.1 3 1.1 1.7 1.5 .6 1.5-.6 1.5-1.7 1.5-3 1.1zM1126.5 568.5l-3 0-3-1.1-2.1-1.9 0-2 2.2-2 2.9-1 3 0 2.8 1 1.8 2 0 2-1.8 2-2.8 1zM659.5 600l-2.5-.5-1.3-2 .5-2.5 1-1 1.3-.5 2.5 .8 1.2 2.2-.7 2.3-2 1.2zM637.5 622l-2.7-.5-1-1-.6-1.5 .4-2.5 .9-1 1.5-.7 2.5 .3 1.1 .9 .8 1.5 0 1.5-.6 1.5-2.3 1.5zM1172 85.6l-1.5 .3-1.3-.9-.3-1.5 1.1-1.5 1.5-.1 1.3 1.1 .1 1.5-.9 1.1zM1156 102.6l-1.8-.1-.6-1.5 .9-1.6 2-.8 1 .6 .2 1.3-.7 1.4-1 .7zM1035 149.6l-1.5 0-1-.7-1-1.4-.6-2.5 1-7.5-.9-5.5 .1-2.5 1-2.5 1.9-1.2 1.5 .3 1 .9 1.1 3.5-.9 7 .9 8-.8 2.5-1.8 1.6zM691 134.2l-1 .2-1-.5-1.4-2.9 .4-3.1 1-1.2 1-.4 1 .1 1 .9 .8 2.2-.3 2.8-1.5 1.9zM1111.5 148l-2.5 .4-1-.4-.6-1 .1-2 2.4-7-1.4-7 .5-1.9 2-.3 4.5 1.2 2.5 .1 7-2.4 2.6 .3 .6 1 0 1.5-2.5 7.5 1.4 7-.2 1.5-.9 .7-1 .1-5-1.3-2.5-.1-6 2.1zM783.5 152.5l-3.1-1-1.3-2-1.6-4.2-.7-4.8 .1-4.5 1.1-4 2-2.9 2-.9 2 .7 2 2.7 1.3 4.4 .7 5-.1 5-.9 3.8-.9 1.7-2.6 1zM1076 154l-1.5 .5-1.5-.2-2.5-1.8-1.9-3.5-.8-4 .1-5 1.1-4 2-3 1.5-1.1 1.5-.4 2.5 .8 2 2 1.4 3.2 .7 3.5 0 4-.8 4-1.8 3.3-2 1.7zM691 151.7l-1.5 0-1-.6-1.2-2.6 .6-3.5 1.1-1.4 1-.4 2 1 1.1 2.3-.2 3-.9 1.5-1 .7zM801 148.3l-1.1-.8 0-1 .6-.9 .5 0 .6 .9 0 1-.6 .8zM783.5 182.2l-2 0-1.5-.8-1.1-1.4-.6-2 .1-2 .6-1.6 1.3-1.4 1.7-.7 1.5 .1 1.5 .8 1.1 1.3 .6 2-.6 3.5-1.1 1.4-1.5 .8zM1114 185l-6.5-.3-5-1.7-2.6-2.5-.4-1.5 .4-1.5 1.2-1.5 2.4-1.5 3-1 4-.6 4 .1 3.5 .7 3.1 1.3 1.9 1.5 .9 1.5 .1 1.5-1.5 2.5-3.6 2-4.9 1zM1066 190l-1.9-.5-.3-1.5 .8-2.5 2.4-3.5 3-3 3-2.1 2.5-.9 2 .5 .3 1-.3 2-2.9 4.5-4.3 4-4.3 2zM802 180.5l-.5-.1-.5-1.4 .5-1.4 .5-.1 .6 1.5-.6 1.5zM1043 214.5l-1.9 0-.7-1 .1-1.5 1.3-2.5 1.7-2 2.5-1.9 2-.8 1.6 .2 .6 1 0 1-1.4 3-2.8 2.9-3 1.6zM692.5 225.6l-1.5 .4-1.5-.4-1.5-1.5-.7-1.6-.1-2 .6-2 1.2-1.5 1.5-.7 2.6 .7 .9 1.1 .7 1.9-.2 3.1-2 2.5zM1108.5 224.1l-2.5-.3-1.8-1.3-.4-2 1.2-1.6 1.5-.7 2-.1 2 .7 1.3 1.2 .3 1.5-.5 1-1.3 1-1.8 .6zM1125 224l-2.5-.2-2.2-1.3-.6-1.5 .8-1.5 1.7-1 1.8-.4 2.4 .4 1.5 1 .6 1.5-.5 1.5-1.2 1-1.8 .5zM984 274.1l-1 .1-.7-.7 .7-2.5 2.5-2.1 2 0 .3 1.1-.8 1.8-3 2.3zM960 296.5l-1.7 0-.5-1 .2-1 1.6-2 1.4-.6 1 .1 .6 1-.1 1-1 1.5-1.5 1zM936 326.1l-3.5-.1-2.3-1.5-1.2-3 .4-3.5 2.1-3.5 3-2.6 3.5-1.3 3.5 .3 1.6 1.1 1.3 2 .3 2.5-.6 2.5-1.4 2.5-1.8 2-2.4 1.7-2.5 .9zM907.5 349l-1.5 0-.7-.5-.4-1 .3-1.5 2.3-2.5 2.5-.2 .9 1.2-.4 2-1.2 1.5-1.8 1zM840.5 415.2l-1 .1-.7-.8 .8-2.5 2.9-2.9 2-.2 .3 1.1-.8 2-1.7 2-1.8 1.2zM825.5 432.5l-2 .1-1.3-1.1-.2-1.5 1-1.5 1.5-.5 1.8 1 .4 2-1.2 1.5zM802 450.2l-1 .1-.6-.8 2-3.5 4.1-3.6 1.5-.7 1 .2-.2 1.6-1.6 2.5-2.7 2.6-2.5 1.6zM1109.5 453.6l-.6-.6 .6-.6 0 1.2zM910.5 460.5l-2.5 .1-2-1.4-.4-1.7 1.3-2 2.6-.6 2.5 1.2 .5 .9 0 1.5-.5 1-1.5 1zM1079 477.1l-4 0-3-1.4-1.4-2.2 .7-2.5 2.2-1.6 3-.7 3 .4 2.5 1.2 1.2 1.7 0 2-1.6 2-2.6 1.1zM1110.5 477l-4-.2-3.2-1.3-1.6-2 .5-2 3.3-2 4.5-.5 7.5 .9 8 .2 2.7 .9 1.4 1.5 0 1-.7 1-2.9 1.3-8.5 .3-7 .9zM783.5 475.7l-2.5 0-1.5-1.5-.1-2.2 1.6-1.7 2.5 0 1.5 1.7 0 2-1.5 1.7zM937 477.1l-2.5 0-2.2-1.1-.8-2 1-2.1 1.5-.9 2-.2 1.5 .3 1.5 1.1 .7 1.3-.2 1.5-1 1.3-1.5 .8zM742.5 517l-2 .5-1.5-.5-1.1-1.5 .3-1.5 2.3-1.2 2.5 .7 .7 2-1.2 1.5zM688.5 568.1l-1.5 .1-.5-.6 1-3.1 11.3-14.5 1.9-1.5 2.3-.9 2-.1 1.5 .6 .9 1.4 .1 2-.5 2-1.2 2-6.8 4.7-6.8 5.8-3.7 2.1zM1107 567.5l-3-1-1-2 1-2 2.5-1 2 .2 1.5 .8 1.2 2-1.2 2-3 1zM1035 567.2l-2.5 .1-1.7-1.3-.4-2 1.5-2 2.6-.3 1.9 1.3 .3 2.5-1.7 1.7zM1127 567.2l-2.5 .2-2.5-.7-1.6-1.7 .3-1.5 1-1 1.8-.8 2.5-.1 2 .7 1.3 1.2 .2 1.5-1 1.4-1.5 .8zM659.5 599.1l-1.5-.1-1.4-1.5 .3-2 1.6-1 1.9 .5 .8 1.5-.3 1.5-1.4 1.1zM637 621.1l-2-.7-.9-1.9 .8-2 1.6-.7 2 .6 .9 1.6-.5 2-1.9 1.1zM1171 84.4l-.6-.4 .1-.5 .7 0 .2 .5-.4 .4zM1156 101.1l-.8-.1 .3-.7 .7 .2-.2 .6zM1034.5 134.1l-1.1-.6-.7-2.5 .5-2 1.3-.7 1 .8 .4 1.9-.4 2-1 1.1zM690.5 131.3l-.5 .1-.6-.9 .6-1.4 1 .9-.5 1.3zM1111.5 146.6l-1.5-.2-.8-1.4 1.5-6.5-.8-6.5 .5-1.5 1.6-.4 6 .8 6-1.5 2 .5 .4 1.6-1.5 6 .8 6.5-.6 1.5-1.6 .4-6.5-.7-5.5 1.4zM784 151l-1.6 0-1.9-1.6-1.5-2.9-1-4-.1-4 .6-3.1 1.5-2.8 1.5-1 1.5 .3 1.6 1.6 1.4 3 .7 3.5 .2 4-.4 3.2-1 2.5-1.5 1.3zM1075.5 152.7l-2.5 0-2-1.5-1.5-2.7-.9-4 .1-4 1.2-4 1.9-2.5 2.2-1 2 .5 1.9 2 1.2 2.5 .7 3.5 0 3.5-.9 3.5-1.4 2.6-2 1.6zM1034.5 146.6l-1-.4-.5-1.7 .5-2.1 1-.6 .9 1.2 .2 1.5-.4 1.5-.7 .6zM690.5 148.7l-.5 .1-.6-.8 .6-1.5 .5 0 .5 1-.5 1.2zM783.5 180.7l-2.5-.3-1.5-2.3 .5-2.9 2-1.5 1.5 .2 .9 .6 1.1 2-.3 2.5-1.7 1.7zM1115.5 184l-5.5 .3-5.3-1.3-1.7-1-1.4-1.5-.3-2.5 2.4-2.5 4.4-1.5 5.4-.3 5.4 1.3 3.1 2.4 .4 1.1-.1 1.5-2.4 2.5-4.4 1.5zM1067.5 188.6l-2-.1-.5-1 .5-2 1.5-2.5 5-4.6 2.5-1.1 1.6 .2 .4 2-2 3.6-3.5 3.6-3.5 1.9zM1044 213l-1.5 .2-.7-.7 .7-2.6 3-3 2-.8 1 .3 .4 1.1-.9 2.1-2 2.2-2 1.2zM691.5 222.2l-1 0-.5-.7 .5-1.6 1 0 .4 .6 .1 1-.5 .7zM1108 222l-1.4-.5 .1-1 .8-.3 1.3 .3 .2 1-1 .5zM1125 221.7l-1 .3-1-1 1-.7 1 .1 .5 .6-.5 .7zM985 272l-.7 0 .1-.5 1.1-.8 0 .8-.5 .5zM960.5 294.6l-.5 .3-.4-.4 .9-.8 .3 .3-.3 .6zM936 325.1l-3-.1-2.1-1.5-.9-2.5 .4-3 1.8-3 2.8-2.3 3-1.1 3 .4 1.5 1 1 2 .1 2-.5 2-1.1 2-1.8 2-4.2 2.1zM908 346.8l-.5 .1-.3-.9 1.3-.6 .2 .6-.7 .8zM841.5 412.8l-.5-.3 .3-.5 1.2-.8-1 1.6zM824.5 431.1l-.8-.6 .3-.6 .9 .1 .2 .5-.6 .6zM804 447.1l-.2-.6 .7-.8 1.5-.7-2 2.1zM909.5 458.5l-1-.1-.3-.4 .3-.8 .5-.2 1 .5-.5 1zM1078 476l-2.5-.1-2-.9-1.1-1.5 .6-2 1.5-1.1 2-.5 2 .2 2 .9 1.1 1.5-.2 1.5-1.4 1.3-2 .7zM1113 475.6l-3.5 .4-3.3-.5-1.8-1-.7-1 0-1 .8-1.1 1.5-.8 4-.6 7.5 1.3 7 .1 1.8 .6 .7 1-.7 1-1.8 .6-6.5 0-5 1zM782.5 473.7l-1-.4 .5-1 1 .7-.5 .7zM936.5 474.5l-1 .4-1-.9 .5-.7 1-.1 .5 .3 0 1zM741 515.7l-1-.7 .5-.5 1.1 .5-.6 .7zM691 565.5l-2 .3 .4-2.3 9.6-12.6 1.5-1.4 2-.9 2-.2 1.3 .6 .7 1.2 .1 1.8-1.4 3-6.2 4.2-8 6.3zM1034 565.2l-1.1-.2 .1-1.1 1.2 .1 .3 .5-.5 .7zM1108 565l-1.5 .4-.6-.4 0-1 1.6-.3 .5 .3 0 1zM1126 565l-1.5 .2-.6-.7 .6-.7 1 0 .8 .7-.3 .5zM659.5 597l-1 .2-.1-.7 .6-.3 .5 .8zM637 619.1l-.9-.6 .4-.7 .9 .2 .1 .5-.5 .6zM1122.5 144.5l-9.5 .1-1.4-.6-.4-1.5 .1-9 .5-1.5 1.7-.6 9 0 1.5 .6 .4 1.5-.1 9.5-.5 1-1.3 .5zM1075 151.1l-2-.2-1.5-1.2-1.4-2.7-.5-3 .1-3 .8-3 1.5-2.2 2-1 1.5 .3 1.5 1.4 1.3 2.5 .5 3-.1 3-.7 2.8-1.4 2.2-1.6 1.1zM784 148l-1 .4-1.5-.7-1.1-1.7-.8-2.5 0-5 .8-2 1.1-1 1 0 1 .7 1.6 3.8 .2 5-1.3 3zM1115 183.1l-4.5 .2-4.5-1-2.4-1.8-.5-1 .2-1.5 2.1-2 3.6-1.2 4.5-.1 4 1 2.5 1.8 .5 2-1.5 2-4 1.6zM783 178.1l-1.1-.1 .1-1.5 1 0 0 1.6zM1068.5 187l-1 .2-.8-.7 .2-1.5 1.2-2 3.8-3.5 1.6-.6 1.1 .1 .3 1.5-1.4 2.5-2.5 2.6-2.5 1.4zM1045 210.6l-.6-.1 0-.5 1.6-1.2 .1 .7-1.1 1.1zM935.5 324l-2-.3-1.6-1.2-.7-2 .4-2.5 1.4-2.4 2-1.7 2.5-1 2.5 .1 1.5 1 .8 1.5-.4 3.5-2.7 3.5-3.7 1.5zM1111 474l-3 0-1-1 1.5-1.1 2.7 .1 1.2 1-1.4 1zM1078 473.5l-1.5 .2-.7-.7 .7-.7 1 0 .7 .7-.2 .5zM693.5 561.7l-.4-.2 .4-1 6.5-9.4 2.5-1.5 2.3 .4 .7 2-1.5 2.9-10.5 6.8zM1122 143.1l-5.5 .2-3-.8-.8-1.5-.3-2.5 0-3.5 .6-1.7 1-.6 2-.1 4.5 .3 1.6 .6 .9 2 .2 4.5-.2 2-1 1.1zM1075 148.7l-1.5 .1-1.1-.8-.9-1.5-.6-2.5 .6-4.5 1-1.6 1.5-.8 1.4 .4 1 1 1.1 3.5-.5 4.3-1 1.7-1 .7zM1113.5 182l-3 .1-2.6-.6-2.1-1.5-.2-1.5 1.3-1.5 3.1-1 3.8 0 2.9 1 1.3 1.5-.2 1.5-1.8 1.4-2.5 .6zM1070 184.1l-.2-.6 .7-1 1.3-.5-.3 1-1.5 1.1zM937 322.2l-2 .2-1.5-.8-.6-1.1 0-2 1.1-2 1.5-1.3 2-.8 1.5 .1 1.5 1.2 .3 2.3-1.4 2.5-2.4 1.7zM701.5 555l-1.8 0 .2-1.5 1.6-1.9 1.5-.3 .7 .7-.1 1-2.1 2zM1120.5 142.1l-3.5 .1-2.5-1.2-.7-1.5-.3-2.5 .2-1.5 .8-1.2 3.5-.5 2 .4 1.1 .8 .8 2 .2 2.5-.4 1.5-1.2 1.1zM1074.5 144.5l-.6 0-.5-1 .1-1.5 .5-.6 .5 .1 .6 1-.6 2zM1113 179.6l-2 .1-.9-.7 .9-.7 1.5 0 1 .7-.5 .6zM936.5 319.5l-.7-.5 .2-1 1.5-.6 .3 1.1-1.3 1zM1119.5 140.5l-2 .2-1.9-1.2-.5-2.5 .9-1.5 2-.2 2 1.2 .5 2.5-1 1.5z"/><path class="cf" d="M928 116.9l0-.4 0 .4zM918.5 170.5l-1.5 .1-2-1.6 4.7-6 .7-1.5-2.1-13 1.9-2.5 1.1-2.5 .7-5.5-.7-3.5-1.6-3 3.8-9.1 4-5.5 .5 .1-1.8 8-1.4 12.5 .5 22-.8 1.5-2.6 1.5 .4 3.5-3.8 4.5zM940.5 198.6l-9 .3-7-1.6-5.5-3.4-4.6-5.9 2.6-1.1 1 .2 4.5 4.1 4.5 2 4.5 .6 6.5 0 4.5-.6 3.5-1.3 3-2.4 1.9-3 .9-4 0-6.5-.6-3.5-1.8-4.5 .4-3.5-2.1-2.5-.5-1.5 .4-13-.2-12-.9-10-1.9-8.5 .4-.2 2.5 2.9 2.5 4.6 1.7 4.7 1.3 5.5 .7 6.5 0 7.5-2.1 15 4 9 .6 4 .1 4.5-1.3 6.3-3 5.2-5 3.9-6.5 2.2zM1065.5 340.6l-.5 .1-3.8-3.7-2.9-5-1.5-6-.3-8 .7-6.5 2-5.5 2.9-4 4.4-3.1 3.5-1.2 3.5-.6 10 .3 6 2.1 5.5 4.5 1.5 .6 11-.6 10 .5 6.1 1.5 7.7 3.5-6.3 1.2-27-.4-1.1-.3-.9-1-1-3.4-3-.6-3-2.5-3-1.4-4-.6-8-.1-3.5 .3-3 .9-2.5 1.7-2 2.6-1.2 3.1-.6 4.5 .3 16 1.2 4 3 5-.2 2.1zM785 337l-7-.2-5-2.1-3.5-4-2-5.7-.4-10.5 .5-4 1.1-3.5 1.6-3 2.2-2.3 2.5-1.5 3-.9 7.5-.1 5 1.8 2 1.6 1.8 2.4 2.2 6 .5 6.5-.4 9.5-4.6 3-2 .6 .9-6.6 0-11-.5-4-1.3-3-1.6-1.4-1.5-.6-6.5-.3-3.5 1.2-1.9 2.6-.8 3-.2 3.5 0 9.5 .8 4.5 1.6 2.6 2.5 1.4 5.5 .3 4.6-.3 .1 1-1.7 4-1.5 0zM1124.5 335.2l-7.6-3.2 2.1-.9 6.5-1.1 6.5 .5-7.5 4.7zM1092 339.5l-.6-1.5 .3-1.5 .8-.6 2 0 1.2-3.9 1.3-1.1 8.9 .1 3.4 .5 .5 .5-5.3 2.2-5 2.9-3-.8-2 .5-2.5 2.7zM871 487.1l0-.4 0 .4z"/><path class="ct" d="M1016.5 80.1l-1-.1-1-1.2-.9-3.8 .5-4.5 .9-1.7 1-.6 1 .4 .6 .9 1 4-.6 4.5-1.5 2.1zM647.5 103.8l-1.7-.3 .2-1 1-.3M647 102.2l1.1 .8-.6 .8M916 190.4l-2-2.5-2-1.1-14-2.3-7.5-2.5-4.1-3-1.2-2-.3-2 .5-2.5 1.1-2 1.9-1.5 2.1-.8 3.5-.5 4.5 0 14 2.2 2-.7 2.3-2.7M919 163.9l1.3-1.9 .1-1.5M918.7 149.5l-.7-1.5-1.5-.6-11.5-.1-6.6-1.3-2.4-1.3-1.5-1.7-.6-1.5-.1-2.5 .7-2 1-1.3 4-2.1 7-1 11.5 .1 1.3-.7 1-1.5M924 121.5l2.5-3.6 3-2.7 3-1.6 3.5-.6 3.5 .4 3.3 1.6 2.9 2.5 2.6 3.5M948.3 121l.6 1M951.6 162.5l.3 2 1 2M996 140.5l-2.8 0-1.9-2 .2-2.8 1.9-1.7 2.6 .1 1.8 1.9 .1 2.5-1.9 2zM1018.5 158.2l-2.5 .3-2.4-.5-1.4-1-.3-1.5 1.1-1.2 2-.7 4 .4 1.4 1 .4 1-.8 1.4-1.5 .8zM876 158.5l-.5 .3M875.5 158.8l-.9-.8M874.6 158l.9-.8M875.5 157.2l.5 .3 0 1M693.5 187.1l-3 .2-2.5-.6-2.1-1.2-1.7-2-.7-2 .2-2.5 1.3-2.3 2-1.5 3-1 3.5 .1 3 1.3 2.2 2.4 .7 3-.8 2.5-2.1 2.3-3 1.3zM782 226.5l-2.5 .1-2-.7-1.6-1.4-1-2-.2-2 .8-2.2 1.5-1.7 2-.9 2.5-.1 2 .7 1.5 1.3 1.1 1.9 .1 2.5-.7 1.9-1.5 1.7-2 .9zM936 224.1l-2.5-.7-1.4-2.4 .7-2.5 2.2-1.3 2.5 .5 1.5 2.3-.5 2.6-1 .9-1.5 .6zM987 223l-2-.1-1.7-.9-.6-1.5 .8-1.5 3-.9 1.6 .4 1.2 1 .2 2-1 1-1.5 .5zM1078 224.1l-2.4-.6-1.3-2 .7-2.3 2-1.1 2.1 .4 1.5 2-.6 2.5-2 1.1zM1081.5 260.1l-1.1-.1-.9-1.5 .3-1.5 1.2-.8 1 .5 .5 1.3-.4 1.5-.6 .6zM1081.5 367.6l-3 .4-2.5-.4-2.5-1.6-1.7-2-1.8-3.5-1.2-4-1.6-13-1.3-2-4.9-4.7-2.3-3.8M1058.5 332.5l-.4-1M1058.1 308.5l.4-1M1058.7 307l2.8-4.3 3.5-2.9 4.5-2 5-.7 7 0 5 1 3.5 1.7 5 4.2 2 .7M1127.5 307.6l7 3.4 3 2 2.5 3.4 .8 3.6-.7 3.5-2.1 3-2.5 2-7.5 4.4M1126 334.2l-1.8 1.3-.7 1.5 1.1 9.5-.3 3-1 3-1.3 2.1-2 1.7-5 1.5-2.5-.2-2-.7-2.5-1.8-1.8-2.1-2.7-5-2.6-9-.9-1.5-3-1.1-2.6 .6-2.8 3-1.3 2.5-1.2 12-1.7 6.5-2.4 4.1-3.5 2.5M802.5 352.6l-3.5 .1-3.5-2.1-3.6-4.6-3.4-8.1-1.5-.8-2.5-.1M796.6 326l.4 2.7 4 3.5 2.4 3.3 2.9 7 .4 3.5-.6 3-1.1 2-2.5 1.6M697 321.5l-1.5 .5-1.5-.5-1.5-1.8-.7-2.2 0-2.5 .6-2.5 1.1-1.6 1.5-.8 1.5 .1 1 .7 1 1.4 .7 2.2-.2 4-2 3zM691 359.1l-3 .2-2.5-.7-2-1.5-1.3-2.1-.4-2.5 .7-2.5 1.5-1.9 2-1.3 2.5-.6 3 .4 2.5 1.5 1.7 2.4 .5 2.5-.7 2.6-2 2.3-2.5 1.2zM780 372.6l-2-1-1.4-2.6-1-4-.3-4.5 .4-5 1-4 1.3-2.5 2-1 1.5 .9 1.5 2.8 1 4.2 .3 4.6-.3 4.5-1 3.9-1.5 2.8-1.5 .9zM1011.5 367.8l-1-.3-.7-2 .2-2.4 1-1.2 1 .5 .7 2.1-.2 2-1 1.3zM1018.5 431.2l-3 .1-2.5-1.6-2-3.2-.8-3.5 .1-4 1.2-3.6 2.4-2.9 2.6-1 2.5 .6 2 1.6 1.6 2.8 .8 3.5 0 3.5-1 3.5-1.6 2.5-2.3 1.7zM693 478.1l-2.5 .1-2.5-1-2-2.2-.9-2.5 .1-3 .9-2.5 1.9-2 2.5-1 2.5 .1 2 1.1 1.7 1.8 .9 2.5 .1 3-.9 2.5-1.7 2-2.1 1.1zM896.5 480.6l-2 .3-2-.5-1.5-1.1-1-1.7-.3-1.6 .4-2 .9-1.5 2-1.3 2-.3 2 .6 1.4 1 .9 1.5 .4 2-.5 2-1 1.5-1.7 1.1zM872 487.6l-1-.6 .5-1.1 1.1 .6-.6 1.1zM1011.5 551.5l-1.2-.5-.6-2 .3-2.2 1-1.2 1 .5 .7 1.9-.2 2.1-1 1.4zM783 568l-2 .3-2-.5-1.9-1.3-.9-1.5-.4-2 .5-2 1-1.5 1.7-1.1 2-.5 2.5 .4 1.8 1.2 1.2 1.9 .3 2.1-.6 2-1.3 1.5-1.9 1zM1074 572l-2.5-.2-2.2-1.3-1.7-2.5-.4-2.5 .7-3 1.6-2.2 2.5-1.6 2.5-.4 2.5 .7 1.9 1.5 1.1 2 .4 2.5-.5 2.5-1.4 2.2-2 1.6-2.5 .7zM1015.5 622.6l-3.5-.4-1.5-.9-1-1.3-.4-1.5 .3-1.5 1.1-1.5 1.5-.9 2-.5 2.5 .4 1.8 1 1.1 1.5 .2 2-.6 1.5-1.5 1.4-2 .7zM1016 78.5l-1.2-1.5-.5-3 .6-3 1.1-1.1 1.3 1.1 .6 3-.4 3-.6 1-.9 .5zM647 103.1l-.3-.1 .3 .1zM917.3 191.5l-2.8-3.7-2-1.5-14.5-2.3-7.1-2.5-3.8-3-1.1-3 .4-2.5 1-2 1.6-1.3 2-.9 3.5-.6 4 0 14.5 2.2 2-1.1 2.5-3.1M918.5 165l2-2.5 .3-2M918.9 149l-.7-1.5-1.2-.7-11.5 0-6.5-1.3-1.9-1-1.4-1.5-.7-1.5 0-2.5 .4-1.5 1.1-1.5 3.9-2 6.6-.9 11 .2 1.5-.8 .9-1.5M923.6 123l.5-1M924.1 122l2.9-4 3-2.6 3.5-1.5 3.5-.3 3.5 .7 3 1.8 3 3 2.5 3.9M951.3 162l.2 2.5 1.3 2.5M952.8 167l.6 1M995.5 139.6l-2 0-1.1-1.1-.2-2 1.3-1.5 2-.1 1.5 1.6-.2 2-1.3 1.1zM1017 158l-3.2-.5-1.1-1 0-1 1.1-1 1.7-.5 3.3 .5 1.1 1 0 1-1.1 1-1.8 .5zM694 186l-2.5 .4-2.5-.3-2-1-1.5-1.4-.9-1.7-.1-2 .8-2 1.4-1.5 2.3-1.2 3-.3 3 .8 2.2 1.7 1.1 2.5-.3 2.5-1.5 2.1-2.5 1.4zM781.5 225.6l-2 0-1.5-.6-1.5-1.4-.7-1.6 .1-2 .7-1.5 1.4-1.3 1.5-.6 2 0 1.5 .6 1.4 1.3 .7 1.5 .1 2-.6 1.5-1.6 1.5-1.5 .6zM936 223.1l-2-.6-.9-1.5 .4-1.8 1.5-1 2 .3 1 1.5-.3 2-1.7 1.1zM987.5 222.1l-1.5 .3-1.4-.4-.8-1 0-1 1.7-1.1 2 .2 1.2 1.4-.3 1-.9 .6zM1078.5 223l-1.5 .2-1.5-1-.2-1.7 .7-1 2-.5 1.5 1 .3 1.5-1.3 1.5zM1081 258.7l0-1 0 1zM1081 366.6l-2.5 .2-2.5-.4-2-1.3-2-2.3-1.5-3-1.1-3.8-1.8-13-6.6-6.9-2.9-5.6M1058.1 309.5l2.1-4.5 3.3-3.7 4-2.4 5.5-1.3 7.5-.1 5.5 .9 4.5 2.2 4.5 3.9 2 .6M1127.5 308.1l6.9 3.4 2.8 2 2.2 3 .8 3.5-.7 3.3-2 2.9-10 6.6M1126 333.7l-2.4 1.8-.7 1.5 1.1 9-.4 3.5-.9 2.5-1.3 2-1.8 1.5-4.6 1.4-2.5-.1-2-.8-3.5-3-3-5.3-2.9-9.7-1-1-2.1-.8M1097.5 336l-2 0-1.1 .5-4 4.5-1 3-.9 10.5-1.3 5-2.7 4.8-1.5 1.3-2 1M801.5 352l-3.5-.4-3.5-2.7-2.6-3.9-3.3-8-4.1-.3M796.2 326.5l0 2 .6 1 3.7 3 2.5 3.3 1.8 3.7 1 3.5 .3 3.5-.7 2.5-1.4 1.8-2.5 1.2M696.5 320.7l-1.5 .2-1-.6-1-1.3-.6-2 .6-4 1-1.3 1.5-.6 2 1.1 1.1 2.8-.4 3.5-1.7 2.2zM690.5 358l-2.5 .1-1.9-.6-1.6-1.2-1.1-1.8-.3-2 .5-2 1.4-1.7 2-1.1 2.5-.3 2 .5 2 1.4 1.1 1.7 .3 2.5-.8 2-1.6 1.7-2 .8zM780.5 370.8l-1.5 0-1.5-1.9-1.1-3.4-.5-4.5 .3-4.5 .8-3.7 1.5-2.6 1.5-.6 1.5 1.1 1 1.9 1.2 6.9-.7 7-1 2.6-1.5 1.7zM1011 365.6l0-1.4 .5 .2 .1 .6-.6 .6zM1018 430l-2.5 0-2-1.3-1.7-2.7-.8-3.5 .2-3.5 1.1-3 1.7-2.1 2.5-1.1 2 .4 2 1.6 1.5 2.7 .6 3-.1 3-1 3.1-1.5 2.2-2 1.2zM693 477.1l-2.5 .2-2-.9-1.5-1.5-1-2.4-.1-2.5 1-2.5 1.6-1.7 2-.9 2 .1 2 .9 1.4 1.6 .9 2 .1 2.5-.6 2-1.3 1.9-2 1.2zM894.5 480l-1.5-.4-1.5-1.1-.8-1.5-.1-1.5 1.4-2.7 1.5-.8 1.5-.2 2.6 1.2 1 1.5 .2 1.5-.3 1.5-1 1.4-1.5 .9-1.5 .2zM1011.5 549.1l-.5 .2 0-1.4 .5 .2 0 1zM783 567.1l-1.5 .3-2-.4-2.2-2-.4-3 .8-1.5 1.3-1.1 1.5-.5 2 .1 1.5 .7 1.2 1.3 .6 1.5-.2 2-1 1.5-1.6 1.1zM1075 570.6l-2.5 .2-1.9-.8-1.4-1.5-.8-2 .2-2.5 .9-2 1.6-1.5 2.4-.9 2 .1 1.6 .8 1.4 1.5 .7 2-.1 2-.8 2-1.3 1.5-2 1.1zM1016 621.7l-3 0-2.1-1.2-.8-2.5 1.1-2 1.8-.9 2-.2 1.9 .6 1.2 1 .6 1.5-.2 1.5-1 1.4-1.5 .8zM1016 75.3l-.3-1.3 .3-.9 .6 .9-.6 1.3zM918 191.8l-3.5-4.8-1.5-1.1-14.5-2.4-7.1-2.5-3.4-3-.7-3 .6-2.5 1-1.5 2.1-1.3 2.6-.7 5.9-.1 12 2 2.5-.1 6.5-7.5 .7-2.8M919.3 149l-.7-2-1.1-.8-11.5 .1-6.2-1.3-2.8-2-.7-1.5-.1-2 .3-1.5 1-1.5 3-1.8 6.5-1 11 .3 1.5-.7 1.3-2.3M923.5 124l2.5-4.1 3-3.2 3.5-2 3.5-.6 3.5 .4 3.5 1.8 3 2.8 2.8 4.4M950.9 162l.3 3 3.1 6M954.3 171l.5 1.5M955 173.2l.3 1.3M955.3 183l-.3 1.8M954.8 185.5l-.5 1.5M954.3 187l-2.3 4.3M951.8 191.5l-1.3 1.5M995 137.8l-1-.2 0-.6 1-.2 0 1zM1018 157.1l-1.5 .4-2-.4-.7-.6 0-1 1.7-.9 2.5 .3 1 1.1-1 1.1zM693.5 185.1l-4 0-3-2-.7-1.6 0-1.5 .6-1.5 1.1-1.2 2-1 2.5-.3 2 .5 2.1 1.5 .9 2-.1 2-1.4 2-2 1.1zM782 224.1l-2.5 .2-2.1-1.8-.1-2.5 1.7-1.9 2.5-.2 2 1.6 .3 2.5-1.8 2.1zM936 221.1l-.9-.1 .3-1 .6 .1 0 1zM986.5 221l-1-.5 1-.3 .3 .3-.3 .5zM1077.5 221.6l-.6-.6 .6-.5 .6 .5-.6 .6zM1080 365.5l-2.5 0-2-.7-1.8-1.3-1.5-2-2.4-6.5-1.5-12-1-1.5-6.3-6-2.8-6M1058 328.5l-.3-1.5M1057.7 313l.3-1.5M1058.2 310.5l2.2-5 2.9-3.5 4.2-2.6 5-1.3 7.5-.3 5.5 .9 4.5 2 5 4.3 2 .4M1127 308.2l7.2 3.8 2.7 2 2 3 .6 3-.6 3-2 3-10.4 7M1126 333.3l-2.6 1.7-1 1.5 1 9.5-.4 3-.9 2.5-2.6 3-4.5 1.5-4-.7-3.5-2.8-3-5.2-2.7-9.3-.8-1-2-.9M1097 335.6l-1.5 0-1.5 .6-4.3 4.8-.9 3-.8 10-1.5 5.3-1.4 2.7-1.6 1.8-3.5 1.7M801.5 351.2l-1.5 .1-2-.5-3.5-2.8-2.5-4-2.9-7.5-1.1-.4-3.5 .2M795.8 326.5l.2 3.3 3.5 2.6 2 2.1 2.3 4 1.4 4 .3 3-.5 2.6-1.3 1.9-2.2 1.2M695.5 319.5l-1.6-1-.6-2.5 .6-2.5 1.6-1 1.6 1 .6 2.5-.6 2.5-1.6 1zM690 356.6l-3-.4-2.1-2.2-.1-1.5 .4-1.5 2.3-1.9 2-.2 1.5 .5 2 2.1 .3 1.5-.5 1.5-1.3 1.5-1.5 .6zM780 369.1l-1.5-.8-1-1.8-.9-6 .9-6.3 1-1.9 1.5-.8 1 .7 1 1.8 1 6.5-.9 6-1.1 1.9-1 .7zM1017.5 428.6l-2-.2-1.7-1.4-1.3-2.4-.5-2.6 .2-2.5 .9-2.5 1.4-1.8 2-.8 2 .4 1.3 1.2 1.2 2 .5 2.5-.1 3-.9 2.5-1.5 1.8-1.5 .8zM692.5 476.1l-2 0-1.5-.6-1.4-1.5-.6-1.5-.1-2 .6-2.1 1.2-1.4 1.8-.9 2 0 1.5 .8 1 1.1 .9 2 0 2-.7 2-1.2 1.3-1.5 .8zM896 478.6l-2.5 0-1.5-1.5-.1-2.1 1.6-1.8 2-.1 1.8 1.4 .2 2.3-1.5 1.8zM782 566.1l-2.5-.4-1.3-1.7 .3-2.5 2-1.4 2.5 .4 1.5 2-.5 2.3-2 1.3zM1074.5 569.1l-1.5 .1-1.5-.6-1.1-1.1-.5-1.5 .7-3 1.4-1.3 1.5-.5 1.5 .1 1.4 .7 1.3 2.5-.8 3-2.4 1.6zM1016 620.6l-2 .3-2-.9-.7-1.5 .5-1.5 2.2-1.1 2.5 .6 1 2-.5 1.3-1 .8zM923 195.4l-1-.6M922 194.8l-3.3-2.8-5.2-6.6-2-.7-11-1.4-6.3-1.8-4-2.5-1.1-1.5-.4-2 .5-2.5 1-1.5 1.8-1.2 2.5-.6 5.5-.1 12 2.1 2-.2 1.5-1.3 5.4-6.7 .6-1.5 0-1.5M919.6 148.5l-.7-2-1.4-1.1-10.5 .2-6.1-1.1-2.6-2-.7-3 1.1-2.5 2.8-1.7 6.5-1 10.5 .5 1.5-1.2 1.2-2.6M923.7 124.5l2.7-4.5 3.1-3 3.5-1.9 3.5-.5 3.5 .7 3.5 2 3 3.1 2.4 4.1M950.7 161.5l-.1 3 2.9 5.5 1.2 3.5 .5 4-.1 4.5-.8 4-1.6 3.5-2.3 3-2.9 2.4M947.3 195l-.8 .5M1017 156l-1.4 0 .9-.3 .5 .3zM692 184.1l-2.9-.6-1.7-2 .4-2.5 2.2-1.5 2-.2 1.5 .5 1 .7 .9 1.5-.5 2.5-1.2 1-1.7 .6zM780.5 222l-.9-1 .9-.8 .9 .8-.9 1zM1080.5 364.1l-2.5 .1-2-.5-2-1.5-1.5-2-2.1-5.7-1.4-11.5-1.5-2-4.7-4-2.3-3-1.9-4.5-.9-5M1057.7 315.5l1.2-6 2.6-5 4-3.6 5-2.1 8-.6 6.5 .8 4.7 2 5.3 4.5 2 .3M1126 308.1l7.9 4.4 2.6 2 1.9 3 .4 3.5-.8 2.5-2 2.5-12.7 8.5-1.5 1.5-.2 1.5 1 5.5 0 4-.9 3.5-1.7 2.4-2.5 1.5-3 .7-2.5-.4-2.5-1.3-2.3-2.4-1.7-3-3.2-10.5-1.2-1-2.1-.8M1097 335.2l-1.5-.1-1.5 .6-4.9 5.3-.9 3-.8 9-1.3 5-2.3 4-1.8 1.5-1.5 .6M801.5 350.2l-1.5 .2-2-.4-3.5-3-2.5-4.5-2.1-6.5-1.4-.4-4 .3M795.5 326.5l-.2 4 3.7 2.3 2 2 2 3.3 1.5 3.9 .3 3-.3 2.1-1.1 1.9-1.9 1.2M696 316.5l-.5 .5-.5-.5 0-1 .5-.5 .5 .5 0 1zM689.5 353.7l-1.5-.4 .3-1.3 .7-.2 1 .5 .1 .7-.6 .7zM780 366.6l-1-.4-.7-1.2-.8-4.5 .6-4.5 .9-1.6 1-.4 1.5 2 .6 4.5-.6 4.1-1.5 2zM1017.5 426.5l-1.5 0-1-.6-1-1.4-.6-2 .6-4 1-1.4 1.5-.7 1.5 .3 1 .8 1.2 3-.6 4-2.1 2zM692.5 474.6l-2.5-.2-1.1-.9-.7-1.5 .3-2.6 2-1.9 2.5 .4 1.5 2.1-.1 2.5-1.9 2.1zM895 476.6l-1.1-.6 .6-.8 .9 .3-.4 1.1zM782 563.6l-1 .3-.5-1.1 .5-.5 .9 .2 .1 1.1zM1074 566.2l-1-.2-.2-.5 .2-1 1-.4 .8 .9-.8 1.2zM1014.5 619.1l-.9-.6 .4-.7 1.1 .2 .1 .5-.7 .6zM926 196.3l-.9-.3M925 196l-1.5-.7M923.5 195.3l-4.3-3.3-5.7-7.5-2-.6-8.8-.9-6.2-1.5-4.6-2.5-1.2-1.5-.4-1.5 .4-2.5 .8-1.3 1.9-1.2 2.1-.5 5.5-.1 11 2.1 2-.2 1.5-1.3 5.9-7.5 .6-1.5-.2-2M919.9 148l-.9-2.6-1.5-1.1-9 .6-6-1-2.7-1.9-.4-2.5 .4-1.5 1-1 3.7-1.5 6.5-.4 7.5 .7 1.5-1.2 1.4-3.1M923.6 125.5l2.6-4.5 3.3-3.4 3.5-1.9 4-.5 3.5 .8 3.5 2.3 3 3.6 2.4 4.6M950.3 161.5l0 3.5 2.8 5 1.3 4 .4 4-.2 4.5-.9 4-1.7 3.5-2.6 3-3.4 2.3M946 195.3l-1 .5M944.5 196l-1 .4M691.5 181.6l-1.1-.6 .6-1.1 1 0 .5 .6-.1 .5-.9 .6zM1080.5 362.6l-4-.2-3-2.5-1.5-2.9-.9-3-1-9.5-.6-2-1.2-1.5-5.8-4.9-2.8-4.6-1.2-4-.5-5 .1-7 .9-5 2-4.5 3-3.5 4-2.4 5-1.3 7-.2 5.5 .9 4.5 2.2 4.5 4 2.5 .5M1125 308l10.5 6.5 2.1 3 .5 3.5-.9 2.5-2.2 2.5-12.5 8.5-1.4 1.5-.2 1.5 .9 5 .1 3.5-.6 3-1.4 2.5-2.4 1.8-3 .7-2.5-.3-2.2-1.2-2-2-1.8-3.1-2.9-9.9-1-1-2.4-1M1097 334.8l-2 0-1.5 .7-5.1 5.5-.8 2.5-.8 9-1.2 4.5-2.1 3.7-3 1.9M801.5 349.1l-1.5 .4-2-.4-3.1-2.6-2.5-4.5-1.2-6-.6-1-7.6 .6M782 335.6l-3-.1M778 335.3l-1-.3M776.5 334.9l-1-.4M795 327l-.6 4.5 3.6 1.6 2 1.6 2 2.8 1.5 3.5 .6 2.5-.2 2.5-.9 2-1.5 1.1M780 361.9l-.5-.1-.3-1.3 .3-1.7 .5-.1 .4 1.8-.4 1.4zM1017 422.8l-1.1-.8 .6-1.8 .5 0 .6 .8 0 1-.6 .8zM691.5 472.1l-.5-.1-.5-1 1-.9 .8 .9-.8 1.1zM929 196.8l-1-.3M927 196.3l-4-1.8-3-2.3-6.5-8.8-1.5-.6-7-.3-7-1.5-4.1-2-1.6-2.5 .1-2 .8-1.5 1.4-1 1.9-.6 5 0 10.5 2.2 2-.3 7.9-9.8 .5-1.5-.2-2M920.2 148l-.7-3.2-1.5-2.2-6 1.1-6.1-.2-3.4-1.5-.6-1-.1-1.5 1.3-2 3.4-1.1 6 0 6 1.2 1.5-1.7 1.8-4.4M923.2 127.5l2.5-5 3.3-3.9 3.5-2.1 4-.7 4 .8 3.5 2.4 3 3.7 2.4 4.8M950 161.1l-.4 2.4 .2 1.5 3.1 5.5 1.2 4 .3 5-.4 4.5-1.5 4.3-2.5 3.5-3.3 2.7-4.2 1.8M941.5 196.6l-1 .2M1080.5 361l-3.5 0-1.5-.8-1.5-1.5-2.2-5.2-1.5-11-1.1-1.5-6.2-5-3-4.9-1.2-4.1-.4-5 .1-6.5 .9-5 2.1-4.5 3-3.4 4-2.3 5-1.1 7-.1 5 .9 4.1 2 4.9 4.3 2.5 .2M1124.5 308.2l10.6 6.8 1.9 3 .3 3-1 2.5-1.8 2.1-13.9 9.9-.5 2 .9 5 .1 3.5-.6 2.6-1.5 2.3-2 1.4-2.5 .6-2.5-.3-2-1.1-2-2.2-1.5-2.7-2.6-9.1-1.4-1.4-2.5-.9M1097 334.5l-2-.2-1.5 .6-5.9 6.1-.8 2.5-.6 7.5-1 4.5-2.2 3.9-2.5 1.6M785.5 335l-6 .1-4.5-1.3M775 302.2l1-.5M776 301.7l1.5-.5M778 301.1l4-.3 4 .3M786.5 301.2l1.5 .5M788 301.7l1 .5M794.6 327l-1.3 4-1.3 2.1-2.5 1.1-4 .8M801 348l-1.5 .4-2-.6-2-1.8-1.5-2.2-1.2-2.8-.5-3 .3-2.5 1-1.5 2.4-.5 2 .7 2 1.6 1.5 2.3 1.4 3.4 .4 3-.8 2.3-1.5 1.2zM939.5 196.6l-1.5 .2M931.5 196.8l-5.6-1.3-4.9-2.9-2.8-3.1-3.7-6.6-1.5-1.6-6.5 .1-5.6-.9-4-1.5-1.9-2 0-1.5 .6-1.5 1.4-1 2-.4 5.2 .4 7.8 2.3 1.5-.2 1.5-1.4 4-6.2 3.4-4 .5-1.5-.4-2.5M920.5 147.5l-.9-5.5 0-2.5 2.6-8M923.2 128.5l2.7-5.5 3.1-3.7 3.5-2.2 4-.7 4 .9 3.5 2.4 3 3.8 2.4 5M949.8 160.5l-.6 4 3.3 6.1 1.3 4.4 .2 5.5-.7 4.5-1.8 4.2-3 3.5-4 2.5-5 1.4M911.5 141.1l-3.8-.1-.6-.5 0-1 1.9-.8 3 .3 .5 .5 0 1-1 .6zM1079.5 359.5l-3-.5-2-1.8-2-4.7-.9-8.5-.7-2-7.4-6.1-3.1-4.9-1.3-4.5-.4-5 .2-6.5 1.1-5 2-4 3.4-3.5 3.9-2 4.7-.9 6.5-.1 4.5 .8 4.5 2.1 5 4.4 3 0M1123.5 308.2l10.5 6.8 1.9 2.5 .6 3-.9 2.5-2.1 2.5-6.9 5.5-6.9 4.5-.5 2 1.1 7.5-.5 2.5-1.3 2.2-2 1.4-2.5 .5-2-.3-2-1.2-1.5-1.7-1.5-2.8-2.4-8.6-1.6-1.2-3-1M1097 334.1l-2-.3-1.5 .5-6.3 6.2-1.1 2.5-.7 7.5-1.1 4.5-2.3 3.4-2.5 1.1M786 334.6l-7 .1-2.7-.7-2.3-1.2M774 303.2l3.5-1.6 4.5-.4 4.5 .4 3.5 1.6M794.2 327l-1.2 3.2-1.5 2.1-2 1.2-3.5 1.1M799.5 347l-1.5-.2-1.8-1.3-2.5-4.5-.2-4 .5-1 1.5-1 1.5 0 2 1.1 1.5 1.9 1.4 3 .4 2.5-.3 1.6-1 1.3-1.5 .6zM935.5 196.5l-7.5-.7-3-1.1-2.9-1.7-4-4.5-3.2-7-.5-3.5 .8-3 3.2-6 4.8-6-.6-4.5M920.9 147.5l-.5-5 .1-3.5 2.6-9M923.1 130l2.4-5.5 3-4.1 3.5-2.5 4-.9 4 .7 3.6 2.3 3.2 4 2.5 5.5M949.8 159l-1.1 5.5 3.7 7 1.1 5 0 5.5-1.1 4.5-2.4 4.1-4 3.4-5 1.9-5.5 .6M905.5 178.5l-4-.8-.8-.7 .2-1 1.6-.6 3.5 .8 1 1.3-.5 .7-1 .3zM1079.5 357.6l-3-.6-2-2.4-1.3-4.1-.8-7-.9-2-7.5-5.7-2-2.6-1.3-2.7-1.2-4.3-.4-5.2 .2-6 1.2-5 2-4 3-3 4-2.1 5-1 6 0 4.5 .8 4.5 2.3 4.5 4.1 1.5 .4 2-.3M1122.5 308.1l4.3 2.4 6.5 5 1.8 2.5 .4 2.5-.9 2.5-2.3 2.5-6.3 5.4-7.3 4.6-.5 1.5 1.1 7.5-1.3 3.7-1.5 1.3-2.5 .7-2-.3-1.5-.9-2.7-4-2.1-8-1.7-1.4-3.5-1M1097.5 333.8l-2.5-.4-1.5 .3-7.2 6.8-1.1 2.5-.7 7-1 3.8-1.8 2.7-2.2 1.1M786.5 334l-4 .5-4.5-.4-3-1.1-2.4-2M772.6 305l3.9-2.7 5.5-.8 5.5 .8 3.9 2.7M793.9 327l-1.4 3-1.5 1.9-2 1.3-2.5 .8M799.5 345.2l-1 .1-1.5-.7-2-3.1-.4-3 .4-1 1-.7 1-.1 1.5 .7 2 2.9 .5 3.2-.5 1.1-1 .6zM937.5 196l-7.5-.2-6-2.1-4.4-3.7-3-5.5-1-4 .1-4.5 2.9-6.5 5-6 .1-2-1.1-4.5M921.3 147.5l-.2-8.5 2.4-9 3.1-6.5 2.1-2.5 2.3-1.9 2.5-1.1 2.5-.4 3 .4 2.5 1.1 2.5 2 2 2.4 3.3 7M949.3 130.5l.5 2M949.8 157.5l-1.6 7 3.3 6 1.3 4 .4 6-.9 5-2 4-3.3 3.3-4.3 2.2-5.2 1M1080 355.1l-2.5 0-1.5-1.1-1.5-3.2-1.5-8.8-1.3-1.5-7.2-4.9-2-2.4-1.4-2.7-1.1-4-.5-5.5 .3-6 1.1-5 2.1-3.9 3-2.9 4-2 4.5-.8 6 0 4.5 .8 4 2 5 4.5 3.5-.1M1121.5 308.1l4.5 2.4 6.1 5 1.9 2.5 .4 2.5-1.3 3-6 6-9.6 6-.5 1.5 1.1 6.5-1.1 3.5-1.3 1-1.7 .5-1.5-.1-1.5-.8-2.4-3.6-1.9-7.5-1.7-1.1-4.5-1.2M1097.5 333.4l-3-.5-1.5 .5-7.7 7.1-1.2 2.5-1.2 8.5-1.3 2.5-1.6 1.1M784 334l-4 0-3-.6-2.7-1.4-2.3-2.4M772 306.4l1.7-1.9 2.3-1.5 2.5-.8 3.5-.3 3.5 .3 2.5 .8 2.3 1.5 1.7 1.9M793.5 327l-1.5 3-2 2.1-2.5 1.2-3.5 .7M798.5 342l-1-.1-.5-.9 .2-1 .8 0 .3 .5 .2 1.5zM938.5 195.5l-7.5 0-5.6-1.5-2.5-1.5-2.3-2-3.1-5-1.3-5.5 .6-5.5 2.3-5 4.4-5 .8-1.5-1.6-7.5M921.6 147l.1-8.5 2.6-9.5 1.7-3.6 2-2.9 2-2 2.5-1.5 2.5-.7 3 .1 2.5 .8 2.5 1.6 2 2.2 2 3.1 2.8 7.9M949.8 156l-2.1 8.5 3.6 6.5 1.1 3.5 .4 5.5-.8 5-1.9 4-3.1 3.3-4 2.2-4.5 1M1079.5 352.2l-2-.3-1.2-1.4-1.4-7-.9-2-8.5-5.6-2.2-2.4-1.7-3-1.3-4.5-.4-6 .4-6 1.3-4.5 2.4-3.9 3-2.5 4-1.7 4.5-.6 5 .1 4 .7 4.1 1.9 5.4 4.8 4.5-.6M1120.5 308.2l4.7 2.3 4.7 4 2.6 3 .7 3-1.3 3-5.5 6-3.4 2.4-6.4 3.1-1 1-.2 1 1.1 5.5-.6 2.5-.9 .9-1.5 .4-2-.7-1.9-3.1-1.1-6-2.5-1.4-5-1.2M1098.5 333.3l-3.5-.9-2 .4-8.5 7.2-1.6 2.5-1.4 7.6-1 1.5-1 .6M784.5 333.5l-4.5 .1-3.5-.8-2.8-1.8-2-2.5M771.7 307.5l1.8-2.3 2.4-1.7 2.6-.9 3.5-.2 3.5 .2 2.6 .9 2.4 1.7 1.8 2.3M793.2 326.5l-1.4 3-1.8 2-2.5 1.4-3 .6M939 195.1l-7.5 .1-6-1.6-4.5-3.3-2.9-4.8-1.2-5.5 .6-6 2.1-4.5 4.6-5 .6-1.5-2.1-9.5M922 147.5l.2-9 2.3-8.9 3.5-6.3 2-2.1 2.5-1.5 3-.8 3 .2 2.5 1 2.5 1.9 2 2.5 2 3.5 2.3 8M949.8 154l-2.7 10.5 .5 1.5 3 4.5 1.2 3.5 .6 5.5-.7 5-1.7 3.9-2.7 3.1-3.8 2.3-4.5 1.3M1079 346.1l-.6-.1-2.4-4.5-9.6-5.5-2.5-2.5-1.8-3-1.4-5-.3-7 .6-5.5 1.5-4.4 2.3-3.1 3.2-2.4 4-1.4 4.5-.5 5.5 .3 4 1.1 3 1.8 3.5 3.6 1.5 .9 4.5-.8M1119.5 308.2l3.2 1.3 3.1 2 5.4 6 .7 2 0 1.5-2.6 4.5-2.8 3.3-2.9 2.2-10.6 4.6-2 0-10.5-2.2M1100 333.3l-5-1.4-2 .2-4.5 4.2-6.6 4.7-1.2 1.5-1.7 3.6M785 333.1l-5 .1-3.5-.9-2.7-1.8-2.2-3M771.6 308.5l1.7-2.5 2.2-1.8 3-1.2 3.5-.2 3.5 .2 3 1.2 2.2 1.8 1.7 2.5M792.9 326.5l-1.4 2.7-1.7 1.8-2.3 1.4-2.5 .7M939.5 194.6l-7.5 .2-5.6-1.3-4.5-3-1.9-2.3-1.4-2.7-1.2-5.5 .7-6 2.1-4.5 4.7-5 .5-1.5-2.7-12M922.5 149l0-9.5 2.1-9 3.5-6.5 2.4-2.5 2.5-1.4 2.5-.5 3 .2 2.5 1 2.5 2 2.1 2.7 1.9 3.7 2.3 8.8M949.8 152l-3.2 12.5 .4 1.5 3.3 5 1.1 3 .5 5-.5 5-1.7 4-2.5 3-3.7 2.4-4 1.2M1080.5 340.1l-3.5 0-7.5-2.8-4-2.7-2.5-3.3-1.8-5.3-.4-7.5 .7-6 1.9-4.5 2.6-3 3.3-2 3.7-1 5-.3 4.5 .4 4 1.3 2.5 1.6 4.5 4.4 1.5 .1 4.5-1.3M1118 308.2l3.8 1.3 3.3 2 3.3 3.5 2 3.5 .2 2-.7 2.5-2.1 3.5-2.8 3-5.5 3.1-7.5 1.9-9-1-9.5-2.2-1.5 .8-5 4.6-6.5 3.4M785.5 332.5l-5.5 .2-4-1.1-3-2.6-1.8-3.5M771.2 310.5l1.4-3 2.4-2.5 3-1.4 4-.4 4 .4 3 1.4 2.4 2.5 1.4 3M792.8 325.5l-1.3 2.9-1.5 1.9-2 1.4-2.5 .8M940 194l-8 .4-3.5-.7-3.1-1.2-2.9-2-2-2.4-1.5-2.9-.9-3.2-.1-5 1.1-4.5 1.9-3.3 4.2-4.2 .7-1.5-2.7-11.5-.5-10.5 .6-4.5 1.2-5 1.9-4.5 2.1-3.2 3-2.7 3.5-1.3 4 .3 3.5 2 2.8 3.4 2.2 4.4 1.5 5.3 .8 6.3M949.8 148l-1.1 7.5-2.7 9 .4 1.5 3.4 5 1.1 3 .6 4.5-.5 5-1.5 4-2.4 3-3.1 2.1-4 1.4M1079.5 339l-4.5-.4-6-2.2-3.5-2.5-2.5-3.7-1.5-5.3-.2-7.9 1-5.5 2.1-4 2.4-2.5 3.2-1.7 3.5-.9 5-.2 4.5 .5 3.5 1.2 2.5 1.8 3.5 3.8 1 .6 8-1.9M1116 308.2l4.5 1.2 3.5 1.9 2.8 2.7 2.1 3.5 .6 2.5-.6 3-1.9 3.5-2.5 2.8-5.5 3-7 1.5-9-.7-8.5-2.3-1.5-.1-6.5 5.7-4 1.9-3 .7M785.5 332.1l-5.5 .2-4-1.2-3-2.8-1.8-4.3M771.2 312l1.3-3.5 2.5-3 3-1.4 4-.5 4 .5 3 1.4 2.5 3 1.3 3.5M792.8 324l-1 3-1.7 2.5-2.1 1.6-2.5 1M936.5 194l-7.5-.6-3-1.1-2.8-1.8-2.2-2.5-1.4-2.5-.8-3-.3-3.5 .3-4 1.3-3.5 2.1-3 3.8-3.5 .6-1.5-2.5-9-.9-7 .1-8 1.5-7 2.1-5 2.6-3.5 3.5-2.5 3.5-.6 3.5 .8 3.5 2.7 2.9 4.6 1.9 5.5 1.1 7.5-.2 8-1 6-2.7 7.5-.1 1.5 4.5 7.5 .8 3 .3 3.5-.9 6-2.7 4.5-2.4 2-2.5 1.3-6 1.2zM1080.5 338l-5-.1-5.5-1.6-4-2.7-2.5-3.5-1.6-5.6-.1-7.5 1-5.5 2.2-4 2.5-2.4 3-1.5 3.5-.8 4.5-.1 4.5 .5 3.5 1.3 2.6 2 3.4 3.9 1 .4 6.5-1.9 4.5-.7M1113.5 308.2l4.5 .8 4 1.6 3.2 2.4 2.2 3 1 3-.1 3-1.4 3.5-2.4 3.1-2.5 1.9-3 1.3-7 1.5-9.5-.6-9.5-2.7-6.5 5.7-3 1.5-3 .8M785.5 331.6l-6 .2-4-1.5-2.8-3.3-1.5-5M771.2 314l1.2-4.5 2.2-3 3.4-1.9 4-.5 4 .5 3.4 1.9 2.2 3 1.2 4.5M792.8 322l-.8 3.5-1.5 2.8-2.3 2.2-2.7 1.1M937 193.5l-7.5-.4-3-1.1-2.5-1.5-2-2-1.6-2.5-1-3-.4-3.5 .4-4.5 1.3-3.5 1.7-2.5 3.9-3.5 1-1.5-.2-1.5-2.5-7.5-1-6.5 0-8 1.4-7 2-5 2.5-3.7 3-2.3 3.5-.9 3.5 .6 3.5 2.5 2.9 4.3 2 5.5 1.1 7.5-.2 8-1.2 6.5-2.9 8.5 4.7 7.5 1.1 6-.7 6-2.6 4.5-4.2 3.1-6 1.4zM1081.5 337.1l-6 .1-5.5-1.5-4-2.8-2.7-4.4-1.1-7 .1-5 .6-3.5 2.4-5 1.9-2 2.3-1.4 3-1 3-.4 4.5 .1 3.5 .6 4.3 2.1 4.2 4.9 1.5 .7 5.8-2.1 4.2-.8 7.5-.2 5.5 .6 3.2 .9 2.9 1.5 2.3 2 1.7 2.5 1 4-.9 4.5-2.3 3.5-3.9 2.7-6.5 1.9-7 .1-6.5-.9-7.5-2.6-1.5 .9-4.5 4.6-2.5 1.4-3 1zM785.5 331.1l-5 .3-4-1.1-2.7-2.3-1.8-3.9-.6-7.1 .9-6 2.2-3.8 3.7-2.2 5.3-.4 3.7 .9 3 2.5 1.8 3.9 .6 7.1-.9 6-2.4 4-3.8 2.1zM937.5 193l-7.5-.3-3-1-2.5-1.4-2.3-2.3-1.5-2.5-.9-3-.3-3 .4-4.5 1.3-3.5 2.3-3 3.7-3 .8-1.5-2.8-8.5-1.1-6.5-.1-8 1.3-7 1.7-4.5 2.5-3.8 3-2.4 3.5-.9 3.5 .6 3.5 2.6 2.6 3.9 2 5.5 1 7.5-.2 8-1.4 6.5-3.1 8 .6 1.5 2.9 3.5 1.4 2.5 .9 3 .3 3-.6 5.5-2.4 4.5-4 3-5.5 1.5zM1080.5 336.6l-6-.2-5-1.6-3.5-2.8-2.5-4.5-.8-6.5 .7-8 1.1-2.8 1.5-2.2 4-3 6-1.2 4.5 .1 3.2 .6 4.3 2.4 4 5 1 .5 6-2.4 4-.9 7.5-.3 5.5 .6 3.5 1 2.5 1.3 2.2 1.8 1.6 2.5 .9 4-.7 4.5-2.4 3.5-3.7 2.5-6.4 1.7-8 0-6-1.1-5.5-2.5-1.5-.2-6 5.9-3 1.5-3 .8zM785.5 330.6l-5 .3-3.5-.9-3-2.5-1.6-3.5-.6-7 .8-5.5 2.3-4 3.6-2.1 5-.3 3.5 .9 3 2.5 1.6 3.5 .6 7-.8 5.5-2.2 4-3.7 2.1zM937.5 192.5l-7-.2-3-.9-2.5-1.4-2.1-2-1.6-2.5-.9-3-.3-3 .4-4.5 1.3-3.5 2-2.5 4.2-3.3 .8-1.2-.1-1.5-3.1-7.5-1-6-.2-8 1.2-7 1.9-4.8 2.5-3.6 3-2.2 3-.8 3.5 .7 3.5 2.7 2.5 4 1.7 5 1 7.5-.3 8-1.4 6-3.5 8 .6 1.5 4.4 5.5 1.1 3 .4 3.5-.7 5.5-2.3 4.2-4 3-5 1.3zM1079 336l-5.5-.4-4.3-1.6-3.2-2.8-2.1-4.2-.7-7 .7-7 2.6-4.8 4-2.8 6-1.1 4.5 .2 3 .7 3.8 2.3 3.7 5.1 1.5 .9 5.5-2.8 4-1.1 7.5-.4 6 .6 3.5 1.1 2.5 1.4 1.8 1.7 1.5 2.5 .7 4.5-.9 4-2.2 3-3.9 2.4-6.5 1.4-8.5-.2-5-1.1-6.5-3.2-1 .6-3.1 4.1-2.4 2-3.5 1.5-3.5 .5zM785.5 330.1l-5 .3-3.4-.9-2.6-2.2-1.6-3.3-.7-6.5 .8-6 2.1-3.5 3.4-2.1 5-.3 3.4 .9 2.6 2.2 1.6 3.3 .7 7-.8 5.5-2 3.5-3.5 2.1zM937.5 192l-7-.2-3-1-2.3-1.3-1.7-1.6-1.6-2.4-1-3-.3-3 .4-4.5 1.5-3.5 2.1-2.5 4.8-3.5 .5-1-3.4-7.9-1.4-6.1-.3-8 1.2-7.5 1.7-4.5 2.3-3.5 3-2.3 3-.8 3.5 .7 3 2.3 2.5 3.8 1.9 5.3 .9 7.5-.5 8-1.7 6.5-3.5 7 .5 1.5 3.4 3.4 1.5 2.3 1 2.8 .4 3.5-.6 5.5-2.3 4-3.5 2.6-5 1.4zM1081.5 335.1l-6 .2-4.5-1.1-3.5-2.2-2.6-4-1.2-6 .5-8 2.3-4.9 1.6-1.6 2.4-1.5 3-.9 3-.2 4.1 .1 3.4 .8 4 2.7 3.5 5.5 1 .8 5-3.1 3-1.2 4.5-.7 6-.1 4.5 .4 4 1.3 3 2 1.9 2.6 .8 4-.6 4.5-2 3-3.6 2.4-6.5 1.5-9-.3-5.5-1.5-5.5-3.6-1 .5-4.5 6-2.5 1.6-3 1zM785 329.6l-4.5 .3-3.2-.9-2.4-2-1.7-3.5-.6-6 .7-5.5 2-3.5 3.2-2 4.5-.4 3.5 .8 2.6 2.1 1.7 3.5 .6 6.5-.9 5.5-2 3.2-3.5 1.9zM937.5 191.5l-7-.3-2.5-.7-2.5-1.5-2-2-1.2-2-1.1-5.5 .4-4.5 1.6-3.5 2.3-2.5 4.7-3 .9-1.5-3.6-6.7-1.8-6.3-.4-8.5 1.1-7.5 1.7-4.5 2.3-3.5 2.6-2 3-.7 3.5 .7 3 2.4 2.5 4.1 1.5 4.5 .9 8-.7 8-1.7 5.5-3.7 6-.4 1.5 5.9 6.5 1.2 3 .4 3.5-.6 5-2.1 4-3.7 2.8-4.5 1.2zM1080.5 334.6l-5.5 0-4.5-1.3-3.1-2.3-2.3-4-.9-6 .8-7.5 2.4-4.5 3.6-2.5 3.5-.9 4-.1 3.5 .4 2.5 .8 2 1.3 1.9 2 3.6 6.8 1-.3 3.4-3.5 2.6-1.5 4-1.1 5-.3 6 .2 4.5 1.2 3.2 2 2.2 3 .6 4-.7 4-2.1 3-3.2 2-3.2 1-3.8 .5-9.5-.6-5-2-5-4.5-3 5.3-2 2.5-3 1.9-3.5 1zM785 329.1l-4.5 .2-3-.8-2.5-2.2-1.5-3.3-.5-6 .8-5 2.2-3.5 3-1.6 4.5-.2 3 .8 2.5 2.2 1.5 3.3 .5 6-.8 5-2.2 3.5-3 1.6zM937 191l-6.5-.3-4.5-2-3-3.7-.9-2.5-.3-3 .4-4.5 1.8-3.7 2.5-2.4 5.5-2.9 .8-1-3.8-5.5-2-4.7-1.2-6.3 0-7 1.2-6.3 2.3-5.2 3.2-3.3 3.5-1.1 3 .6 3 2.1 2.5 3.9 1.6 4.8 .8 8-.9 8.3-2.1 5.7-4.4 5.5-.3 1 4.8 4 2 2.4 1.4 3.1 .4 3.5-.4 4.5-2.1 4-3.3 2.6-5 1.4zM1079.5 334l-5.5-.2-4-1.5-3-2.8-1.7-4-.5-7.5 1.1-5.5 1.1-2 1.9-2 4.1-2 7-.3 4.6 1.3 3.4 3 2.4 5.5 .5 3-.1 3.5-1 3.5-1.3 2.8-1.7 2.2-2 1.5-2.3 1-3 .5zM784.5 328.6l-4 .1-3-.9-2.1-1.8-1.4-3.1-.5-5.9 .7-4.5 1.8-3.2 3-1.7 4-.3 3.2 .7 2.3 1.9 1.5 3.2 .5 5.9-.8 5-2 3-3.2 1.6zM1111 330.5l-5.5-.1-4-.6-3.3-1.3-2.5-2-1.8-3-.5-3.5 .9-3.5 1.9-2.5 2.3-1.6 3-1.2 8.5-.7 7 1 3 1.4 1.9 1.6 1.4 2.5 .5 3-.4 3.5-1.2 2.5-1.7 1.8-2.5 1.4-3 .9-4 .4zM937 164.1l-1.5 0-2-.8-2-1.6-2.1-2.7-2.3-6-.9-7 .5-7.5 2.2-6.5 3.1-3.9 2-1.2 2-.4 2 .2 2 .9 2 1.8 1.4 2.1 2.1 5.5 .9 7-.5 7-1.9 6.4-3 4.3-2 1.6-2 .8zM936 190.5l-5.5-.4-4.4-2.1-2.7-3.5-1-5 .6-5 2.5-4 4-2.5 6-1.7 4 1.1 4.6 3.1 2.3 3.5 .8 4.5-.6 5-2.1 3.5-3.6 2.5-4.9 1zM1081.5 333l-5.5 .3-4.1-.8-3.4-2.2-2.1-3.3-1-5.5 .6-7.3 2.3-4.2 3.7-2.5 5.5-.8 5.5 .8 3.5 2.2 2.4 3.8 .8 3 .2 3.5-.2 3.5-.8 3-1.3 2.5-1.6 1.8-2 1.3-2.5 .9zM784 328l-4 0-2.5-.9-2-2-1.2-3.1-.3-5.5 .7-4 1.8-2.8 3-1.6 4-.2 3 1 2 2 1.2 3.1 .3 6-.9 4-2.1 2.8-3 1.2zM1111.5 330l-9.1-.5-3.4-1.2-2.5-1.9-1.7-2.9-.4-4 .8-3 1.9-2.5 2.4-1.5 3-1 7.5-.5 6.5 .9 2.6 1.1 1.9 1.5 1.5 2.4 .5 2.6-.2 3.5-1 2.5-1.8 1.9-2 1.2-3 1-3.5 .4zM937.5 162.6l-2 .1-2-.7-3.5-3.4-2.4-5.6-.9-6.5 .4-7 1.9-6.3 3-4.1 2-1.2 2-.4 2 .2 2 .9 3 3.4 2 5.2 .9 6.3-.4 6.8-1.5 5.7-3 4.6-3.5 2zM938.5 189.6l-5 .3-4-.7-3.5-2.2-2-2.8-1-4.2 .5-5 2-3.5 3.5-2.6 5-1.3 4.5 .3 4 2.1 3 3.6 1.1 4.9-.2 3-.7 2.5-2.7 3.5-4.5 2.1zM1080 332.6l-5.3-.1-3.7-1.2-2.7-2.3-1.7-3.5-.6-6.5 .9-5.5 2.3-3.5 3.8-2.1 6-.5 4.5 1.1 3.2 2.5 1.9 4 .5 7-1.2 5-1.4 2.3-2 1.7-4.5 1.6zM782 327.5l-3-.4-2.5-1.7-1.5-2.9-.5-3.5 .3-4.5 1.2-3.3 2.5-2.1 3-.6 3.5 .4 2.4 1.6 1.6 3 .5 3.5-.4 5-1.3 3-2.3 1.9-3.5 .6zM1111.5 329.5l-5.3 0-3.7-.5-3-1.1-2.4-1.9-1.6-3-.2-3.5 .7-2.9 1.5-2.1 2.3-1.5 2.7-1 7.5-.5 6.5 .9 2.2 1.1 1.8 1.5 1.3 2 .5 2.5-.1 3-.9 2.5-1.8 2-2 1.2-6 1.3zM937 161.6l-3.5-.7-1.8-1.4-1.5-2-2.1-5-.8-6.5 .4-6.5 1.8-5.8 3-3.9 3.5-1.3 3.5 .9 3 3.2 2 5 .8 6.4-.4 6.5-1.7 5.5-2.7 3.9-1.5 1-2 .7zM938 189.1l-4.5 .2-4-.8-3.1-2-1.9-2.9-.8-4.1 .6-4.5 2.1-3.5 3.1-2 4.5-1.1 4.5 .4 4 2.1 2.5 3.2 .9 4.9-1 5-1.3 2-1.6 1.5-4 1.6zM1081.5 331.5l-5 .4-4-.7-3-2-1.8-2.7-1-5 .5-6.5 1.8-3.7 3.1-2.3 4.4-.9 5.5 .6 3.2 1.8 2.3 3.4 .9 5.1-.7 6.5-2.5 4-3.7 2zM784.5 326.5l-3.5 .3-2.5-.7-1.9-1.6-1.1-2.4-.4-4.6 .5-4 1.4-2.5 2.5-1.5 3.5-.3 2.5 .7 1.9 1.6 1.1 2.4 .4 4.6-.5 4-1.4 2.5-2.5 1.5zM1111 329l-5 0-3.5-.6-3-1.3-1.9-1.6-1.3-2.5-.2-3.5 .8-3 1.6-1.9 4.5-2.1 7.5-.5 5.8 1 3.7 2.5 1.1 2 .4 2.5-.3 3-.8 2-1.4 1.5-2.5 1.4-5.5 1.1zM938.5 160l-3.5 .3-2-.9-1.5-1.4-2.4-4.5-1.1-5.5 0-6.5 1.5-6.1 1.5-2.8 1.5-1.6 1.5-1 2-.5 3 .7 2.8 2.8 1.9 4 1 5.5-.1 6-1.1 5-2 4-3 2.5zM937 188.5l-4 .1-3.5-.9-3-2.2-1.5-2.6-.6-4.4 .8-4 2.3-3 3-1.7 5-.6 4 .7 3.2 2.1 1.9 3 .6 5-1.2 4.2-2.6 2.8-4.4 1.5zM1080 331l-4.5 .1-3.5-1-2.5-2-1.6-3.1-.5-5.5 .7-5 1.9-3.1 3.5-2.1 5-.4 4 .8 3 2.2 1.6 3.1 .6 6-1 5-1.1 2-1.6 1.5-4 1.5zM782.5 326l-2.5-.2-2-.9-1.5-2-.8-2.9 0-4 .8-3 2-2.2 2.5-.8 3 .2 2 .9 1.5 2 .8 2.9-.1 4.5-1 3-2.2 2-2.5 .5zM1114 328.1l-4 .4-5-.2-3-.7-2.5-1.3-1.7-1.8-.8-2.5 .1-3.5 1.1-2.5 3.3-2.4 5-1 7 .3 4.5 1.7 1.4 1.4 1 2 0 5-1.9 3-2 1.2-2.5 .9zM938 159l-3.5 0-3-2.4-2-4.1-1-5.5 .3-6.5 1.5-5 2.5-3.5 3.2-1.3 3 .7 2.5 2.6 1.6 3.5 .9 5 0 5.5-1.1 5-1.9 3.7-3 2.3zM938 187.6l-4 .3-3.5-.6-2.5-1.4-1.9-2.4-.9-3.5 .3-4 1.5-2.9 2.5-2 4-1.1 4.5 .3 3.5 1.7 2 2.5 .9 4-.7 4.5-2.2 3-3.5 1.6zM1080.5 330.1l-4.5 .2-3-.7-2.4-1.6-1.7-2.5-.8-4.5 .5-5.5 1.5-3 2.9-2.1 4-.7 4.5 .5 2.9 1.8 1.7 2.5 .8 5-.6 5.5-2.3 3.4-3.5 1.7zM783.5 325.1l-2.5 0-2-.5-1.5-1.4-.9-2.2-.2-4 .5-3 1.1-1.8 2-1.2 3-.1 2 .5 1.5 1.4 .9 2.2 .2 4-.5 3-1.3 2-2.3 1.1zM1113.5 327.5l-8.5 .2-2.7-.7-2.3-1.3-1.4-1.7-.7-2 .1-3.5 1-2.2 3-2.2 4.5-.9 7 .3 4 1.7 1.2 1.3 .9 2-.1 4.5-.8 1.5-1.5 1.5-3.7 1.5zM937 158l-3-.5-2.5-2.5-1.6-4-.7-5 .3-5.5 1.5-4.5 2.3-3 2.7-1.1 2.5 .6 2.6 2.5 1.6 4 .7 5-.2 5-1.3 4.5-2 3-2.9 1.5zM937 187l-3.5 .1-3-.7-2.5-1.7-1.4-2.2-.6-3 .5-3.8 1.5-2.4 2.5-1.8 4-.7 4 .5 2.9 1.7 1.6 2.5 .6 4-.8 3.5-2.3 2.7-3.5 1.3zM1080.5 329.1l-4 .3-3-.6-2.1-1.3-1.7-2.5-.8-4 .5-5 1.5-3 2.6-1.8 3.5-.6 4 .4 2.6 1.5 1.7 2.5 .8 4.5-.6 5-1.9 3-3.1 1.6zM783.5 324.1l-2.5 .1-1.5-.5-1.4-1.2-.8-2-.2-3.5 .5-2.5 .9-1.5 2-1.1 2.5-.1 1.5 .5 1.4 1.2 .8 2 .2 3.5-.5 2.5-.9 1.5-2 1.1zM1112.5 327l-7.5 0-2.5-.7-2-1.3-1.2-1.5-.5-2 .2-3 1-2 3-2 4.5-.7 5.5 .3 4 1.8 1.6 2.6-.1 4.5-2 2.5-4 1.5zM937.5 156.5l-2.5 0-2.5-1.9-1.8-3.6-.7-4.5 .2-5 1.3-4.5 2-2.6 2.5-1.1 2.5 .6 2 2 1.5 3.5 .6 4.1-.1 4.6-1 4-1.7 2.9-2.3 1.5zM937.5 186l-3 .3-3-.5-2.4-1.3-1.5-2-.6-2.5 .2-3.5 1.3-2.4 2-1.6 3-.8 4 .2 2.5 1.2 2 2.4 .6 3.5-.6 3.5-2 2.4-2.5 1.1zM1080.5 328.1l-3.5 .3-3-.5-2-1.2-1.5-2.2-.7-3.5 .4-4.5 1.2-2.5 2.1-1.7 3-.7 4 .3 2.5 1.4 1.5 2.2 .7 4-.5 4.5-1.7 2.7-2.5 1.4zM783 323l-2 0-1.3-.5-1.5-2.5-.2-3 .5-2 1-1.4 1.5-.6 2 0 1.3 .5 1.5 2.5 .2 3-.5 2-1 1.4-1.5 .6zM1110 326.5l-5.9-.5-3.2-2-.9-2-.1-2.5 .6-2 1-1.2 3.5-1.5 5.2-.3 3.8 .7 2.7 1.8 .8 1.5 .3 2-.3 2-.8 1.5-2.7 1.8-4 .7zM937 155.1l-2.5-.5-1.7-1.6-1.4-3-.6-4 .2-4.2 1-3.4 1.6-2.4 2.4-1.1 2 .4 2 2 1.3 3.2 .5 3.5-.2 4-.9 3.5-1.7 2.5-2 1.1zM937 185.1l-5-.1-2-1.1-1.4-1.9-.6-2.5 .2-2.5 1-2 1.8-1.5 2.5-.8 3.5 .2 2.5 1.1 1.5 1.9 .6 3.1-.6 3-1.6 2-2.4 1.1zM1080 327l-3 .3-2.5-.4-2-1.3-1-1.6-.6-3 .3-4 1.3-2.5 2-1.4 2.5-.4 3 .3 2 1 1.5 2 .6 3.5-.4 4-1.2 2.1-2.5 1.4zM782.5 321.6l-2-.3-1.2-1.8 .2-3.5 1.5-1.5 2.5 .2 1.2 1.8-.2 3.6-.6 .9-1.4 .6zM1111.5 325.6l-5.8-.1-3.3-1.5-1.1-1.5-.2-1.5 .1-2 .8-1.6 2.5-1.6 3.5-.5 4.5 .3 2.7 1.4 1.2 2-.1 3.5-1.7 2-3.1 1.1zM937.5 153l-2 .2-1.7-1.2-1.3-2.3-.7-3.2 .1-3.5 .7-3 1.4-2.2 2-1 1.5 .2 1.5 1.2 1.2 2.3 .6 3-.6 6-1.2 2.3-1.5 1.2zM936.5 184l-4-.1-1.6-.9-1.2-1.5-.4-2 .2-2.4 .9-1.6 1.2-1 2.4-.6 2.6 .1 1.9 .8 1.4 1.7 .4 2.5-.4 2.5-1.4 1.6-2 .9zM1080 325.6l-4.5 .1-1.6-.7-1.2-1.5-.6-2.5 .1-3 .8-2 1.5-1.4 2-.5 3 .2 1.6 .7 1.2 1.5 .6 2.5-.2 3.5-1.1 2-1.6 1.1zM1111.5 324.6l-5 0-2.8-1.1-.8-1-.4-1.5 .7-3 1.8-1.2 2.5-.5 4 .2 2.4 1 1.2 2-.2 2.5-1 1.5-2.4 1.1zM937 150.7l-1.5 0-1-.8-1-1.9-.3-2 .5-4.5 .9-1.5 1.4-.8 1.5 .3 .9 1 1.1 3.5-.5 4.3-1 1.7-1 .7zM936 182.5l-3-.1-1.7-1.4-.3-3 1.5-2.1 3.5-.4 2.3 1.5 .4 1.5-.2 2-1 1.4-1.5 .6zM1079 324l-3.1 0-1.9-1.8-.2-3.7 .6-1.5 1.1-.8 3.5-.2 1.1 .5 .9 1.3 .1 4.2-.6 1.1-1.5 .9zM1109.5 323.5l-2.5-.1-2-1-.7-1.9 .8-2 1.4-.8 2.5-.2 2 .2 1.5 .8 .7 1.5-.3 2-1.1 1-2.3 .5z"/><g fill="none" stroke="#2a2a2a" stroke-width="1.4"><rect x="1.2" y="67.5" width="568" height="567.9"/><rect x="620.2" y="67.5" width="567.4" height="567.9"/></g><g fill="none" stroke="#484848" stroke-width="1.4"><path d="M48.5 635.4V659.5M667.3 635.4V659.5M1187.6 114.8H1211.8M143.2 635.4V659.5M762.0 635.4V659.5M1187.6 209.5H1211.8M237.8 635.4V659.5M856.6 635.4V659.5M1187.6 304.1H1211.8M332.5 635.4V659.5M951.3 635.4V659.5M1187.6 398.8H1211.8M427.2 635.4V659.5M1046.0 635.4V659.5M1187.6 493.5H1211.8M521.9 635.4V659.5M1140.7 635.4V659.5M1187.6 588.1H1211.8"/></g><text class="tk" x="48.5" y="712.6" text-anchor="middle">70</text><text class="tk" x="667.3" y="712.6" text-anchor="middle">70</text><text class="tk" x="143.2" y="712.6" text-anchor="middle">60</text><text class="tk" x="762.0" y="712.6" text-anchor="middle">60</text><text class="tk" x="237.8" y="712.6" text-anchor="middle">50</text><text class="tk" x="856.6" y="712.6" text-anchor="middle">50</text><text class="tk" x="332.5" y="712.6" text-anchor="middle">40</text><text class="tk" x="951.3" y="712.6" text-anchor="middle">40</text><text class="tk" x="427.2" y="712.6" text-anchor="middle">30</text><text class="tk" x="1046.0" y="712.6" text-anchor="middle">30</text><text class="tk" x="521.9" y="712.6" text-anchor="middle">20</text><text class="tk" x="1140.7" y="712.6" text-anchor="middle">20</text><text class="tk" x="1220" y="134.8">20</text><text class="tk" x="1220" y="229.5">30</text><text class="tk" x="1220" y="324.1">40</text><text class="tk" x="1220" y="418.8">50</text><text class="tk" x="1220" y="513.5">60</text><text class="tk" x="1220" y="608.1">70</text><text class="ax" x="26.0" y="778"><tspan class="sp" dy="-16">13</tspan><tspan dy="16">C Chemical shift (ppm)</tspan></text><text class="ax" x="646.0" y="778"><tspan class="sp" dy="-16">13</tspan><tspan dy="16">C Chemical shift (ppm)</tspan></text><text class="ax" transform="translate(1338.5 616.0) rotate(-90)" x="0" y="0"><tspan class="sp" dy="-16">13</tspan><tspan dy="16">C Chemical shift (ppm)</tspan></text><text x="281.2" y="36" text-anchor="middle" style="font-weight:bold;font-size:48px">(a)</text><text x="901.2" y="36" text-anchor="middle" style="font-weight:bold;font-size:48px">(b)</text><text x="6.0" y="272.3" class="lb">LC&#947;-VC&#945;</text><text x="6.0" y="272.3" class="lb2">LC&#947;-VC&#945;</text><text x="6.0" y="394.1" class="lb">LC&#946;-VC&#945;</text><text x="6.0" y="394.1" class="lb2">LC&#946;-VC&#945;</text><text x="6.5" y="519.5" class="lb">LC&#945;-VC&#945;</text><text x="6.5" y="519.5" class="lb2">LC&#945;-VC&#945;</text><text x="136.2" y="284.2" class="lb">VC&#946;-LC&#945;</text><text x="136.2" y="284.2" class="lb2">VC&#946;-LC&#945;</text><text x="182.4" y="222.2" class="lb">VC&#946;-LC&#946;</text><text x="182.4" y="222.2" class="lb2">VC&#946;-LC&#946;</text><text x="300.5" y="105.0" class="lb">LC&#947;-VC&#946;</text><text x="300.5" y="105.0" class="lb2">LC&#947;-VC&#946;</text><path d="M32.4 251.8L61.4 197.7" class="ar"/><path d="M66.1 188.9L64.8 201.8L56.0 197.1Z" fill="#0000ff"/><path d="M50.6 372.1L65.3 342.5" class="ar"/><path d="M69.8 333.6L68.9 346.6L60.0 342.1Z" fill="#0000ff"/><path d="M47.7 501.2L62.3 488.5" class="ar"/><path d="M69.8 481.9L64.1 493.6L57.5 486.0Z" fill="#0000ff"/><path d="M184.0 264.6L173.0 240.8" class="ar"/><path d="M168.8 231.7L178.4 240.5L169.3 244.7Z" fill="#0000ff"/><path d="M288.7 214.4L300.4 218.5" class="ar"/><path d="M308.0 221.1L297.1 222.1L300.0 213.6Z" fill="#0000ff"/><path d="M352.4 107.0L401.1 165.9" class="ar"/><path d="M407.5 173.6L396.0 167.5L403.7 161.2Z" fill="#0000ff"/><text x="624.8" y="272.3" class="lb">LC&#947;-VC&#945;</text><text x="624.8" y="272.3" class="lb2">LC&#947;-VC&#945;</text><text x="624.8" y="394.1" class="lb">LC&#946;-VC&#945;</text><text x="624.8" y="394.1" class="lb2">LC&#946;-VC&#945;</text><text x="625.3" y="519.5" class="lb">LC&#945;-VC&#945;</text><text x="625.3" y="519.5" class="lb2">LC&#945;-VC&#945;</text><text x="755.0" y="284.2" class="lb">VC&#946;-LC&#945;</text><text x="755.0" y="284.2" class="lb2">VC&#946;-LC&#945;</text><text x="801.2" y="222.2" class="lb">VC&#946;-LC&#946;</text><text x="801.2" y="222.2" class="lb2">VC&#946;-LC&#946;</text><text x="919.3" y="105.0" class="lb">LC&#947;-VC&#946;</text><text x="919.3" y="105.0" class="lb2">LC&#947;-VC&#946;</text><path d="M651.2 251.8L680.2 197.7" class="ar"/><path d="M684.9 188.9L683.6 201.8L674.8 197.1Z" fill="#0000ff"/><path d="M669.4 372.1L684.1 342.5" class="ar"/><path d="M688.6 333.6L687.7 346.6L678.8 342.1Z" fill="#0000ff"/><path d="M666.5 501.2L681.1 488.5" class="ar"/><path d="M688.6 481.9L682.9 493.6L676.3 486.0Z" fill="#0000ff"/><path d="M802.8 264.6L791.8 240.8" class="ar"/><path d="M787.6 231.7L797.2 240.5L788.1 244.7Z" fill="#0000ff"/><path d="M907.5 214.4L919.2 218.5" class="ar"/><path d="M926.8 221.1L915.9 222.1L918.8 213.6Z" fill="#0000ff"/><path d="M971.2 107.0L1019.9 165.9" class="ar"/><path d="M1026.3 173.6L1014.8 167.5L1022.5 161.2Z" fill="#0000ff"/></svg></body></html>
